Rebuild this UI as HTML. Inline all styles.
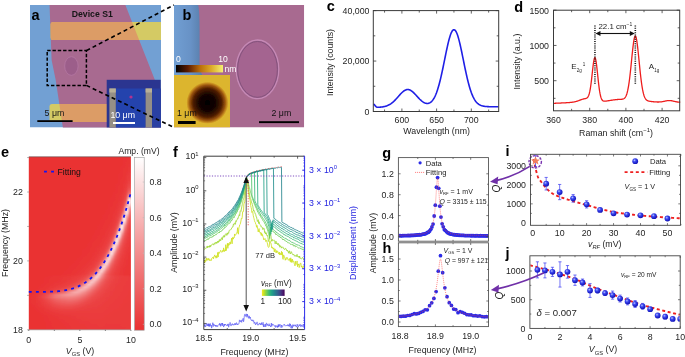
<!DOCTYPE html>
<html><head><meta charset="utf-8"><style>
html,body{margin:0;padding:0;background:#fff;width:685px;height:357px;overflow:hidden}
svg{display:block;will-change:transform}
text{font-family:"Liberation Sans", sans-serif}
</style></head><body>
<svg width="685" height="357" viewBox="0 0 685 357">
<defs><clipPath id="aclip"><rect x="30" y="5" width="131" height="122.5"/></clipPath><clipPath id="bclip"><rect x="174" y="5" width="130.2" height="122.5"/></clipPath><filter id="soft" x="-20%" y="-20%" width="140%" height="140%"><feGaussianBlur stdDeviation="0.5"/></filter><filter id="soft2" x="-20%" y="-20%" width="140%" height="140%"><feGaussianBlur stdDeviation="1.2"/></filter><radialGradient id="afm" cx="0.5" cy="0.5" r="0.5"><stop offset="0" stop-color="#000000"/><stop offset="0.4" stop-color="#140400"/><stop offset="0.68" stop-color="#4e1c00"/><stop offset="0.84" stop-color="#98520c"/><stop offset="0.94" stop-color="#c88e20"/><stop offset="1" stop-color="#dcb430"/></radialGradient><linearGradient id="afmcb" x1="0" y1="0" x2="1" y2="0"><stop offset="0" stop-color="#000000"/><stop offset="0.25" stop-color="#5a1a00"/><stop offset="0.5" stop-color="#b86a08"/><stop offset="0.75" stop-color="#dcaa28"/><stop offset="1" stop-color="#f4f070"/></linearGradient></defs>
<g clip-path="url(#aclip)">
<rect x="30" y="5" width="131" height="122.5" fill="#72a0d3" stroke="none" stroke-width="1"/>
<path d="M49.5 4 L125 4 L175 131 L63 131 L62.8 127 L55.7 80 L51.6 60 Z" fill="#a86a90"/>
<defs><clipPath id="flakeclip"><path d="M49.5 4 L125 4 L175 131 L63 131 L62.8 127 L55.7 80 L51.6 60 Z"/></clipPath></defs>
<rect x="50.6" y="22" width="115" height="18" rx="2.5" fill="#d4ca64"/>
<g clip-path="url(#flakeclip)"><rect x="50.6" y="22" width="115" height="18" rx="2.5" fill="#dc9c66"/></g>
<rect x="49.5" y="104" width="115" height="18" rx="2.5" fill="#d4ca64"/>
<g clip-path="url(#flakeclip)"><rect x="49.5" y="104" width="115" height="18" rx="2.5" fill="#dc9c66"/></g>
<ellipse cx="71.4" cy="66" rx="6.7" ry="9.3" fill="#9c5e8a" stroke="#b87aa6" stroke-width="0.7"/>
<rect x="106.7" y="79.8" width="54" height="48" fill="#2b3590" stroke="none" stroke-width="1"/>
<rect x="116" y="88.5" width="29.4" height="40" fill="#2443ad" stroke="none" stroke-width="1"/>
<rect x="152" y="88.5" width="9" height="40" fill="#2a40a2" stroke="none" stroke-width="1"/>
<rect x="109.4" y="88.5" width="6.4" height="40" fill="#958f86"/><rect x="145.6" y="88.5" width="6.4" height="40" fill="#958f86"/>
<rect x="109.4" y="88.5" width="6.4" height="4" fill="#b8b098"/><rect x="145.6" y="88.5" width="6.4" height="4" fill="#b8b098"/>
<circle cx="131" cy="97" r="1.6" fill="#b03090" filter="url(#soft)"/>
</g>
<rect x="47.2" y="50.6" width="39.2" height="34.8" fill="none" stroke="#000" stroke-width="1.5" stroke-dasharray="3.4 1.9"/>
<line x1="86.4" y1="50.6" x2="174" y2="5" stroke="#000" stroke-width="1.6" stroke-dasharray="4 3"/>
<line x1="86.4" y1="85.4" x2="174" y2="127.5" stroke="#000" stroke-width="1.6" stroke-dasharray="4 3"/>
<text x="92.3" y="16.6" font-size="8.7" text-anchor="middle" font-weight="bold" fill="#161616">Device S1</text>
<text x="44.6" y="116.2" font-size="8.8" text-anchor="start" fill="#161616">5 μm</text>
<rect x="37.3" y="120.2" width="35.3" height="1.8" fill="#000" stroke="none" stroke-width="1"/>
<text x="110.4" y="117.6" font-size="8.8" text-anchor="start" fill="#ffffff">10 μm</text>
<rect x="113" y="122" width="22" height="2" fill="#fff" stroke="none" stroke-width="1"/>
<text x="31.5" y="19.5" font-size="14.5" text-anchor="start" font-weight="bold" fill="#000">a</text>
<g clip-path="url(#bclip)">
<rect x="174" y="5" width="130.2" height="122.5" fill="#a86a90" stroke="none" stroke-width="1"/>
<defs><linearGradient id="bblue" x1="0" y1="0" x2="1" y2="0"><stop offset="0" stop-color="#72a0d4"/><stop offset="0.6" stop-color="#6892c6"/><stop offset="1" stop-color="#587ca8"/></linearGradient></defs>
<path d="M172 4 L198 4 Q199.6 10 199.6 30 L199.6 64 Q200 72 203 76 L172 76 Z" fill="url(#bblue)"/>
<ellipse cx="257.5" cy="69.3" rx="21.3" ry="29.3" fill="#a46490" stroke="#c58ab6" stroke-width="1.3"/>
<ellipse cx="257.5" cy="69.4" rx="19.9" ry="27.9" fill="none" stroke="#80507a" stroke-width="0.9" filter="url(#soft)"/>
<rect x="174" y="75" width="56" height="52.5" fill="#dcb52e" stroke="none" stroke-width="1"/>
<circle cx="207.4" cy="102.8" r="21" fill="url(#afm)" filter="url(#soft)"/>
</g>
<rect x="176" y="65" width="47" height="7.4" fill="url(#afmcb)" stroke="none" stroke-width="1"/>
<text x="176" y="62.2" font-size="8.6" text-anchor="start" fill="#fff">0</text>
<text x="218.3" y="62.2" font-size="8.6" text-anchor="start" fill="#fff">10</text>
<text x="224.4" y="71.8" font-size="8.6" text-anchor="start" fill="#fff">nm</text>
<text x="177" y="116.3" font-size="8.8" text-anchor="start" fill="#111">1 μm</text>
<rect x="178" y="121" width="17.6" height="3" fill="#000" stroke="none" stroke-width="1"/>
<text x="271.5" y="116.3" font-size="8.8" text-anchor="start" fill="#111">2 μm</text>
<rect x="259" y="121.2" width="40" height="1.9" fill="#000" stroke="none" stroke-width="1"/>
<text x="182.4" y="19.9" font-size="14.5" text-anchor="start" font-weight="bold" fill="#000">b</text>
<path d="M373.45 104.21 L373.97 104.38 L374.49 104.86 L375.01 105.5 L375.53 106.14 L376.05 106.65 L376.57 106.99 L377.09 107.19 L377.61 107.27 L378.13 107.29 L378.65 107.28 L379.17 107.26 L379.69 107.22 L380.21 107.17 L380.73 107.12 L381.25 107.07 L381.77 107 L382.29 106.93 L382.81 106.85 L383.34 106.76 L383.86 106.66 L384.38 106.55 L384.9 106.42 L385.42 106.28 L385.94 106.13 L386.46 105.96 L386.98 105.77 L387.5 105.56 L388.02 105.34 L388.54 105.09 L389.06 104.82 L389.58 104.54 L390.1 104.23 L390.62 103.89 L391.14 103.54 L391.66 103.16 L392.18 102.75 L392.7 102.32 L393.22 101.87 L393.75 101.4 L394.27 100.91 L394.79 100.39 L395.31 99.86 L395.83 99.31 L396.35 98.75 L396.87 98.18 L397.39 97.59 L397.91 97 L398.43 96.41 L398.95 95.82 L399.47 95.23 L399.99 94.65 L400.51 94.08 L401.03 93.53 L401.55 92.99 L402.07 92.49 L402.59 92.01 L403.11 91.56 L403.63 91.15 L404.16 90.78 L404.68 90.45 L405.2 90.17 L405.72 89.94 L406.24 89.76 L406.76 89.63 L407.28 89.55 L407.8 89.54 L408.32 89.57 L408.84 89.66 L409.36 89.81 L409.88 90.01 L410.4 90.25 L410.92 90.55 L411.44 90.89 L411.96 91.27 L412.48 91.68 L413 92.14 L413.52 92.62 L414.04 93.13 L414.57 93.65 L415.09 94.2 L415.61 94.76 L416.13 95.33 L416.65 95.9 L417.17 96.48 L417.69 97.05 L418.21 97.61 L418.73 98.16 L419.25 98.7 L419.77 99.23 L420.29 99.73 L420.81 100.21 L421.33 100.67 L421.85 101.09 L422.37 101.49 L422.89 101.86 L423.41 102.2 L423.93 102.49 L424.45 102.76 L424.98 102.98 L425.5 103.16 L426.02 103.3 L426.54 103.39 L427.06 103.44 L427.58 103.44 L428.1 103.38 L428.62 103.28 L429.14 103.11 L429.66 102.89 L430.18 102.6 L430.7 102.25 L431.22 101.82 L431.74 101.32 L432.26 100.75 L432.78 100.1 L433.3 99.36 L433.82 98.53 L434.34 97.61 L434.86 96.59 L435.39 95.48 L435.91 94.26 L436.43 92.94 L436.95 91.51 L437.47 89.98 L437.99 88.34 L438.51 86.6 L439.03 84.75 L439.55 82.79 L440.07 80.74 L440.59 78.6 L441.11 76.36 L441.63 74.05 L442.15 71.67 L442.67 69.22 L443.19 66.72 L443.71 64.18 L444.23 61.62 L444.75 59.05 L445.27 56.48 L445.8 53.93 L446.32 51.42 L446.84 48.97 L447.36 46.58 L447.88 44.3 L448.4 42.11 L448.92 40.06 L449.44 38.15 L449.96 36.4 L450.48 34.83 L451 33.44 L451.52 32.26 L452.04 31.3 L452.56 30.55 L453.08 30.04 L453.6 29.76 L454.12 29.72 L454.64 29.91 L455.16 30.35 L455.68 31.01 L456.21 31.9 L456.73 33.01 L457.25 34.32 L457.77 35.83 L458.29 37.52 L458.81 39.37 L459.33 41.38 L459.85 43.51 L460.37 45.77 L460.89 48.12 L461.41 50.54 L461.93 53.03 L462.45 55.57 L462.97 58.13 L463.49 60.7 L464.01 63.27 L464.53 65.82 L465.05 68.33 L465.57 70.79 L466.09 73.2 L466.62 75.54 L467.14 77.81 L467.66 79.99 L468.18 82.08 L468.7 84.07 L469.22 85.97 L469.74 87.76 L470.26 89.45 L470.78 91.04 L471.3 92.52 L471.82 93.9 L472.34 95.18 L472.86 96.37 L473.38 97.46 L473.9 98.46 L474.42 99.37 L474.94 100.2 L475.46 100.96 L475.98 101.64 L476.5 102.26 L477.03 102.81 L477.55 103.31 L478.07 103.75 L478.59 104.14 L479.11 104.49 L479.63 104.8 L480.15 105.07 L480.67 105.3 L481.19 105.51 L481.71 105.69 L482.23 105.85 L482.75 105.99 L483.27 106.1 L483.79 106.21 L484.31 106.29 L484.83 106.37 L485.35 106.43 L485.87 106.49 L486.39 106.53 L486.91 106.57 L487.44 106.61 L487.96 106.63 L488.48 106.66 L489 106.68 L489.52 106.7 L490.04 106.71 L490.56 106.72 L491.08 106.73 L491.6 106.74 L492.12 106.75 L492.64 106.75 L493.16 106.76 L493.68 106.76 L494.2 106.77 L494.72 106.77 L495.24 106.77 L495.76 106.77 L496.28 106.77 L496.8 106.78 L497.32 106.78 L497.85 106.78 L498.37 106.78" stroke="#1f1fe6" stroke-width="1.6" fill="none" stroke-linejoin="round"/>
<rect x="373.3" y="10.6" width="125.4" height="100.9" fill="none" stroke="#3a3a3a" stroke-width="1"/>
<line x1="384.55" y1="10.6" x2="384.55" y2="12.6" stroke="#3a3a3a" stroke-width="0.8"/>
<line x1="384.55" y1="111.5" x2="384.55" y2="109.5" stroke="#3a3a3a" stroke-width="0.8"/>
<line x1="401.9" y1="10.6" x2="401.9" y2="13.6" stroke="#3a3a3a" stroke-width="0.8"/>
<line x1="401.9" y1="111.5" x2="401.9" y2="108.5" stroke="#3a3a3a" stroke-width="0.8"/>
<line x1="419.25" y1="10.6" x2="419.25" y2="12.6" stroke="#3a3a3a" stroke-width="0.8"/>
<line x1="419.25" y1="111.5" x2="419.25" y2="109.5" stroke="#3a3a3a" stroke-width="0.8"/>
<line x1="436.6" y1="10.6" x2="436.6" y2="13.6" stroke="#3a3a3a" stroke-width="0.8"/>
<line x1="436.6" y1="111.5" x2="436.6" y2="108.5" stroke="#3a3a3a" stroke-width="0.8"/>
<line x1="453.95" y1="10.6" x2="453.95" y2="12.6" stroke="#3a3a3a" stroke-width="0.8"/>
<line x1="453.95" y1="111.5" x2="453.95" y2="109.5" stroke="#3a3a3a" stroke-width="0.8"/>
<line x1="471.3" y1="10.6" x2="471.3" y2="13.6" stroke="#3a3a3a" stroke-width="0.8"/>
<line x1="471.3" y1="111.5" x2="471.3" y2="108.5" stroke="#3a3a3a" stroke-width="0.8"/>
<line x1="488.65" y1="10.6" x2="488.65" y2="12.6" stroke="#3a3a3a" stroke-width="0.8"/>
<line x1="488.65" y1="111.5" x2="488.65" y2="109.5" stroke="#3a3a3a" stroke-width="0.8"/>
<line x1="373.3" y1="111.5" x2="376.3" y2="111.5" stroke="#3a3a3a" stroke-width="0.8"/>
<line x1="498.7" y1="111.5" x2="495.7" y2="111.5" stroke="#3a3a3a" stroke-width="0.8"/>
<line x1="373.3" y1="86.28" x2="375.3" y2="86.28" stroke="#3a3a3a" stroke-width="0.8"/>
<line x1="498.7" y1="86.28" x2="496.7" y2="86.28" stroke="#3a3a3a" stroke-width="0.8"/>
<line x1="373.3" y1="61.06" x2="376.3" y2="61.06" stroke="#3a3a3a" stroke-width="0.8"/>
<line x1="498.7" y1="61.06" x2="495.7" y2="61.06" stroke="#3a3a3a" stroke-width="0.8"/>
<line x1="373.3" y1="35.84" x2="375.3" y2="35.84" stroke="#3a3a3a" stroke-width="0.8"/>
<line x1="498.7" y1="35.84" x2="496.7" y2="35.84" stroke="#3a3a3a" stroke-width="0.8"/>
<line x1="373.3" y1="10.62" x2="376.3" y2="10.62" stroke="#3a3a3a" stroke-width="0.8"/>
<line x1="498.7" y1="10.62" x2="495.7" y2="10.62" stroke="#3a3a3a" stroke-width="0.8"/>
<text x="369.5" y="114.6" font-size="8.8" text-anchor="end" fill="#242424">0</text>
<text x="369.5" y="64.16" font-size="8.8" text-anchor="end" fill="#242424">20,000</text>
<text x="369.5" y="13.72" font-size="8.8" text-anchor="end" fill="#242424">40,000</text>
<text x="401.9" y="122.6" font-size="8.8" text-anchor="middle" fill="#242424">600</text>
<text x="436.6" y="122.6" font-size="8.8" text-anchor="middle" fill="#242424">650</text>
<text x="471.3" y="122.6" font-size="8.8" text-anchor="middle" fill="#242424">700</text>
<text x="436.6" y="134" font-size="8.8" text-anchor="middle" fill="#242424">Wavelength (nm)</text>
<text x="333" y="62.5" font-size="8.8" text-anchor="middle" fill="#242424" transform="rotate(-90 333 62.5)">Intensity (counts)</text>
<text x="326.8" y="11" font-size="14.5" text-anchor="start" font-weight="bold" fill="#000">c</text>
<path d="M553.5 103.35 L553.95 103.33 L554.4 103.31 L554.86 103.29 L555.31 103.27 L555.76 103.25 L556.22 103.22 L556.67 103.2 L557.12 103.18 L557.57 103.16 L558.02 103.14 L558.48 103.12 L558.93 103.09 L559.38 103.07 L559.84 103.05 L560.29 103.03 L560.74 103.01 L561.19 102.98 L561.64 102.96 L562.1 102.94 L562.55 102.92 L563 102.89 L563.46 102.87 L563.91 102.85 L564.36 102.83 L564.81 102.8 L565.26 102.78 L565.72 102.76 L566.17 102.73 L566.62 102.71 L567.08 102.68 L567.53 102.65 L567.98 102.62 L568.43 102.6 L568.88 102.56 L569.34 102.53 L569.79 102.49 L570.24 102.46 L570.7 102.41 L571.15 102.37 L571.6 102.32 L572.05 102.26 L572.5 102.2 L572.96 102.13 L573.41 102.05 L573.86 101.97 L574.32 101.87 L574.77 101.77 L575.22 101.66 L575.67 101.56 L576.12 101.45 L576.58 101.32 L577.03 101.19 L577.48 101.05 L577.93 100.9 L578.39 100.74 L578.84 100.58 L579.29 100.41 L579.75 100.23 L580.2 100.06 L580.65 99.89 L581.1 99.72 L581.55 99.56 L582.01 99.4 L582.46 99.25 L582.91 99.12 L583.37 99 L583.82 98.89 L584.27 98.79 L584.72 98.7 L585.17 98.61 L585.63 98.51 L586.08 98.38 L586.53 98.2 L586.99 97.95 L587.44 97.57 L587.89 97.02 L588.34 96.25 L588.79 95.17 L589.25 93.74 L589.7 91.89 L590.15 89.56 L590.61 86.76 L591.06 83.49 L591.51 79.82 L591.96 75.86 L592.41 71.77 L592.87 67.78 L593.32 64.12 L593.77 61.05 L594.23 58.83 L594.68 57.66 L595.13 57.67 L595.58 58.87 L596.03 61.16 L596.49 64.33 L596.94 68.14 L597.39 72.33 L597.85 76.64 L598.3 80.85 L598.75 84.79 L599.2 88.33 L599.65 91.4 L600.11 93.96 L600.56 96.02 L601.01 97.63 L601.47 98.84 L601.92 99.72 L602.37 100.34 L602.82 100.74 L603.27 100.99 L603.73 101.14 L604.18 101.2 L604.63 101.21 L605.09 101.19 L605.54 101.15 L605.99 101.09 L606.44 101.03 L606.89 100.96 L607.35 100.89 L607.8 100.82 L608.25 100.74 L608.71 100.67 L609.16 100.6 L609.61 100.52 L610.06 100.45 L610.51 100.38 L610.97 100.31 L611.42 100.24 L611.87 100.17 L612.33 100.1 L612.78 100.03 L613.23 99.97 L613.68 99.9 L614.13 99.84 L614.59 99.78 L615.04 99.73 L615.49 99.68 L615.95 99.63 L616.4 99.59 L616.85 99.55 L617.3 99.52 L617.75 99.49 L618.21 99.47 L618.66 99.44 L619.11 99.42 L619.57 99.41 L620.02 99.39 L620.47 99.37 L620.92 99.35 L621.38 99.32 L621.83 99.27 L622.28 99.21 L622.73 99.11 L623.18 98.98 L623.64 98.79 L624.09 98.52 L624.54 98.16 L625 97.68 L625.45 97.06 L625.9 96.24 L626.35 95.22 L626.81 93.93 L627.26 92.36 L627.71 90.46 L628.16 88.22 L628.62 85.6 L629.07 82.6 L629.52 79.23 L629.97 75.5 L630.42 71.47 L630.88 67.2 L631.33 62.76 L631.78 58.27 L632.24 53.84 L632.69 49.61 L633.14 45.71 L633.59 42.3 L634.04 39.51 L634.5 37.48 L634.95 36.3 L635.4 36.04 L635.86 36.71 L636.31 38.27 L636.76 40.65 L637.21 43.74 L637.66 47.4 L638.12 51.49 L638.57 55.86 L639.02 60.38 L639.48 64.91 L639.93 69.34 L640.38 73.58 L640.83 77.55 L641.28 81.19 L641.74 84.48 L642.19 87.39 L642.64 89.93 L643.1 92.11 L643.55 93.94 L644 95.47 L644.45 96.72 L644.9 97.74 L645.36 98.55 L645.81 99.2 L646.26 99.71 L646.72 100.1 L647.17 100.41 L647.62 100.66 L648.07 100.85 L648.52 101 L648.98 101.12 L649.43 101.23 L649.88 101.31 L650.34 101.39 L650.79 101.45 L651.24 101.51 L651.69 101.57 L652.14 101.62 L652.6 101.67 L653.05 101.71 L653.5 101.75 L653.96 101.79 L654.41 101.83 L654.86 101.86 L655.31 101.89 L655.76 101.92 L656.22 101.94 L656.67 101.96 L657.12 101.98 L657.58 101.99 L658.03 101.99 L658.48 101.99 L658.93 101.98 L659.38 101.97 L659.84 101.95 L660.29 101.92 L660.74 101.88 L661.2 101.84 L661.65 101.78 L662.1 101.72 L662.55 101.65 L663 101.57 L663.46 101.48 L663.91 101.39 L664.36 101.29 L664.82 101.19 L665.27 101.09 L665.72 100.99 L666.17 100.89 L666.62 100.81 L667.08 100.73 L667.53 100.66 L667.98 100.61 L668.43 100.57 L668.89 100.54 L669.34 100.54 L669.79 100.55 L670.25 100.58 L670.7 100.62 L671.15 100.69 L671.6 100.76 L672.06 100.85 L672.51 100.94 L672.96 101.04 L673.41 101.15 L673.87 101.26 L674.32 101.37 L674.77 101.47 L675.22 101.57 L675.67 101.67 L676.13 101.76 L676.58 101.85 L677.03 101.92 L677.49 101.99 L677.94 102.05 L678.39 102.1 L678.84 102.15 L679.29 102.19 L679.75 102.22 L680.2 102.25" stroke="#ee1c1c" stroke-width="1.3" fill="none" stroke-linejoin="round"/>
<rect x="553.5" y="10.2" width="126.2" height="100.6" fill="none" stroke="#3a3a3a" stroke-width="1"/>
<line x1="571.6" y1="10.2" x2="571.6" y2="12.2" stroke="#3a3a3a" stroke-width="0.8"/>
<line x1="571.6" y1="110.8" x2="571.6" y2="108.8" stroke="#3a3a3a" stroke-width="0.8"/>
<line x1="589.7" y1="10.2" x2="589.7" y2="13.2" stroke="#3a3a3a" stroke-width="0.8"/>
<line x1="589.7" y1="110.8" x2="589.7" y2="107.8" stroke="#3a3a3a" stroke-width="0.8"/>
<line x1="607.8" y1="10.2" x2="607.8" y2="12.2" stroke="#3a3a3a" stroke-width="0.8"/>
<line x1="607.8" y1="110.8" x2="607.8" y2="108.8" stroke="#3a3a3a" stroke-width="0.8"/>
<line x1="625.9" y1="10.2" x2="625.9" y2="13.2" stroke="#3a3a3a" stroke-width="0.8"/>
<line x1="625.9" y1="110.8" x2="625.9" y2="107.8" stroke="#3a3a3a" stroke-width="0.8"/>
<line x1="644" y1="10.2" x2="644" y2="12.2" stroke="#3a3a3a" stroke-width="0.8"/>
<line x1="644" y1="110.8" x2="644" y2="108.8" stroke="#3a3a3a" stroke-width="0.8"/>
<line x1="662.1" y1="10.2" x2="662.1" y2="13.2" stroke="#3a3a3a" stroke-width="0.8"/>
<line x1="662.1" y1="110.8" x2="662.1" y2="107.8" stroke="#3a3a3a" stroke-width="0.8"/>
<line x1="553.5" y1="98.32" x2="555.5" y2="98.32" stroke="#3a3a3a" stroke-width="0.8"/>
<line x1="679.7" y1="98.32" x2="677.7" y2="98.32" stroke="#3a3a3a" stroke-width="0.8"/>
<line x1="553.5" y1="80.7" x2="556.5" y2="80.7" stroke="#3a3a3a" stroke-width="0.8"/>
<line x1="679.7" y1="80.7" x2="676.7" y2="80.7" stroke="#3a3a3a" stroke-width="0.8"/>
<line x1="553.5" y1="63.07" x2="555.5" y2="63.07" stroke="#3a3a3a" stroke-width="0.8"/>
<line x1="679.7" y1="63.07" x2="677.7" y2="63.07" stroke="#3a3a3a" stroke-width="0.8"/>
<line x1="553.5" y1="45.45" x2="556.5" y2="45.45" stroke="#3a3a3a" stroke-width="0.8"/>
<line x1="679.7" y1="45.45" x2="676.7" y2="45.45" stroke="#3a3a3a" stroke-width="0.8"/>
<line x1="553.5" y1="27.82" x2="555.5" y2="27.82" stroke="#3a3a3a" stroke-width="0.8"/>
<line x1="679.7" y1="27.82" x2="677.7" y2="27.82" stroke="#3a3a3a" stroke-width="0.8"/>
<line x1="553.5" y1="10.2" x2="556.5" y2="10.2" stroke="#3a3a3a" stroke-width="0.8"/>
<line x1="679.7" y1="10.2" x2="676.7" y2="10.2" stroke="#3a3a3a" stroke-width="0.8"/>
<text x="549" y="84.4" font-size="8.8" text-anchor="end" fill="#242424">500</text>
<text x="549" y="49.15" font-size="8.8" text-anchor="end" fill="#242424">1000</text>
<text x="549" y="13.9" font-size="8.8" text-anchor="end" fill="#242424">1500</text>
<text x="553.5" y="122.6" font-size="8.8" text-anchor="middle" fill="#242424">360</text>
<text x="589.7" y="122.6" font-size="8.8" text-anchor="middle" fill="#242424">380</text>
<text x="625.9" y="122.6" font-size="8.8" text-anchor="middle" fill="#242424">400</text>
<text x="662.1" y="122.6" font-size="8.8" text-anchor="middle" fill="#242424">420</text>
<text x="616" y="135.5" font-size="8.8" text-anchor="middle" fill="#242424">Raman shift (cm<tspan font-size="6" dy="-3.5">−1</tspan><tspan dy="3.5">)</tspan></text>
<text x="520.2" y="61.5" font-size="8.8" text-anchor="middle" fill="#242424" transform="rotate(-90 520.2 61.5)">Intensity (a.u.)</text>
<text x="514.3" y="11.6" font-size="14.5" text-anchor="start" font-weight="bold" fill="#000">d</text>
<line x1="594.95" y1="25.6" x2="594.95" y2="84.8" stroke="#111" stroke-width="1.6" stroke-dasharray="1 1.2"/>
<line x1="635.31" y1="25.6" x2="635.31" y2="84.8" stroke="#111" stroke-width="1.6" stroke-dasharray="1 1.2"/>
<line x1="599.45" y1="33.5" x2="630.81" y2="33.5" stroke="#111" stroke-width="1.1"/>
<path d="M595.45 33.5 L600.45 31 L600.45 36 Z M634.81 33.5 L629.81 31 L629.81 36 Z" fill="#111"/>
<text x="615.3" y="28.6" font-size="7.9" text-anchor="middle" fill="#242424">22.1 cm<tspan font-size="5" dy="-3">−1</tspan></text>
<text x="571.3" y="69" font-size="8.0" text-anchor="start" fill="#242424">E<tspan font-size="4.5" dy="2.5">2g</tspan><tspan font-size="4.5" dy="-5.5" dx="1.2">1</tspan></text>
<text x="648.8" y="69" font-size="8.0" text-anchor="start" fill="#242424">A<tspan font-size="4.5" dy="2.5">1g</tspan></text>
<defs>
<linearGradient id="eg0" x1="0" y1="0" x2="0" y2="1"><stop offset="0.000" stop-color="#ea3132"/><stop offset="0.014" stop-color="#ea3132"/><stop offset="0.029" stop-color="#ea3132"/><stop offset="0.043" stop-color="#ea3132"/><stop offset="0.057" stop-color="#ea3132"/><stop offset="0.071" stop-color="#ea3132"/><stop offset="0.086" stop-color="#ea3132"/><stop offset="0.100" stop-color="#ea3132"/><stop offset="0.114" stop-color="#ea3132"/><stop offset="0.129" stop-color="#ea3132"/><stop offset="0.143" stop-color="#ea3132"/><stop offset="0.157" stop-color="#ea3132"/><stop offset="0.171" stop-color="#ea3132"/><stop offset="0.186" stop-color="#ea3132"/><stop offset="0.200" stop-color="#ea3132"/><stop offset="0.214" stop-color="#ea3132"/><stop offset="0.229" stop-color="#ea3132"/><stop offset="0.243" stop-color="#ea3132"/><stop offset="0.257" stop-color="#ea3132"/><stop offset="0.271" stop-color="#ea3132"/><stop offset="0.286" stop-color="#ea3132"/><stop offset="0.300" stop-color="#ea3132"/><stop offset="0.314" stop-color="#ea3132"/><stop offset="0.329" stop-color="#ea3132"/><stop offset="0.343" stop-color="#ea3132"/><stop offset="0.357" stop-color="#ea3132"/><stop offset="0.371" stop-color="#ea3132"/><stop offset="0.386" stop-color="#ea3132"/><stop offset="0.400" stop-color="#ea3132"/><stop offset="0.414" stop-color="#ea3132"/><stop offset="0.429" stop-color="#ea3132"/><stop offset="0.443" stop-color="#ea3132"/><stop offset="0.457" stop-color="#ea3132"/><stop offset="0.471" stop-color="#ea3132"/><stop offset="0.486" stop-color="#ea3132"/><stop offset="0.500" stop-color="#ea3132"/><stop offset="0.514" stop-color="#ea3132"/><stop offset="0.529" stop-color="#ea3132"/><stop offset="0.543" stop-color="#ea3132"/><stop offset="0.557" stop-color="#ea3132"/><stop offset="0.571" stop-color="#ea3132"/><stop offset="0.586" stop-color="#ea3132"/><stop offset="0.600" stop-color="#ea3132"/><stop offset="0.614" stop-color="#ea3132"/><stop offset="0.629" stop-color="#ea3132"/><stop offset="0.643" stop-color="#ea3132"/><stop offset="0.657" stop-color="#ea3132"/><stop offset="0.671" stop-color="#ea3132"/><stop offset="0.686" stop-color="#ea3132"/><stop offset="0.700" stop-color="#ea3132"/><stop offset="0.714" stop-color="#ea3132"/><stop offset="0.729" stop-color="#ea3132"/><stop offset="0.743" stop-color="#ea3132"/><stop offset="0.757" stop-color="#ea3132"/><stop offset="0.771" stop-color="#ea3132"/><stop offset="0.786" stop-color="#ea3233"/><stop offset="0.800" stop-color="#ea3233"/><stop offset="0.814" stop-color="#ea3334"/><stop offset="0.829" stop-color="#ea3334"/><stop offset="0.843" stop-color="#ea3233"/><stop offset="0.857" stop-color="#ea3233"/><stop offset="0.871" stop-color="#ea3132"/><stop offset="0.886" stop-color="#ea3132"/><stop offset="0.900" stop-color="#ea3132"/><stop offset="0.914" stop-color="#ea3132"/><stop offset="0.929" stop-color="#ea3132"/><stop offset="0.943" stop-color="#ea3132"/><stop offset="0.957" stop-color="#ea3132"/><stop offset="0.971" stop-color="#ea3132"/><stop offset="0.986" stop-color="#ea3132"/><stop offset="1.000" stop-color="#ea3132"/></linearGradient>
<linearGradient id="eg1" x1="0" y1="0" x2="0" y2="1"><stop offset="0.000" stop-color="#ea3132"/><stop offset="0.014" stop-color="#ea3132"/><stop offset="0.029" stop-color="#ea3132"/><stop offset="0.043" stop-color="#ea3132"/><stop offset="0.057" stop-color="#ea3132"/><stop offset="0.071" stop-color="#ea3132"/><stop offset="0.086" stop-color="#ea3132"/><stop offset="0.100" stop-color="#ea3132"/><stop offset="0.114" stop-color="#ea3132"/><stop offset="0.129" stop-color="#ea3132"/><stop offset="0.143" stop-color="#ea3132"/><stop offset="0.157" stop-color="#ea3132"/><stop offset="0.171" stop-color="#ea3132"/><stop offset="0.186" stop-color="#ea3132"/><stop offset="0.200" stop-color="#ea3132"/><stop offset="0.214" stop-color="#ea3132"/><stop offset="0.229" stop-color="#ea3132"/><stop offset="0.243" stop-color="#ea3132"/><stop offset="0.257" stop-color="#ea3132"/><stop offset="0.271" stop-color="#ea3132"/><stop offset="0.286" stop-color="#ea3132"/><stop offset="0.300" stop-color="#ea3132"/><stop offset="0.314" stop-color="#ea3132"/><stop offset="0.329" stop-color="#ea3132"/><stop offset="0.343" stop-color="#ea3132"/><stop offset="0.357" stop-color="#ea3132"/><stop offset="0.371" stop-color="#ea3132"/><stop offset="0.386" stop-color="#ea3132"/><stop offset="0.400" stop-color="#ea3132"/><stop offset="0.414" stop-color="#ea3132"/><stop offset="0.429" stop-color="#ea3132"/><stop offset="0.443" stop-color="#ea3132"/><stop offset="0.457" stop-color="#ea3132"/><stop offset="0.471" stop-color="#ea3132"/><stop offset="0.486" stop-color="#ea3132"/><stop offset="0.500" stop-color="#ea3132"/><stop offset="0.514" stop-color="#ea3132"/><stop offset="0.529" stop-color="#ea3132"/><stop offset="0.543" stop-color="#ea3132"/><stop offset="0.557" stop-color="#ea3132"/><stop offset="0.571" stop-color="#ea3132"/><stop offset="0.586" stop-color="#ea3132"/><stop offset="0.600" stop-color="#ea3132"/><stop offset="0.614" stop-color="#ea3132"/><stop offset="0.629" stop-color="#ea3132"/><stop offset="0.643" stop-color="#ea3132"/><stop offset="0.657" stop-color="#ea3132"/><stop offset="0.671" stop-color="#ea3132"/><stop offset="0.686" stop-color="#ea3132"/><stop offset="0.700" stop-color="#ea3132"/><stop offset="0.714" stop-color="#ea3132"/><stop offset="0.729" stop-color="#ea3132"/><stop offset="0.743" stop-color="#ea3132"/><stop offset="0.757" stop-color="#ea3132"/><stop offset="0.771" stop-color="#ea3233"/><stop offset="0.786" stop-color="#ea3334"/><stop offset="0.800" stop-color="#ea3435"/><stop offset="0.814" stop-color="#ea3435"/><stop offset="0.829" stop-color="#ea3435"/><stop offset="0.843" stop-color="#ea3334"/><stop offset="0.857" stop-color="#ea3233"/><stop offset="0.871" stop-color="#ea3233"/><stop offset="0.886" stop-color="#ea3132"/><stop offset="0.900" stop-color="#ea3132"/><stop offset="0.914" stop-color="#ea3132"/><stop offset="0.929" stop-color="#ea3132"/><stop offset="0.943" stop-color="#ea3132"/><stop offset="0.957" stop-color="#ea3132"/><stop offset="0.971" stop-color="#ea3132"/><stop offset="0.986" stop-color="#ea3132"/><stop offset="1.000" stop-color="#ea3132"/></linearGradient>
<linearGradient id="eg2" x1="0" y1="0" x2="0" y2="1"><stop offset="0.000" stop-color="#ea3132"/><stop offset="0.014" stop-color="#ea3132"/><stop offset="0.029" stop-color="#ea3132"/><stop offset="0.043" stop-color="#ea3132"/><stop offset="0.057" stop-color="#ea3132"/><stop offset="0.071" stop-color="#ea3132"/><stop offset="0.086" stop-color="#ea3132"/><stop offset="0.100" stop-color="#ea3132"/><stop offset="0.114" stop-color="#ea3132"/><stop offset="0.129" stop-color="#ea3132"/><stop offset="0.143" stop-color="#ea3132"/><stop offset="0.157" stop-color="#ea3132"/><stop offset="0.171" stop-color="#ea3132"/><stop offset="0.186" stop-color="#ea3132"/><stop offset="0.200" stop-color="#ea3132"/><stop offset="0.214" stop-color="#ea3132"/><stop offset="0.229" stop-color="#ea3132"/><stop offset="0.243" stop-color="#ea3132"/><stop offset="0.257" stop-color="#ea3132"/><stop offset="0.271" stop-color="#ea3132"/><stop offset="0.286" stop-color="#ea3132"/><stop offset="0.300" stop-color="#ea3132"/><stop offset="0.314" stop-color="#ea3132"/><stop offset="0.329" stop-color="#ea3132"/><stop offset="0.343" stop-color="#ea3132"/><stop offset="0.357" stop-color="#ea3132"/><stop offset="0.371" stop-color="#ea3132"/><stop offset="0.386" stop-color="#ea3132"/><stop offset="0.400" stop-color="#ea3132"/><stop offset="0.414" stop-color="#ea3132"/><stop offset="0.429" stop-color="#ea3132"/><stop offset="0.443" stop-color="#ea3132"/><stop offset="0.457" stop-color="#ea3132"/><stop offset="0.471" stop-color="#ea3132"/><stop offset="0.486" stop-color="#ea3132"/><stop offset="0.500" stop-color="#ea3132"/><stop offset="0.514" stop-color="#ea3132"/><stop offset="0.529" stop-color="#ea3132"/><stop offset="0.543" stop-color="#ea3132"/><stop offset="0.557" stop-color="#ea3132"/><stop offset="0.571" stop-color="#ea3132"/><stop offset="0.586" stop-color="#ea3132"/><stop offset="0.600" stop-color="#ea3132"/><stop offset="0.614" stop-color="#ea3132"/><stop offset="0.629" stop-color="#ea3132"/><stop offset="0.643" stop-color="#ea3132"/><stop offset="0.657" stop-color="#ea3132"/><stop offset="0.671" stop-color="#ea3132"/><stop offset="0.686" stop-color="#ea3132"/><stop offset="0.700" stop-color="#ea3132"/><stop offset="0.714" stop-color="#ea3132"/><stop offset="0.729" stop-color="#ea3132"/><stop offset="0.743" stop-color="#ea3132"/><stop offset="0.757" stop-color="#ea3233"/><stop offset="0.771" stop-color="#ea3334"/><stop offset="0.786" stop-color="#ea3536"/><stop offset="0.800" stop-color="#ea3637"/><stop offset="0.814" stop-color="#ea3636"/><stop offset="0.829" stop-color="#ea3536"/><stop offset="0.843" stop-color="#ea3435"/><stop offset="0.857" stop-color="#ea3334"/><stop offset="0.871" stop-color="#ea3233"/><stop offset="0.886" stop-color="#ea3233"/><stop offset="0.900" stop-color="#ea3132"/><stop offset="0.914" stop-color="#ea3132"/><stop offset="0.929" stop-color="#ea3132"/><stop offset="0.943" stop-color="#ea3132"/><stop offset="0.957" stop-color="#ea3132"/><stop offset="0.971" stop-color="#ea3132"/><stop offset="0.986" stop-color="#ea3132"/><stop offset="1.000" stop-color="#ea3132"/></linearGradient>
<linearGradient id="eg3" x1="0" y1="0" x2="0" y2="1"><stop offset="0.000" stop-color="#ea3132"/><stop offset="0.014" stop-color="#ea3132"/><stop offset="0.029" stop-color="#ea3132"/><stop offset="0.043" stop-color="#ea3132"/><stop offset="0.057" stop-color="#ea3132"/><stop offset="0.071" stop-color="#ea3132"/><stop offset="0.086" stop-color="#ea3132"/><stop offset="0.100" stop-color="#ea3132"/><stop offset="0.114" stop-color="#ea3132"/><stop offset="0.129" stop-color="#ea3132"/><stop offset="0.143" stop-color="#ea3132"/><stop offset="0.157" stop-color="#ea3132"/><stop offset="0.171" stop-color="#ea3132"/><stop offset="0.186" stop-color="#ea3132"/><stop offset="0.200" stop-color="#ea3132"/><stop offset="0.214" stop-color="#ea3132"/><stop offset="0.229" stop-color="#ea3132"/><stop offset="0.243" stop-color="#ea3132"/><stop offset="0.257" stop-color="#ea3132"/><stop offset="0.271" stop-color="#ea3132"/><stop offset="0.286" stop-color="#ea3132"/><stop offset="0.300" stop-color="#ea3132"/><stop offset="0.314" stop-color="#ea3132"/><stop offset="0.329" stop-color="#ea3132"/><stop offset="0.343" stop-color="#ea3132"/><stop offset="0.357" stop-color="#ea3132"/><stop offset="0.371" stop-color="#ea3132"/><stop offset="0.386" stop-color="#ea3132"/><stop offset="0.400" stop-color="#ea3132"/><stop offset="0.414" stop-color="#ea3132"/><stop offset="0.429" stop-color="#ea3132"/><stop offset="0.443" stop-color="#ea3132"/><stop offset="0.457" stop-color="#ea3132"/><stop offset="0.471" stop-color="#ea3132"/><stop offset="0.486" stop-color="#ea3132"/><stop offset="0.500" stop-color="#ea3132"/><stop offset="0.514" stop-color="#ea3132"/><stop offset="0.529" stop-color="#ea3132"/><stop offset="0.543" stop-color="#ea3132"/><stop offset="0.557" stop-color="#ea3132"/><stop offset="0.571" stop-color="#ea3132"/><stop offset="0.586" stop-color="#ea3132"/><stop offset="0.600" stop-color="#ea3132"/><stop offset="0.614" stop-color="#ea3132"/><stop offset="0.629" stop-color="#ea3132"/><stop offset="0.643" stop-color="#ea3132"/><stop offset="0.657" stop-color="#ea3132"/><stop offset="0.671" stop-color="#ea3132"/><stop offset="0.686" stop-color="#ea3132"/><stop offset="0.700" stop-color="#ea3132"/><stop offset="0.714" stop-color="#ea3132"/><stop offset="0.729" stop-color="#ea3233"/><stop offset="0.743" stop-color="#ea3233"/><stop offset="0.757" stop-color="#ea3334"/><stop offset="0.771" stop-color="#ea3435"/><stop offset="0.786" stop-color="#ea3839"/><stop offset="0.800" stop-color="#ea3a3b"/><stop offset="0.814" stop-color="#ea3839"/><stop offset="0.829" stop-color="#ea3738"/><stop offset="0.843" stop-color="#ea3637"/><stop offset="0.857" stop-color="#ea3435"/><stop offset="0.871" stop-color="#ea3334"/><stop offset="0.886" stop-color="#ea3233"/><stop offset="0.900" stop-color="#ea3233"/><stop offset="0.914" stop-color="#ea3233"/><stop offset="0.929" stop-color="#ea3132"/><stop offset="0.943" stop-color="#ea3132"/><stop offset="0.957" stop-color="#ea3132"/><stop offset="0.971" stop-color="#ea3132"/><stop offset="0.986" stop-color="#ea3132"/><stop offset="1.000" stop-color="#ea3132"/></linearGradient>
<linearGradient id="eg4" x1="0" y1="0" x2="0" y2="1"><stop offset="0.000" stop-color="#ea3132"/><stop offset="0.014" stop-color="#ea3132"/><stop offset="0.029" stop-color="#ea3132"/><stop offset="0.043" stop-color="#ea3132"/><stop offset="0.057" stop-color="#ea3132"/><stop offset="0.071" stop-color="#ea3132"/><stop offset="0.086" stop-color="#ea3132"/><stop offset="0.100" stop-color="#ea3132"/><stop offset="0.114" stop-color="#ea3132"/><stop offset="0.129" stop-color="#ea3132"/><stop offset="0.143" stop-color="#ea3132"/><stop offset="0.157" stop-color="#ea3132"/><stop offset="0.171" stop-color="#ea3132"/><stop offset="0.186" stop-color="#ea3132"/><stop offset="0.200" stop-color="#ea3132"/><stop offset="0.214" stop-color="#ea3132"/><stop offset="0.229" stop-color="#ea3132"/><stop offset="0.243" stop-color="#ea3132"/><stop offset="0.257" stop-color="#ea3132"/><stop offset="0.271" stop-color="#ea3132"/><stop offset="0.286" stop-color="#ea3132"/><stop offset="0.300" stop-color="#ea3132"/><stop offset="0.314" stop-color="#ea3132"/><stop offset="0.329" stop-color="#ea3132"/><stop offset="0.343" stop-color="#ea3132"/><stop offset="0.357" stop-color="#ea3132"/><stop offset="0.371" stop-color="#ea3132"/><stop offset="0.386" stop-color="#ea3132"/><stop offset="0.400" stop-color="#ea3132"/><stop offset="0.414" stop-color="#ea3132"/><stop offset="0.429" stop-color="#ea3132"/><stop offset="0.443" stop-color="#ea3132"/><stop offset="0.457" stop-color="#ea3132"/><stop offset="0.471" stop-color="#ea3132"/><stop offset="0.486" stop-color="#ea3132"/><stop offset="0.500" stop-color="#ea3132"/><stop offset="0.514" stop-color="#ea3132"/><stop offset="0.529" stop-color="#ea3132"/><stop offset="0.543" stop-color="#ea3132"/><stop offset="0.557" stop-color="#ea3132"/><stop offset="0.571" stop-color="#ea3132"/><stop offset="0.586" stop-color="#ea3132"/><stop offset="0.600" stop-color="#ea3132"/><stop offset="0.614" stop-color="#ea3132"/><stop offset="0.629" stop-color="#ea3132"/><stop offset="0.643" stop-color="#ea3132"/><stop offset="0.657" stop-color="#ea3132"/><stop offset="0.671" stop-color="#ea3132"/><stop offset="0.686" stop-color="#ea3233"/><stop offset="0.700" stop-color="#ea3233"/><stop offset="0.714" stop-color="#ea3233"/><stop offset="0.729" stop-color="#ea3233"/><stop offset="0.743" stop-color="#ea3334"/><stop offset="0.757" stop-color="#ea3435"/><stop offset="0.771" stop-color="#ea3637"/><stop offset="0.786" stop-color="#eb3c3d"/><stop offset="0.800" stop-color="#eb3f40"/><stop offset="0.814" stop-color="#eb3b3c"/><stop offset="0.829" stop-color="#ea393a"/><stop offset="0.843" stop-color="#ea3839"/><stop offset="0.857" stop-color="#ea3637"/><stop offset="0.871" stop-color="#ea3435"/><stop offset="0.886" stop-color="#ea3334"/><stop offset="0.900" stop-color="#ea3233"/><stop offset="0.914" stop-color="#ea3233"/><stop offset="0.929" stop-color="#ea3233"/><stop offset="0.943" stop-color="#ea3233"/><stop offset="0.957" stop-color="#ea3233"/><stop offset="0.971" stop-color="#ea3233"/><stop offset="0.986" stop-color="#ea3233"/><stop offset="1.000" stop-color="#ea3233"/></linearGradient>
<linearGradient id="eg5" x1="0" y1="0" x2="0" y2="1"><stop offset="0.000" stop-color="#ea3132"/><stop offset="0.014" stop-color="#ea3132"/><stop offset="0.029" stop-color="#ea3132"/><stop offset="0.043" stop-color="#ea3132"/><stop offset="0.057" stop-color="#ea3132"/><stop offset="0.071" stop-color="#ea3132"/><stop offset="0.086" stop-color="#ea3132"/><stop offset="0.100" stop-color="#ea3132"/><stop offset="0.114" stop-color="#ea3132"/><stop offset="0.129" stop-color="#ea3132"/><stop offset="0.143" stop-color="#ea3132"/><stop offset="0.157" stop-color="#ea3132"/><stop offset="0.171" stop-color="#ea3132"/><stop offset="0.186" stop-color="#ea3132"/><stop offset="0.200" stop-color="#ea3132"/><stop offset="0.214" stop-color="#ea3132"/><stop offset="0.229" stop-color="#ea3132"/><stop offset="0.243" stop-color="#ea3132"/><stop offset="0.257" stop-color="#ea3132"/><stop offset="0.271" stop-color="#ea3132"/><stop offset="0.286" stop-color="#ea3132"/><stop offset="0.300" stop-color="#ea3132"/><stop offset="0.314" stop-color="#ea3132"/><stop offset="0.329" stop-color="#ea3132"/><stop offset="0.343" stop-color="#ea3132"/><stop offset="0.357" stop-color="#ea3132"/><stop offset="0.371" stop-color="#ea3132"/><stop offset="0.386" stop-color="#ea3132"/><stop offset="0.400" stop-color="#ea3132"/><stop offset="0.414" stop-color="#ea3132"/><stop offset="0.429" stop-color="#ea3132"/><stop offset="0.443" stop-color="#ea3132"/><stop offset="0.457" stop-color="#ea3132"/><stop offset="0.471" stop-color="#ea3132"/><stop offset="0.486" stop-color="#ea3132"/><stop offset="0.500" stop-color="#ea3132"/><stop offset="0.514" stop-color="#ea3132"/><stop offset="0.529" stop-color="#ea3132"/><stop offset="0.543" stop-color="#ea3132"/><stop offset="0.557" stop-color="#ea3132"/><stop offset="0.571" stop-color="#ea3132"/><stop offset="0.586" stop-color="#ea3132"/><stop offset="0.600" stop-color="#ea3132"/><stop offset="0.614" stop-color="#ea3132"/><stop offset="0.629" stop-color="#ea3132"/><stop offset="0.643" stop-color="#ea3132"/><stop offset="0.657" stop-color="#ea3132"/><stop offset="0.671" stop-color="#ea3132"/><stop offset="0.686" stop-color="#ea3233"/><stop offset="0.700" stop-color="#ea3233"/><stop offset="0.714" stop-color="#ea3233"/><stop offset="0.729" stop-color="#ea3334"/><stop offset="0.743" stop-color="#ea3334"/><stop offset="0.757" stop-color="#ea3536"/><stop offset="0.771" stop-color="#ea3839"/><stop offset="0.786" stop-color="#eb4243"/><stop offset="0.800" stop-color="#ec4546"/><stop offset="0.814" stop-color="#eb3f40"/><stop offset="0.829" stop-color="#eb3c3d"/><stop offset="0.843" stop-color="#ea3a3b"/><stop offset="0.857" stop-color="#ea3738"/><stop offset="0.871" stop-color="#ea3536"/><stop offset="0.886" stop-color="#ea3435"/><stop offset="0.900" stop-color="#ea3334"/><stop offset="0.914" stop-color="#ea3233"/><stop offset="0.929" stop-color="#ea3233"/><stop offset="0.943" stop-color="#ea3233"/><stop offset="0.957" stop-color="#ea3233"/><stop offset="0.971" stop-color="#ea3233"/><stop offset="0.986" stop-color="#ea3233"/><stop offset="1.000" stop-color="#ea3233"/></linearGradient>
<linearGradient id="eg6" x1="0" y1="0" x2="0" y2="1"><stop offset="0.000" stop-color="#ea3132"/><stop offset="0.014" stop-color="#ea3132"/><stop offset="0.029" stop-color="#ea3132"/><stop offset="0.043" stop-color="#ea3132"/><stop offset="0.057" stop-color="#ea3132"/><stop offset="0.071" stop-color="#ea3132"/><stop offset="0.086" stop-color="#ea3132"/><stop offset="0.100" stop-color="#ea3132"/><stop offset="0.114" stop-color="#ea3132"/><stop offset="0.129" stop-color="#ea3132"/><stop offset="0.143" stop-color="#ea3132"/><stop offset="0.157" stop-color="#ea3132"/><stop offset="0.171" stop-color="#ea3132"/><stop offset="0.186" stop-color="#ea3132"/><stop offset="0.200" stop-color="#ea3132"/><stop offset="0.214" stop-color="#ea3132"/><stop offset="0.229" stop-color="#ea3132"/><stop offset="0.243" stop-color="#ea3132"/><stop offset="0.257" stop-color="#ea3132"/><stop offset="0.271" stop-color="#ea3132"/><stop offset="0.286" stop-color="#ea3132"/><stop offset="0.300" stop-color="#ea3132"/><stop offset="0.314" stop-color="#ea3132"/><stop offset="0.329" stop-color="#ea3132"/><stop offset="0.343" stop-color="#ea3132"/><stop offset="0.357" stop-color="#ea3132"/><stop offset="0.371" stop-color="#ea3132"/><stop offset="0.386" stop-color="#ea3132"/><stop offset="0.400" stop-color="#ea3132"/><stop offset="0.414" stop-color="#ea3132"/><stop offset="0.429" stop-color="#ea3132"/><stop offset="0.443" stop-color="#ea3132"/><stop offset="0.457" stop-color="#ea3132"/><stop offset="0.471" stop-color="#ea3132"/><stop offset="0.486" stop-color="#ea3132"/><stop offset="0.500" stop-color="#ea3132"/><stop offset="0.514" stop-color="#ea3132"/><stop offset="0.529" stop-color="#ea3132"/><stop offset="0.543" stop-color="#ea3132"/><stop offset="0.557" stop-color="#ea3132"/><stop offset="0.571" stop-color="#ea3132"/><stop offset="0.586" stop-color="#ea3132"/><stop offset="0.600" stop-color="#ea3132"/><stop offset="0.614" stop-color="#ea3132"/><stop offset="0.629" stop-color="#ea3132"/><stop offset="0.643" stop-color="#ea3132"/><stop offset="0.657" stop-color="#ea3132"/><stop offset="0.671" stop-color="#ea3132"/><stop offset="0.686" stop-color="#ea3233"/><stop offset="0.700" stop-color="#ea3334"/><stop offset="0.714" stop-color="#ea3334"/><stop offset="0.729" stop-color="#ea3334"/><stop offset="0.743" stop-color="#ea3435"/><stop offset="0.757" stop-color="#ea3637"/><stop offset="0.771" stop-color="#eb3b3c"/><stop offset="0.786" stop-color="#ec494a"/><stop offset="0.800" stop-color="#ec4c4d"/><stop offset="0.814" stop-color="#ec4445"/><stop offset="0.829" stop-color="#eb4041"/><stop offset="0.843" stop-color="#eb3d3e"/><stop offset="0.857" stop-color="#ea393a"/><stop offset="0.871" stop-color="#ea3738"/><stop offset="0.886" stop-color="#ea3536"/><stop offset="0.900" stop-color="#ea3334"/><stop offset="0.914" stop-color="#ea3334"/><stop offset="0.929" stop-color="#ea3334"/><stop offset="0.943" stop-color="#ea3233"/><stop offset="0.957" stop-color="#ea3233"/><stop offset="0.971" stop-color="#ea3233"/><stop offset="0.986" stop-color="#ea3233"/><stop offset="1.000" stop-color="#ea3233"/></linearGradient>
<linearGradient id="eg7" x1="0" y1="0" x2="0" y2="1"><stop offset="0.000" stop-color="#ea3132"/><stop offset="0.014" stop-color="#ea3132"/><stop offset="0.029" stop-color="#ea3132"/><stop offset="0.043" stop-color="#ea3132"/><stop offset="0.057" stop-color="#ea3132"/><stop offset="0.071" stop-color="#ea3132"/><stop offset="0.086" stop-color="#ea3132"/><stop offset="0.100" stop-color="#ea3132"/><stop offset="0.114" stop-color="#ea3132"/><stop offset="0.129" stop-color="#ea3132"/><stop offset="0.143" stop-color="#ea3132"/><stop offset="0.157" stop-color="#ea3132"/><stop offset="0.171" stop-color="#ea3132"/><stop offset="0.186" stop-color="#ea3132"/><stop offset="0.200" stop-color="#ea3132"/><stop offset="0.214" stop-color="#ea3132"/><stop offset="0.229" stop-color="#ea3132"/><stop offset="0.243" stop-color="#ea3132"/><stop offset="0.257" stop-color="#ea3132"/><stop offset="0.271" stop-color="#ea3132"/><stop offset="0.286" stop-color="#ea3132"/><stop offset="0.300" stop-color="#ea3132"/><stop offset="0.314" stop-color="#ea3132"/><stop offset="0.329" stop-color="#ea3132"/><stop offset="0.343" stop-color="#ea3132"/><stop offset="0.357" stop-color="#ea3132"/><stop offset="0.371" stop-color="#ea3132"/><stop offset="0.386" stop-color="#ea3132"/><stop offset="0.400" stop-color="#ea3132"/><stop offset="0.414" stop-color="#ea3132"/><stop offset="0.429" stop-color="#ea3132"/><stop offset="0.443" stop-color="#ea3132"/><stop offset="0.457" stop-color="#ea3132"/><stop offset="0.471" stop-color="#ea3132"/><stop offset="0.486" stop-color="#ea3132"/><stop offset="0.500" stop-color="#ea3132"/><stop offset="0.514" stop-color="#ea3132"/><stop offset="0.529" stop-color="#ea3132"/><stop offset="0.543" stop-color="#ea3132"/><stop offset="0.557" stop-color="#ea3132"/><stop offset="0.571" stop-color="#ea3132"/><stop offset="0.586" stop-color="#ea3132"/><stop offset="0.600" stop-color="#ea3132"/><stop offset="0.614" stop-color="#ea3132"/><stop offset="0.629" stop-color="#ea3132"/><stop offset="0.643" stop-color="#ea3132"/><stop offset="0.657" stop-color="#ea3132"/><stop offset="0.671" stop-color="#ea3132"/><stop offset="0.686" stop-color="#ea3334"/><stop offset="0.700" stop-color="#ea3334"/><stop offset="0.714" stop-color="#ea3334"/><stop offset="0.729" stop-color="#ea3435"/><stop offset="0.743" stop-color="#ea3536"/><stop offset="0.757" stop-color="#ea3839"/><stop offset="0.771" stop-color="#eb3f40"/><stop offset="0.786" stop-color="#ed5253"/><stop offset="0.800" stop-color="#ed5556"/><stop offset="0.814" stop-color="#ec4a4b"/><stop offset="0.829" stop-color="#ec4445"/><stop offset="0.843" stop-color="#eb4041"/><stop offset="0.857" stop-color="#eb3c3d"/><stop offset="0.871" stop-color="#ea3839"/><stop offset="0.886" stop-color="#ea3637"/><stop offset="0.900" stop-color="#ea3435"/><stop offset="0.914" stop-color="#ea3334"/><stop offset="0.929" stop-color="#ea3334"/><stop offset="0.943" stop-color="#ea3334"/><stop offset="0.957" stop-color="#ea3334"/><stop offset="0.971" stop-color="#ea3334"/><stop offset="0.986" stop-color="#ea3334"/><stop offset="1.000" stop-color="#ea3233"/></linearGradient>
<linearGradient id="eg8" x1="0" y1="0" x2="0" y2="1"><stop offset="0.000" stop-color="#ea3132"/><stop offset="0.014" stop-color="#ea3132"/><stop offset="0.029" stop-color="#ea3132"/><stop offset="0.043" stop-color="#ea3132"/><stop offset="0.057" stop-color="#ea3132"/><stop offset="0.071" stop-color="#ea3132"/><stop offset="0.086" stop-color="#ea3132"/><stop offset="0.100" stop-color="#ea3132"/><stop offset="0.114" stop-color="#ea3132"/><stop offset="0.129" stop-color="#ea3132"/><stop offset="0.143" stop-color="#ea3132"/><stop offset="0.157" stop-color="#ea3132"/><stop offset="0.171" stop-color="#ea3132"/><stop offset="0.186" stop-color="#ea3132"/><stop offset="0.200" stop-color="#ea3132"/><stop offset="0.214" stop-color="#ea3132"/><stop offset="0.229" stop-color="#ea3132"/><stop offset="0.243" stop-color="#ea3132"/><stop offset="0.257" stop-color="#ea3132"/><stop offset="0.271" stop-color="#ea3132"/><stop offset="0.286" stop-color="#ea3132"/><stop offset="0.300" stop-color="#ea3132"/><stop offset="0.314" stop-color="#ea3132"/><stop offset="0.329" stop-color="#ea3132"/><stop offset="0.343" stop-color="#ea3132"/><stop offset="0.357" stop-color="#ea3132"/><stop offset="0.371" stop-color="#ea3132"/><stop offset="0.386" stop-color="#ea3132"/><stop offset="0.400" stop-color="#ea3132"/><stop offset="0.414" stop-color="#ea3132"/><stop offset="0.429" stop-color="#ea3132"/><stop offset="0.443" stop-color="#ea3132"/><stop offset="0.457" stop-color="#ea3132"/><stop offset="0.471" stop-color="#ea3132"/><stop offset="0.486" stop-color="#ea3132"/><stop offset="0.500" stop-color="#ea3132"/><stop offset="0.514" stop-color="#ea3132"/><stop offset="0.529" stop-color="#ea3132"/><stop offset="0.543" stop-color="#ea3132"/><stop offset="0.557" stop-color="#ea3132"/><stop offset="0.571" stop-color="#ea3132"/><stop offset="0.586" stop-color="#ea3132"/><stop offset="0.600" stop-color="#ea3132"/><stop offset="0.614" stop-color="#ea3132"/><stop offset="0.629" stop-color="#ea3132"/><stop offset="0.643" stop-color="#ea3132"/><stop offset="0.657" stop-color="#ea3132"/><stop offset="0.671" stop-color="#ea3132"/><stop offset="0.686" stop-color="#ea3334"/><stop offset="0.700" stop-color="#ea3435"/><stop offset="0.714" stop-color="#ea3435"/><stop offset="0.729" stop-color="#ea3536"/><stop offset="0.743" stop-color="#ea3738"/><stop offset="0.757" stop-color="#eb3a3b"/><stop offset="0.771" stop-color="#eb4445"/><stop offset="0.786" stop-color="#ee5d5e"/><stop offset="0.800" stop-color="#ee6061"/><stop offset="0.814" stop-color="#ed5152"/><stop offset="0.829" stop-color="#ec494a"/><stop offset="0.843" stop-color="#eb4344"/><stop offset="0.857" stop-color="#eb3e3f"/><stop offset="0.871" stop-color="#ea3a3b"/><stop offset="0.886" stop-color="#ea3738"/><stop offset="0.900" stop-color="#ea3536"/><stop offset="0.914" stop-color="#ea3435"/><stop offset="0.929" stop-color="#ea3435"/><stop offset="0.943" stop-color="#ea3334"/><stop offset="0.957" stop-color="#ea3334"/><stop offset="0.971" stop-color="#ea3334"/><stop offset="0.986" stop-color="#ea3334"/><stop offset="1.000" stop-color="#ea3334"/></linearGradient>
<linearGradient id="eg9" x1="0" y1="0" x2="0" y2="1"><stop offset="0.000" stop-color="#ea3132"/><stop offset="0.014" stop-color="#ea3132"/><stop offset="0.029" stop-color="#ea3132"/><stop offset="0.043" stop-color="#ea3132"/><stop offset="0.057" stop-color="#ea3132"/><stop offset="0.071" stop-color="#ea3132"/><stop offset="0.086" stop-color="#ea3132"/><stop offset="0.100" stop-color="#ea3132"/><stop offset="0.114" stop-color="#ea3132"/><stop offset="0.129" stop-color="#ea3132"/><stop offset="0.143" stop-color="#ea3132"/><stop offset="0.157" stop-color="#ea3132"/><stop offset="0.171" stop-color="#ea3132"/><stop offset="0.186" stop-color="#ea3132"/><stop offset="0.200" stop-color="#ea3132"/><stop offset="0.214" stop-color="#ea3132"/><stop offset="0.229" stop-color="#ea3132"/><stop offset="0.243" stop-color="#ea3132"/><stop offset="0.257" stop-color="#ea3132"/><stop offset="0.271" stop-color="#ea3132"/><stop offset="0.286" stop-color="#ea3132"/><stop offset="0.300" stop-color="#ea3132"/><stop offset="0.314" stop-color="#ea3132"/><stop offset="0.329" stop-color="#ea3132"/><stop offset="0.343" stop-color="#ea3132"/><stop offset="0.357" stop-color="#ea3132"/><stop offset="0.371" stop-color="#ea3132"/><stop offset="0.386" stop-color="#ea3132"/><stop offset="0.400" stop-color="#ea3132"/><stop offset="0.414" stop-color="#ea3132"/><stop offset="0.429" stop-color="#ea3132"/><stop offset="0.443" stop-color="#ea3132"/><stop offset="0.457" stop-color="#ea3132"/><stop offset="0.471" stop-color="#ea3132"/><stop offset="0.486" stop-color="#ea3132"/><stop offset="0.500" stop-color="#ea3132"/><stop offset="0.514" stop-color="#ea3132"/><stop offset="0.529" stop-color="#ea3132"/><stop offset="0.543" stop-color="#ea3132"/><stop offset="0.557" stop-color="#ea3132"/><stop offset="0.571" stop-color="#ea3132"/><stop offset="0.586" stop-color="#ea3132"/><stop offset="0.600" stop-color="#ea3132"/><stop offset="0.614" stop-color="#ea3132"/><stop offset="0.629" stop-color="#ea3132"/><stop offset="0.643" stop-color="#ea3132"/><stop offset="0.657" stop-color="#ea3132"/><stop offset="0.671" stop-color="#ea3233"/><stop offset="0.686" stop-color="#ea3435"/><stop offset="0.700" stop-color="#ea3435"/><stop offset="0.714" stop-color="#ea3536"/><stop offset="0.729" stop-color="#ea3637"/><stop offset="0.743" stop-color="#ea3839"/><stop offset="0.757" stop-color="#eb3e3e"/><stop offset="0.771" stop-color="#ec4a4b"/><stop offset="0.786" stop-color="#ef6b6c"/><stop offset="0.800" stop-color="#f06c6d"/><stop offset="0.814" stop-color="#ee595a"/><stop offset="0.829" stop-color="#ed4f50"/><stop offset="0.843" stop-color="#ec4748"/><stop offset="0.857" stop-color="#eb4142"/><stop offset="0.871" stop-color="#eb3c3d"/><stop offset="0.886" stop-color="#ea3839"/><stop offset="0.900" stop-color="#ea3637"/><stop offset="0.914" stop-color="#ea3536"/><stop offset="0.929" stop-color="#ea3435"/><stop offset="0.943" stop-color="#ea3435"/><stop offset="0.957" stop-color="#ea3435"/><stop offset="0.971" stop-color="#ea3334"/><stop offset="0.986" stop-color="#ea3334"/><stop offset="1.000" stop-color="#ea3334"/></linearGradient>
<linearGradient id="eg10" x1="0" y1="0" x2="0" y2="1"><stop offset="0.000" stop-color="#ea3132"/><stop offset="0.014" stop-color="#ea3132"/><stop offset="0.029" stop-color="#ea3132"/><stop offset="0.043" stop-color="#ea3132"/><stop offset="0.057" stop-color="#ea3132"/><stop offset="0.071" stop-color="#ea3132"/><stop offset="0.086" stop-color="#ea3132"/><stop offset="0.100" stop-color="#ea3132"/><stop offset="0.114" stop-color="#ea3132"/><stop offset="0.129" stop-color="#ea3132"/><stop offset="0.143" stop-color="#ea3132"/><stop offset="0.157" stop-color="#ea3132"/><stop offset="0.171" stop-color="#ea3132"/><stop offset="0.186" stop-color="#ea3132"/><stop offset="0.200" stop-color="#ea3132"/><stop offset="0.214" stop-color="#ea3132"/><stop offset="0.229" stop-color="#ea3132"/><stop offset="0.243" stop-color="#ea3132"/><stop offset="0.257" stop-color="#ea3132"/><stop offset="0.271" stop-color="#ea3132"/><stop offset="0.286" stop-color="#ea3132"/><stop offset="0.300" stop-color="#ea3132"/><stop offset="0.314" stop-color="#ea3132"/><stop offset="0.329" stop-color="#ea3132"/><stop offset="0.343" stop-color="#ea3132"/><stop offset="0.357" stop-color="#ea3132"/><stop offset="0.371" stop-color="#ea3132"/><stop offset="0.386" stop-color="#ea3132"/><stop offset="0.400" stop-color="#ea3132"/><stop offset="0.414" stop-color="#ea3132"/><stop offset="0.429" stop-color="#ea3132"/><stop offset="0.443" stop-color="#ea3132"/><stop offset="0.457" stop-color="#ea3132"/><stop offset="0.471" stop-color="#ea3132"/><stop offset="0.486" stop-color="#ea3132"/><stop offset="0.500" stop-color="#ea3132"/><stop offset="0.514" stop-color="#ea3132"/><stop offset="0.529" stop-color="#ea3132"/><stop offset="0.543" stop-color="#ea3132"/><stop offset="0.557" stop-color="#ea3132"/><stop offset="0.571" stop-color="#ea3132"/><stop offset="0.586" stop-color="#ea3132"/><stop offset="0.600" stop-color="#ea3132"/><stop offset="0.614" stop-color="#ea3132"/><stop offset="0.629" stop-color="#ea3132"/><stop offset="0.643" stop-color="#ea3132"/><stop offset="0.657" stop-color="#ea3233"/><stop offset="0.671" stop-color="#ea3233"/><stop offset="0.686" stop-color="#ea3435"/><stop offset="0.700" stop-color="#ea3536"/><stop offset="0.714" stop-color="#ea3637"/><stop offset="0.729" stop-color="#ea3738"/><stop offset="0.743" stop-color="#ea3a3b"/><stop offset="0.757" stop-color="#eb4142"/><stop offset="0.771" stop-color="#ed5152"/><stop offset="0.786" stop-color="#f17777"/><stop offset="0.800" stop-color="#f07475"/><stop offset="0.814" stop-color="#ee6061"/><stop offset="0.829" stop-color="#ed5455"/><stop offset="0.843" stop-color="#ec4b4c"/><stop offset="0.857" stop-color="#eb4344"/><stop offset="0.871" stop-color="#eb3d3e"/><stop offset="0.886" stop-color="#ea393a"/><stop offset="0.900" stop-color="#ea3738"/><stop offset="0.914" stop-color="#ea3536"/><stop offset="0.929" stop-color="#ea3536"/><stop offset="0.943" stop-color="#ea3435"/><stop offset="0.957" stop-color="#ea3435"/><stop offset="0.971" stop-color="#ea3435"/><stop offset="0.986" stop-color="#ea3435"/><stop offset="1.000" stop-color="#ea3435"/></linearGradient>
<linearGradient id="eg11" x1="0" y1="0" x2="0" y2="1"><stop offset="0.000" stop-color="#ea3132"/><stop offset="0.014" stop-color="#ea3132"/><stop offset="0.029" stop-color="#ea3132"/><stop offset="0.043" stop-color="#ea3132"/><stop offset="0.057" stop-color="#ea3132"/><stop offset="0.071" stop-color="#ea3132"/><stop offset="0.086" stop-color="#ea3132"/><stop offset="0.100" stop-color="#ea3132"/><stop offset="0.114" stop-color="#ea3132"/><stop offset="0.129" stop-color="#ea3132"/><stop offset="0.143" stop-color="#ea3132"/><stop offset="0.157" stop-color="#ea3132"/><stop offset="0.171" stop-color="#ea3132"/><stop offset="0.186" stop-color="#ea3132"/><stop offset="0.200" stop-color="#ea3132"/><stop offset="0.214" stop-color="#ea3132"/><stop offset="0.229" stop-color="#ea3132"/><stop offset="0.243" stop-color="#ea3132"/><stop offset="0.257" stop-color="#ea3132"/><stop offset="0.271" stop-color="#ea3132"/><stop offset="0.286" stop-color="#ea3132"/><stop offset="0.300" stop-color="#ea3132"/><stop offset="0.314" stop-color="#ea3132"/><stop offset="0.329" stop-color="#ea3132"/><stop offset="0.343" stop-color="#ea3132"/><stop offset="0.357" stop-color="#ea3132"/><stop offset="0.371" stop-color="#ea3132"/><stop offset="0.386" stop-color="#ea3132"/><stop offset="0.400" stop-color="#ea3132"/><stop offset="0.414" stop-color="#ea3132"/><stop offset="0.429" stop-color="#ea3132"/><stop offset="0.443" stop-color="#ea3132"/><stop offset="0.457" stop-color="#ea3132"/><stop offset="0.471" stop-color="#ea3132"/><stop offset="0.486" stop-color="#ea3132"/><stop offset="0.500" stop-color="#ea3132"/><stop offset="0.514" stop-color="#ea3132"/><stop offset="0.529" stop-color="#ea3132"/><stop offset="0.543" stop-color="#ea3132"/><stop offset="0.557" stop-color="#ea3132"/><stop offset="0.571" stop-color="#ea3132"/><stop offset="0.586" stop-color="#ea3132"/><stop offset="0.600" stop-color="#ea3132"/><stop offset="0.614" stop-color="#ea3132"/><stop offset="0.629" stop-color="#ea3132"/><stop offset="0.643" stop-color="#ea3233"/><stop offset="0.657" stop-color="#ea3233"/><stop offset="0.671" stop-color="#ea3233"/><stop offset="0.686" stop-color="#ea3536"/><stop offset="0.700" stop-color="#ea3536"/><stop offset="0.714" stop-color="#ea3637"/><stop offset="0.729" stop-color="#ea3839"/><stop offset="0.743" stop-color="#eb3c3d"/><stop offset="0.757" stop-color="#eb4344"/><stop offset="0.771" stop-color="#ed5657"/><stop offset="0.786" stop-color="#f17e7f"/><stop offset="0.800" stop-color="#f17879"/><stop offset="0.814" stop-color="#ef6465"/><stop offset="0.829" stop-color="#ed5858"/><stop offset="0.843" stop-color="#ec4e4f"/><stop offset="0.857" stop-color="#ec4546"/><stop offset="0.871" stop-color="#eb3f3f"/><stop offset="0.886" stop-color="#ea3a3b"/><stop offset="0.900" stop-color="#ea3738"/><stop offset="0.914" stop-color="#ea3637"/><stop offset="0.929" stop-color="#ea3536"/><stop offset="0.943" stop-color="#ea3536"/><stop offset="0.957" stop-color="#ea3536"/><stop offset="0.971" stop-color="#ea3435"/><stop offset="0.986" stop-color="#ea3435"/><stop offset="1.000" stop-color="#ea3435"/></linearGradient>
<linearGradient id="eg12" x1="0" y1="0" x2="0" y2="1"><stop offset="0.000" stop-color="#ea3132"/><stop offset="0.014" stop-color="#ea3132"/><stop offset="0.029" stop-color="#ea3132"/><stop offset="0.043" stop-color="#ea3132"/><stop offset="0.057" stop-color="#ea3132"/><stop offset="0.071" stop-color="#ea3132"/><stop offset="0.086" stop-color="#ea3132"/><stop offset="0.100" stop-color="#ea3132"/><stop offset="0.114" stop-color="#ea3132"/><stop offset="0.129" stop-color="#ea3132"/><stop offset="0.143" stop-color="#ea3132"/><stop offset="0.157" stop-color="#ea3132"/><stop offset="0.171" stop-color="#ea3132"/><stop offset="0.186" stop-color="#ea3132"/><stop offset="0.200" stop-color="#ea3132"/><stop offset="0.214" stop-color="#ea3132"/><stop offset="0.229" stop-color="#ea3132"/><stop offset="0.243" stop-color="#ea3132"/><stop offset="0.257" stop-color="#ea3132"/><stop offset="0.271" stop-color="#ea3132"/><stop offset="0.286" stop-color="#ea3132"/><stop offset="0.300" stop-color="#ea3132"/><stop offset="0.314" stop-color="#ea3132"/><stop offset="0.329" stop-color="#ea3132"/><stop offset="0.343" stop-color="#ea3132"/><stop offset="0.357" stop-color="#ea3132"/><stop offset="0.371" stop-color="#ea3132"/><stop offset="0.386" stop-color="#ea3132"/><stop offset="0.400" stop-color="#ea3132"/><stop offset="0.414" stop-color="#ea3132"/><stop offset="0.429" stop-color="#ea3132"/><stop offset="0.443" stop-color="#ea3132"/><stop offset="0.457" stop-color="#ea3132"/><stop offset="0.471" stop-color="#ea3132"/><stop offset="0.486" stop-color="#ea3132"/><stop offset="0.500" stop-color="#ea3132"/><stop offset="0.514" stop-color="#ea3132"/><stop offset="0.529" stop-color="#ea3132"/><stop offset="0.543" stop-color="#ea3132"/><stop offset="0.557" stop-color="#ea3132"/><stop offset="0.571" stop-color="#ea3132"/><stop offset="0.586" stop-color="#ea3132"/><stop offset="0.600" stop-color="#ea3132"/><stop offset="0.614" stop-color="#ea3132"/><stop offset="0.629" stop-color="#ea3233"/><stop offset="0.643" stop-color="#ea3233"/><stop offset="0.657" stop-color="#ea3233"/><stop offset="0.671" stop-color="#ea3233"/><stop offset="0.686" stop-color="#ea3536"/><stop offset="0.700" stop-color="#ea3637"/><stop offset="0.714" stop-color="#ea3738"/><stop offset="0.729" stop-color="#ea393a"/><stop offset="0.743" stop-color="#eb3e3f"/><stop offset="0.757" stop-color="#ec4748"/><stop offset="0.771" stop-color="#ee5e5f"/><stop offset="0.786" stop-color="#f28687"/><stop offset="0.800" stop-color="#f17c7d"/><stop offset="0.814" stop-color="#ef6868"/><stop offset="0.829" stop-color="#ee5b5c"/><stop offset="0.843" stop-color="#ed5051"/><stop offset="0.857" stop-color="#ec4748"/><stop offset="0.871" stop-color="#eb4040"/><stop offset="0.886" stop-color="#eb3b3c"/><stop offset="0.900" stop-color="#ea3839"/><stop offset="0.914" stop-color="#ea3738"/><stop offset="0.929" stop-color="#ea3637"/><stop offset="0.943" stop-color="#ea3536"/><stop offset="0.957" stop-color="#ea3536"/><stop offset="0.971" stop-color="#ea3536"/><stop offset="0.986" stop-color="#ea3535"/><stop offset="1.000" stop-color="#ea3435"/></linearGradient>
<linearGradient id="eg13" x1="0" y1="0" x2="0" y2="1"><stop offset="0.000" stop-color="#ea3132"/><stop offset="0.014" stop-color="#ea3132"/><stop offset="0.029" stop-color="#ea3132"/><stop offset="0.043" stop-color="#ea3132"/><stop offset="0.057" stop-color="#ea3132"/><stop offset="0.071" stop-color="#ea3132"/><stop offset="0.086" stop-color="#ea3132"/><stop offset="0.100" stop-color="#ea3132"/><stop offset="0.114" stop-color="#ea3132"/><stop offset="0.129" stop-color="#ea3132"/><stop offset="0.143" stop-color="#ea3132"/><stop offset="0.157" stop-color="#ea3132"/><stop offset="0.171" stop-color="#ea3132"/><stop offset="0.186" stop-color="#ea3132"/><stop offset="0.200" stop-color="#ea3132"/><stop offset="0.214" stop-color="#ea3132"/><stop offset="0.229" stop-color="#ea3132"/><stop offset="0.243" stop-color="#ea3132"/><stop offset="0.257" stop-color="#ea3132"/><stop offset="0.271" stop-color="#ea3132"/><stop offset="0.286" stop-color="#ea3132"/><stop offset="0.300" stop-color="#ea3132"/><stop offset="0.314" stop-color="#ea3132"/><stop offset="0.329" stop-color="#ea3132"/><stop offset="0.343" stop-color="#ea3132"/><stop offset="0.357" stop-color="#ea3132"/><stop offset="0.371" stop-color="#ea3132"/><stop offset="0.386" stop-color="#ea3132"/><stop offset="0.400" stop-color="#ea3132"/><stop offset="0.414" stop-color="#ea3132"/><stop offset="0.429" stop-color="#ea3132"/><stop offset="0.443" stop-color="#ea3132"/><stop offset="0.457" stop-color="#ea3132"/><stop offset="0.471" stop-color="#ea3132"/><stop offset="0.486" stop-color="#ea3132"/><stop offset="0.500" stop-color="#ea3132"/><stop offset="0.514" stop-color="#ea3132"/><stop offset="0.529" stop-color="#ea3132"/><stop offset="0.543" stop-color="#ea3132"/><stop offset="0.557" stop-color="#ea3132"/><stop offset="0.571" stop-color="#ea3132"/><stop offset="0.586" stop-color="#ea3132"/><stop offset="0.600" stop-color="#ea3132"/><stop offset="0.614" stop-color="#ea3233"/><stop offset="0.629" stop-color="#ea3233"/><stop offset="0.643" stop-color="#ea3233"/><stop offset="0.657" stop-color="#ea3233"/><stop offset="0.671" stop-color="#ea3334"/><stop offset="0.686" stop-color="#ea3637"/><stop offset="0.700" stop-color="#ea3738"/><stop offset="0.714" stop-color="#ea3839"/><stop offset="0.729" stop-color="#eb3b3c"/><stop offset="0.743" stop-color="#eb4041"/><stop offset="0.757" stop-color="#ec4c4c"/><stop offset="0.771" stop-color="#ef6768"/><stop offset="0.786" stop-color="#f38f8f"/><stop offset="0.800" stop-color="#f17f80"/><stop offset="0.814" stop-color="#ef6b6c"/><stop offset="0.829" stop-color="#ee5e5e"/><stop offset="0.843" stop-color="#ed5253"/><stop offset="0.857" stop-color="#ec4849"/><stop offset="0.871" stop-color="#eb4041"/><stop offset="0.886" stop-color="#eb3b3c"/><stop offset="0.900" stop-color="#ea393a"/><stop offset="0.914" stop-color="#ea3738"/><stop offset="0.929" stop-color="#ea3637"/><stop offset="0.943" stop-color="#ea3637"/><stop offset="0.957" stop-color="#ea3536"/><stop offset="0.971" stop-color="#ea3536"/><stop offset="0.986" stop-color="#ea3536"/><stop offset="1.000" stop-color="#ea3536"/></linearGradient>
<linearGradient id="eg14" x1="0" y1="0" x2="0" y2="1"><stop offset="0.000" stop-color="#ea3132"/><stop offset="0.014" stop-color="#ea3132"/><stop offset="0.029" stop-color="#ea3132"/><stop offset="0.043" stop-color="#ea3132"/><stop offset="0.057" stop-color="#ea3132"/><stop offset="0.071" stop-color="#ea3132"/><stop offset="0.086" stop-color="#ea3132"/><stop offset="0.100" stop-color="#ea3132"/><stop offset="0.114" stop-color="#ea3132"/><stop offset="0.129" stop-color="#ea3132"/><stop offset="0.143" stop-color="#ea3132"/><stop offset="0.157" stop-color="#ea3132"/><stop offset="0.171" stop-color="#ea3132"/><stop offset="0.186" stop-color="#ea3132"/><stop offset="0.200" stop-color="#ea3132"/><stop offset="0.214" stop-color="#ea3132"/><stop offset="0.229" stop-color="#ea3132"/><stop offset="0.243" stop-color="#ea3132"/><stop offset="0.257" stop-color="#ea3132"/><stop offset="0.271" stop-color="#ea3132"/><stop offset="0.286" stop-color="#ea3132"/><stop offset="0.300" stop-color="#ea3132"/><stop offset="0.314" stop-color="#ea3132"/><stop offset="0.329" stop-color="#ea3132"/><stop offset="0.343" stop-color="#ea3132"/><stop offset="0.357" stop-color="#ea3132"/><stop offset="0.371" stop-color="#ea3132"/><stop offset="0.386" stop-color="#ea3132"/><stop offset="0.400" stop-color="#ea3132"/><stop offset="0.414" stop-color="#ea3132"/><stop offset="0.429" stop-color="#ea3132"/><stop offset="0.443" stop-color="#ea3132"/><stop offset="0.457" stop-color="#ea3132"/><stop offset="0.471" stop-color="#ea3132"/><stop offset="0.486" stop-color="#ea3132"/><stop offset="0.500" stop-color="#ea3132"/><stop offset="0.514" stop-color="#ea3132"/><stop offset="0.529" stop-color="#ea3132"/><stop offset="0.543" stop-color="#ea3132"/><stop offset="0.557" stop-color="#ea3132"/><stop offset="0.571" stop-color="#ea3132"/><stop offset="0.586" stop-color="#ea3233"/><stop offset="0.600" stop-color="#ea3233"/><stop offset="0.614" stop-color="#ea3233"/><stop offset="0.629" stop-color="#ea3233"/><stop offset="0.643" stop-color="#ea3233"/><stop offset="0.657" stop-color="#ea3334"/><stop offset="0.671" stop-color="#ea3334"/><stop offset="0.686" stop-color="#ea3738"/><stop offset="0.700" stop-color="#ea3839"/><stop offset="0.714" stop-color="#ea393a"/><stop offset="0.729" stop-color="#eb3d3e"/><stop offset="0.743" stop-color="#eb4344"/><stop offset="0.757" stop-color="#ed5152"/><stop offset="0.771" stop-color="#f07474"/><stop offset="0.786" stop-color="#f49495"/><stop offset="0.800" stop-color="#f28182"/><stop offset="0.814" stop-color="#f06d6e"/><stop offset="0.829" stop-color="#ee5f60"/><stop offset="0.843" stop-color="#ed5354"/><stop offset="0.857" stop-color="#ec4949"/><stop offset="0.871" stop-color="#eb4142"/><stop offset="0.886" stop-color="#eb3c3d"/><stop offset="0.900" stop-color="#ea393a"/><stop offset="0.914" stop-color="#ea3839"/><stop offset="0.929" stop-color="#ea3738"/><stop offset="0.943" stop-color="#ea3637"/><stop offset="0.957" stop-color="#ea3637"/><stop offset="0.971" stop-color="#ea3636"/><stop offset="0.986" stop-color="#ea3536"/><stop offset="1.000" stop-color="#ea3536"/></linearGradient>
<linearGradient id="eg15" x1="0" y1="0" x2="0" y2="1"><stop offset="0.000" stop-color="#ea3132"/><stop offset="0.014" stop-color="#ea3132"/><stop offset="0.029" stop-color="#ea3132"/><stop offset="0.043" stop-color="#ea3132"/><stop offset="0.057" stop-color="#ea3132"/><stop offset="0.071" stop-color="#ea3132"/><stop offset="0.086" stop-color="#ea3132"/><stop offset="0.100" stop-color="#ea3132"/><stop offset="0.114" stop-color="#ea3132"/><stop offset="0.129" stop-color="#ea3132"/><stop offset="0.143" stop-color="#ea3132"/><stop offset="0.157" stop-color="#ea3132"/><stop offset="0.171" stop-color="#ea3132"/><stop offset="0.186" stop-color="#ea3132"/><stop offset="0.200" stop-color="#ea3132"/><stop offset="0.214" stop-color="#ea3132"/><stop offset="0.229" stop-color="#ea3132"/><stop offset="0.243" stop-color="#ea3132"/><stop offset="0.257" stop-color="#ea3132"/><stop offset="0.271" stop-color="#ea3132"/><stop offset="0.286" stop-color="#ea3132"/><stop offset="0.300" stop-color="#ea3132"/><stop offset="0.314" stop-color="#ea3132"/><stop offset="0.329" stop-color="#ea3132"/><stop offset="0.343" stop-color="#ea3132"/><stop offset="0.357" stop-color="#ea3132"/><stop offset="0.371" stop-color="#ea3132"/><stop offset="0.386" stop-color="#ea3132"/><stop offset="0.400" stop-color="#ea3132"/><stop offset="0.414" stop-color="#ea3132"/><stop offset="0.429" stop-color="#ea3132"/><stop offset="0.443" stop-color="#ea3132"/><stop offset="0.457" stop-color="#ea3132"/><stop offset="0.471" stop-color="#ea3132"/><stop offset="0.486" stop-color="#ea3132"/><stop offset="0.500" stop-color="#ea3132"/><stop offset="0.514" stop-color="#ea3132"/><stop offset="0.529" stop-color="#ea3132"/><stop offset="0.543" stop-color="#ea3132"/><stop offset="0.557" stop-color="#ea3132"/><stop offset="0.571" stop-color="#ea3233"/><stop offset="0.586" stop-color="#ea3233"/><stop offset="0.600" stop-color="#ea3233"/><stop offset="0.614" stop-color="#ea3233"/><stop offset="0.629" stop-color="#ea3233"/><stop offset="0.643" stop-color="#ea3334"/><stop offset="0.657" stop-color="#ea3334"/><stop offset="0.671" stop-color="#ea3435"/><stop offset="0.686" stop-color="#ea3839"/><stop offset="0.700" stop-color="#ea393a"/><stop offset="0.714" stop-color="#eb3b3c"/><stop offset="0.729" stop-color="#eb3f40"/><stop offset="0.743" stop-color="#ec4748"/><stop offset="0.757" stop-color="#ee5a5a"/><stop offset="0.771" stop-color="#f28384"/><stop offset="0.786" stop-color="#f49899"/><stop offset="0.800" stop-color="#f28282"/><stop offset="0.814" stop-color="#f06f70"/><stop offset="0.829" stop-color="#ee6061"/><stop offset="0.843" stop-color="#ed5354"/><stop offset="0.857" stop-color="#ec4949"/><stop offset="0.871" stop-color="#eb4142"/><stop offset="0.886" stop-color="#eb3c3d"/><stop offset="0.900" stop-color="#ea393a"/><stop offset="0.914" stop-color="#ea3839"/><stop offset="0.929" stop-color="#ea3738"/><stop offset="0.943" stop-color="#ea3738"/><stop offset="0.957" stop-color="#ea3637"/><stop offset="0.971" stop-color="#ea3637"/><stop offset="0.986" stop-color="#ea3637"/><stop offset="1.000" stop-color="#ea3536"/></linearGradient>
<linearGradient id="eg16" x1="0" y1="0" x2="0" y2="1"><stop offset="0.000" stop-color="#ea3132"/><stop offset="0.014" stop-color="#ea3132"/><stop offset="0.029" stop-color="#ea3132"/><stop offset="0.043" stop-color="#ea3132"/><stop offset="0.057" stop-color="#ea3132"/><stop offset="0.071" stop-color="#ea3132"/><stop offset="0.086" stop-color="#ea3132"/><stop offset="0.100" stop-color="#ea3132"/><stop offset="0.114" stop-color="#ea3132"/><stop offset="0.129" stop-color="#ea3132"/><stop offset="0.143" stop-color="#ea3132"/><stop offset="0.157" stop-color="#ea3132"/><stop offset="0.171" stop-color="#ea3132"/><stop offset="0.186" stop-color="#ea3132"/><stop offset="0.200" stop-color="#ea3132"/><stop offset="0.214" stop-color="#ea3132"/><stop offset="0.229" stop-color="#ea3132"/><stop offset="0.243" stop-color="#ea3132"/><stop offset="0.257" stop-color="#ea3132"/><stop offset="0.271" stop-color="#ea3132"/><stop offset="0.286" stop-color="#ea3132"/><stop offset="0.300" stop-color="#ea3132"/><stop offset="0.314" stop-color="#ea3132"/><stop offset="0.329" stop-color="#ea3132"/><stop offset="0.343" stop-color="#ea3132"/><stop offset="0.357" stop-color="#ea3132"/><stop offset="0.371" stop-color="#ea3132"/><stop offset="0.386" stop-color="#ea3132"/><stop offset="0.400" stop-color="#ea3132"/><stop offset="0.414" stop-color="#ea3132"/><stop offset="0.429" stop-color="#ea3132"/><stop offset="0.443" stop-color="#ea3132"/><stop offset="0.457" stop-color="#ea3132"/><stop offset="0.471" stop-color="#ea3132"/><stop offset="0.486" stop-color="#ea3132"/><stop offset="0.500" stop-color="#ea3132"/><stop offset="0.514" stop-color="#ea3132"/><stop offset="0.529" stop-color="#ea3132"/><stop offset="0.543" stop-color="#ea3132"/><stop offset="0.557" stop-color="#ea3233"/><stop offset="0.571" stop-color="#ea3233"/><stop offset="0.586" stop-color="#ea3233"/><stop offset="0.600" stop-color="#ea3233"/><stop offset="0.614" stop-color="#ea3233"/><stop offset="0.629" stop-color="#ea3334"/><stop offset="0.643" stop-color="#ea3334"/><stop offset="0.657" stop-color="#ea3334"/><stop offset="0.671" stop-color="#ea3435"/><stop offset="0.686" stop-color="#ea3939"/><stop offset="0.700" stop-color="#ea3a3b"/><stop offset="0.714" stop-color="#eb3d3e"/><stop offset="0.729" stop-color="#eb4243"/><stop offset="0.743" stop-color="#ec4d4e"/><stop offset="0.757" stop-color="#ef6566"/><stop offset="0.771" stop-color="#f49495"/><stop offset="0.786" stop-color="#f49a9a"/><stop offset="0.800" stop-color="#f28282"/><stop offset="0.814" stop-color="#f06f70"/><stop offset="0.829" stop-color="#ee6061"/><stop offset="0.843" stop-color="#ed5353"/><stop offset="0.857" stop-color="#ec4849"/><stop offset="0.871" stop-color="#eb4142"/><stop offset="0.886" stop-color="#eb3c3d"/><stop offset="0.900" stop-color="#ea3a3b"/><stop offset="0.914" stop-color="#ea3839"/><stop offset="0.929" stop-color="#ea3839"/><stop offset="0.943" stop-color="#ea3738"/><stop offset="0.957" stop-color="#ea3738"/><stop offset="0.971" stop-color="#ea3637"/><stop offset="0.986" stop-color="#ea3637"/><stop offset="1.000" stop-color="#ea3637"/></linearGradient>
<linearGradient id="eg17" x1="0" y1="0" x2="0" y2="1"><stop offset="0.000" stop-color="#ea3132"/><stop offset="0.014" stop-color="#ea3132"/><stop offset="0.029" stop-color="#ea3132"/><stop offset="0.043" stop-color="#ea3132"/><stop offset="0.057" stop-color="#ea3132"/><stop offset="0.071" stop-color="#ea3132"/><stop offset="0.086" stop-color="#ea3132"/><stop offset="0.100" stop-color="#ea3132"/><stop offset="0.114" stop-color="#ea3132"/><stop offset="0.129" stop-color="#ea3132"/><stop offset="0.143" stop-color="#ea3132"/><stop offset="0.157" stop-color="#ea3132"/><stop offset="0.171" stop-color="#ea3132"/><stop offset="0.186" stop-color="#ea3132"/><stop offset="0.200" stop-color="#ea3132"/><stop offset="0.214" stop-color="#ea3132"/><stop offset="0.229" stop-color="#ea3132"/><stop offset="0.243" stop-color="#ea3132"/><stop offset="0.257" stop-color="#ea3132"/><stop offset="0.271" stop-color="#ea3132"/><stop offset="0.286" stop-color="#ea3132"/><stop offset="0.300" stop-color="#ea3132"/><stop offset="0.314" stop-color="#ea3132"/><stop offset="0.329" stop-color="#ea3132"/><stop offset="0.343" stop-color="#ea3132"/><stop offset="0.357" stop-color="#ea3132"/><stop offset="0.371" stop-color="#ea3132"/><stop offset="0.386" stop-color="#ea3132"/><stop offset="0.400" stop-color="#ea3132"/><stop offset="0.414" stop-color="#ea3132"/><stop offset="0.429" stop-color="#ea3132"/><stop offset="0.443" stop-color="#ea3132"/><stop offset="0.457" stop-color="#ea3132"/><stop offset="0.471" stop-color="#ea3132"/><stop offset="0.486" stop-color="#ea3132"/><stop offset="0.500" stop-color="#ea3132"/><stop offset="0.514" stop-color="#ea3132"/><stop offset="0.529" stop-color="#ea3132"/><stop offset="0.543" stop-color="#ea3233"/><stop offset="0.557" stop-color="#ea3233"/><stop offset="0.571" stop-color="#ea3233"/><stop offset="0.586" stop-color="#ea3233"/><stop offset="0.600" stop-color="#ea3233"/><stop offset="0.614" stop-color="#ea3334"/><stop offset="0.629" stop-color="#ea3334"/><stop offset="0.643" stop-color="#ea3334"/><stop offset="0.657" stop-color="#ea3435"/><stop offset="0.671" stop-color="#ea3536"/><stop offset="0.686" stop-color="#ea3a3b"/><stop offset="0.700" stop-color="#eb3c3d"/><stop offset="0.714" stop-color="#eb3f40"/><stop offset="0.729" stop-color="#ec4647"/><stop offset="0.743" stop-color="#ed5556"/><stop offset="0.757" stop-color="#f17676"/><stop offset="0.771" stop-color="#f5a2a2"/><stop offset="0.786" stop-color="#f49899"/><stop offset="0.800" stop-color="#f28080"/><stop offset="0.814" stop-color="#f06e6e"/><stop offset="0.829" stop-color="#ee5e5f"/><stop offset="0.843" stop-color="#ed5152"/><stop offset="0.857" stop-color="#ec4748"/><stop offset="0.871" stop-color="#eb4041"/><stop offset="0.886" stop-color="#eb3c3d"/><stop offset="0.900" stop-color="#ea3a3b"/><stop offset="0.914" stop-color="#ea393a"/><stop offset="0.929" stop-color="#ea3839"/><stop offset="0.943" stop-color="#ea3839"/><stop offset="0.957" stop-color="#ea3738"/><stop offset="0.971" stop-color="#ea3738"/><stop offset="0.986" stop-color="#ea3637"/><stop offset="1.000" stop-color="#ea3637"/></linearGradient>
<linearGradient id="eg18" x1="0" y1="0" x2="0" y2="1"><stop offset="0.000" stop-color="#ea3132"/><stop offset="0.014" stop-color="#ea3132"/><stop offset="0.029" stop-color="#ea3132"/><stop offset="0.043" stop-color="#ea3132"/><stop offset="0.057" stop-color="#ea3132"/><stop offset="0.071" stop-color="#ea3132"/><stop offset="0.086" stop-color="#ea3132"/><stop offset="0.100" stop-color="#ea3132"/><stop offset="0.114" stop-color="#ea3132"/><stop offset="0.129" stop-color="#ea3132"/><stop offset="0.143" stop-color="#ea3132"/><stop offset="0.157" stop-color="#ea3132"/><stop offset="0.171" stop-color="#ea3132"/><stop offset="0.186" stop-color="#ea3132"/><stop offset="0.200" stop-color="#ea3132"/><stop offset="0.214" stop-color="#ea3132"/><stop offset="0.229" stop-color="#ea3132"/><stop offset="0.243" stop-color="#ea3132"/><stop offset="0.257" stop-color="#ea3132"/><stop offset="0.271" stop-color="#ea3132"/><stop offset="0.286" stop-color="#ea3132"/><stop offset="0.300" stop-color="#ea3132"/><stop offset="0.314" stop-color="#ea3132"/><stop offset="0.329" stop-color="#ea3132"/><stop offset="0.343" stop-color="#ea3132"/><stop offset="0.357" stop-color="#ea3132"/><stop offset="0.371" stop-color="#ea3132"/><stop offset="0.386" stop-color="#ea3132"/><stop offset="0.400" stop-color="#ea3132"/><stop offset="0.414" stop-color="#ea3132"/><stop offset="0.429" stop-color="#ea3132"/><stop offset="0.443" stop-color="#ea3132"/><stop offset="0.457" stop-color="#ea3132"/><stop offset="0.471" stop-color="#ea3132"/><stop offset="0.486" stop-color="#ea3132"/><stop offset="0.500" stop-color="#ea3132"/><stop offset="0.514" stop-color="#ea3233"/><stop offset="0.529" stop-color="#ea3233"/><stop offset="0.543" stop-color="#ea3233"/><stop offset="0.557" stop-color="#ea3233"/><stop offset="0.571" stop-color="#ea3233"/><stop offset="0.586" stop-color="#ea3233"/><stop offset="0.600" stop-color="#ea3334"/><stop offset="0.614" stop-color="#ea3334"/><stop offset="0.629" stop-color="#ea3334"/><stop offset="0.643" stop-color="#ea3435"/><stop offset="0.657" stop-color="#ea3536"/><stop offset="0.671" stop-color="#ea3637"/><stop offset="0.686" stop-color="#eb3b3c"/><stop offset="0.700" stop-color="#eb3e3f"/><stop offset="0.714" stop-color="#eb4243"/><stop offset="0.729" stop-color="#ec4c4d"/><stop offset="0.743" stop-color="#ee6161"/><stop offset="0.757" stop-color="#f38d8e"/><stop offset="0.771" stop-color="#f6aaab"/><stop offset="0.786" stop-color="#f49494"/><stop offset="0.800" stop-color="#f17c7d"/><stop offset="0.814" stop-color="#ef6b6b"/><stop offset="0.829" stop-color="#ee5b5c"/><stop offset="0.843" stop-color="#ed4f4f"/><stop offset="0.857" stop-color="#ec4546"/><stop offset="0.871" stop-color="#eb4041"/><stop offset="0.886" stop-color="#eb3c3d"/><stop offset="0.900" stop-color="#eb3a3b"/><stop offset="0.914" stop-color="#ea393a"/><stop offset="0.929" stop-color="#ea3939"/><stop offset="0.943" stop-color="#ea3839"/><stop offset="0.957" stop-color="#ea3738"/><stop offset="0.971" stop-color="#ea3738"/><stop offset="0.986" stop-color="#ea3738"/><stop offset="1.000" stop-color="#ea3737"/></linearGradient>
<linearGradient id="eg19" x1="0" y1="0" x2="0" y2="1"><stop offset="0.000" stop-color="#ea3132"/><stop offset="0.014" stop-color="#ea3132"/><stop offset="0.029" stop-color="#ea3132"/><stop offset="0.043" stop-color="#ea3132"/><stop offset="0.057" stop-color="#ea3132"/><stop offset="0.071" stop-color="#ea3132"/><stop offset="0.086" stop-color="#ea3132"/><stop offset="0.100" stop-color="#ea3132"/><stop offset="0.114" stop-color="#ea3132"/><stop offset="0.129" stop-color="#ea3132"/><stop offset="0.143" stop-color="#ea3132"/><stop offset="0.157" stop-color="#ea3132"/><stop offset="0.171" stop-color="#ea3132"/><stop offset="0.186" stop-color="#ea3132"/><stop offset="0.200" stop-color="#ea3132"/><stop offset="0.214" stop-color="#ea3132"/><stop offset="0.229" stop-color="#ea3132"/><stop offset="0.243" stop-color="#ea3132"/><stop offset="0.257" stop-color="#ea3132"/><stop offset="0.271" stop-color="#ea3132"/><stop offset="0.286" stop-color="#ea3132"/><stop offset="0.300" stop-color="#ea3132"/><stop offset="0.314" stop-color="#ea3132"/><stop offset="0.329" stop-color="#ea3132"/><stop offset="0.343" stop-color="#ea3132"/><stop offset="0.357" stop-color="#ea3132"/><stop offset="0.371" stop-color="#ea3132"/><stop offset="0.386" stop-color="#ea3132"/><stop offset="0.400" stop-color="#ea3132"/><stop offset="0.414" stop-color="#ea3132"/><stop offset="0.429" stop-color="#ea3132"/><stop offset="0.443" stop-color="#ea3132"/><stop offset="0.457" stop-color="#ea3132"/><stop offset="0.471" stop-color="#ea3132"/><stop offset="0.486" stop-color="#ea3132"/><stop offset="0.500" stop-color="#ea3233"/><stop offset="0.514" stop-color="#ea3233"/><stop offset="0.529" stop-color="#ea3233"/><stop offset="0.543" stop-color="#ea3233"/><stop offset="0.557" stop-color="#ea3233"/><stop offset="0.571" stop-color="#ea3233"/><stop offset="0.586" stop-color="#ea3334"/><stop offset="0.600" stop-color="#ea3334"/><stop offset="0.614" stop-color="#ea3334"/><stop offset="0.629" stop-color="#ea3435"/><stop offset="0.643" stop-color="#ea3536"/><stop offset="0.657" stop-color="#ea3637"/><stop offset="0.671" stop-color="#ea3738"/><stop offset="0.686" stop-color="#eb3d3e"/><stop offset="0.700" stop-color="#eb4142"/><stop offset="0.714" stop-color="#ec4748"/><stop offset="0.729" stop-color="#ed5556"/><stop offset="0.743" stop-color="#f07474"/><stop offset="0.757" stop-color="#f6a6a7"/><stop offset="0.771" stop-color="#f6a8a9"/><stop offset="0.786" stop-color="#f38d8e"/><stop offset="0.800" stop-color="#f17778"/><stop offset="0.814" stop-color="#ef6667"/><stop offset="0.829" stop-color="#ed5758"/><stop offset="0.843" stop-color="#ec4c4d"/><stop offset="0.857" stop-color="#eb4445"/><stop offset="0.871" stop-color="#eb3f40"/><stop offset="0.886" stop-color="#eb3c3d"/><stop offset="0.900" stop-color="#eb3b3c"/><stop offset="0.914" stop-color="#ea3a3b"/><stop offset="0.929" stop-color="#ea393a"/><stop offset="0.943" stop-color="#ea3839"/><stop offset="0.957" stop-color="#ea3839"/><stop offset="0.971" stop-color="#ea3738"/><stop offset="0.986" stop-color="#ea3738"/><stop offset="1.000" stop-color="#ea3738"/></linearGradient>
<linearGradient id="eg20" x1="0" y1="0" x2="0" y2="1"><stop offset="0.000" stop-color="#ea3132"/><stop offset="0.014" stop-color="#ea3132"/><stop offset="0.029" stop-color="#ea3132"/><stop offset="0.043" stop-color="#ea3132"/><stop offset="0.057" stop-color="#ea3132"/><stop offset="0.071" stop-color="#ea3132"/><stop offset="0.086" stop-color="#ea3132"/><stop offset="0.100" stop-color="#ea3132"/><stop offset="0.114" stop-color="#ea3132"/><stop offset="0.129" stop-color="#ea3132"/><stop offset="0.143" stop-color="#ea3132"/><stop offset="0.157" stop-color="#ea3132"/><stop offset="0.171" stop-color="#ea3132"/><stop offset="0.186" stop-color="#ea3132"/><stop offset="0.200" stop-color="#ea3132"/><stop offset="0.214" stop-color="#ea3132"/><stop offset="0.229" stop-color="#ea3132"/><stop offset="0.243" stop-color="#ea3132"/><stop offset="0.257" stop-color="#ea3132"/><stop offset="0.271" stop-color="#ea3132"/><stop offset="0.286" stop-color="#ea3132"/><stop offset="0.300" stop-color="#ea3132"/><stop offset="0.314" stop-color="#ea3132"/><stop offset="0.329" stop-color="#ea3132"/><stop offset="0.343" stop-color="#ea3132"/><stop offset="0.357" stop-color="#ea3132"/><stop offset="0.371" stop-color="#ea3132"/><stop offset="0.386" stop-color="#ea3132"/><stop offset="0.400" stop-color="#ea3132"/><stop offset="0.414" stop-color="#ea3132"/><stop offset="0.429" stop-color="#ea3132"/><stop offset="0.443" stop-color="#ea3132"/><stop offset="0.457" stop-color="#ea3132"/><stop offset="0.471" stop-color="#ea3233"/><stop offset="0.486" stop-color="#ea3233"/><stop offset="0.500" stop-color="#ea3233"/><stop offset="0.514" stop-color="#ea3233"/><stop offset="0.529" stop-color="#ea3233"/><stop offset="0.543" stop-color="#ea3233"/><stop offset="0.557" stop-color="#ea3233"/><stop offset="0.571" stop-color="#ea3334"/><stop offset="0.586" stop-color="#ea3334"/><stop offset="0.600" stop-color="#ea3435"/><stop offset="0.614" stop-color="#ea3435"/><stop offset="0.629" stop-color="#ea3536"/><stop offset="0.643" stop-color="#ea3637"/><stop offset="0.657" stop-color="#ea3738"/><stop offset="0.671" stop-color="#ea393a"/><stop offset="0.686" stop-color="#eb4041"/><stop offset="0.700" stop-color="#ec4546"/><stop offset="0.714" stop-color="#ed4f50"/><stop offset="0.729" stop-color="#ef6465"/><stop offset="0.743" stop-color="#f39192"/><stop offset="0.757" stop-color="#f7b5b6"/><stop offset="0.771" stop-color="#f59fa0"/><stop offset="0.786" stop-color="#f28585"/><stop offset="0.800" stop-color="#f07071"/><stop offset="0.814" stop-color="#ee6061"/><stop offset="0.829" stop-color="#ed5253"/><stop offset="0.843" stop-color="#ec4949"/><stop offset="0.857" stop-color="#eb4243"/><stop offset="0.871" stop-color="#eb3f3f"/><stop offset="0.886" stop-color="#eb3c3d"/><stop offset="0.900" stop-color="#eb3b3c"/><stop offset="0.914" stop-color="#ea3a3b"/><stop offset="0.929" stop-color="#ea393a"/><stop offset="0.943" stop-color="#ea393a"/><stop offset="0.957" stop-color="#ea3839"/><stop offset="0.971" stop-color="#ea3839"/><stop offset="0.986" stop-color="#ea3738"/><stop offset="1.000" stop-color="#ea3738"/></linearGradient>
<linearGradient id="eg21" x1="0" y1="0" x2="0" y2="1"><stop offset="0.000" stop-color="#ea3132"/><stop offset="0.014" stop-color="#ea3132"/><stop offset="0.029" stop-color="#ea3132"/><stop offset="0.043" stop-color="#ea3132"/><stop offset="0.057" stop-color="#ea3132"/><stop offset="0.071" stop-color="#ea3132"/><stop offset="0.086" stop-color="#ea3132"/><stop offset="0.100" stop-color="#ea3132"/><stop offset="0.114" stop-color="#ea3132"/><stop offset="0.129" stop-color="#ea3132"/><stop offset="0.143" stop-color="#ea3132"/><stop offset="0.157" stop-color="#ea3132"/><stop offset="0.171" stop-color="#ea3132"/><stop offset="0.186" stop-color="#ea3132"/><stop offset="0.200" stop-color="#ea3132"/><stop offset="0.214" stop-color="#ea3132"/><stop offset="0.229" stop-color="#ea3132"/><stop offset="0.243" stop-color="#ea3132"/><stop offset="0.257" stop-color="#ea3132"/><stop offset="0.271" stop-color="#ea3132"/><stop offset="0.286" stop-color="#ea3132"/><stop offset="0.300" stop-color="#ea3132"/><stop offset="0.314" stop-color="#ea3132"/><stop offset="0.329" stop-color="#ea3132"/><stop offset="0.343" stop-color="#ea3132"/><stop offset="0.357" stop-color="#ea3132"/><stop offset="0.371" stop-color="#ea3132"/><stop offset="0.386" stop-color="#ea3132"/><stop offset="0.400" stop-color="#ea3132"/><stop offset="0.414" stop-color="#ea3132"/><stop offset="0.429" stop-color="#ea3132"/><stop offset="0.443" stop-color="#ea3132"/><stop offset="0.457" stop-color="#ea3233"/><stop offset="0.471" stop-color="#ea3233"/><stop offset="0.486" stop-color="#ea3233"/><stop offset="0.500" stop-color="#ea3233"/><stop offset="0.514" stop-color="#ea3233"/><stop offset="0.529" stop-color="#ea3233"/><stop offset="0.543" stop-color="#ea3334"/><stop offset="0.557" stop-color="#ea3334"/><stop offset="0.571" stop-color="#ea3334"/><stop offset="0.586" stop-color="#ea3435"/><stop offset="0.600" stop-color="#ea3435"/><stop offset="0.614" stop-color="#ea3536"/><stop offset="0.629" stop-color="#ea3637"/><stop offset="0.643" stop-color="#ea3738"/><stop offset="0.657" stop-color="#ea3839"/><stop offset="0.671" stop-color="#eb3b3c"/><stop offset="0.686" stop-color="#eb4445"/><stop offset="0.700" stop-color="#ec4c4c"/><stop offset="0.714" stop-color="#ee5c5c"/><stop offset="0.729" stop-color="#f17e7f"/><stop offset="0.743" stop-color="#f7b2b2"/><stop offset="0.757" stop-color="#f7b0b1"/><stop offset="0.771" stop-color="#f49393"/><stop offset="0.786" stop-color="#f17b7b"/><stop offset="0.800" stop-color="#ef6869"/><stop offset="0.814" stop-color="#ee595a"/><stop offset="0.829" stop-color="#ec4e4f"/><stop offset="0.843" stop-color="#ec4647"/><stop offset="0.857" stop-color="#eb4142"/><stop offset="0.871" stop-color="#eb3e3f"/><stop offset="0.886" stop-color="#eb3c3d"/><stop offset="0.900" stop-color="#eb3b3c"/><stop offset="0.914" stop-color="#ea3a3b"/><stop offset="0.929" stop-color="#ea3a3b"/><stop offset="0.943" stop-color="#ea393a"/><stop offset="0.957" stop-color="#ea3839"/><stop offset="0.971" stop-color="#ea3839"/><stop offset="0.986" stop-color="#ea3839"/><stop offset="1.000" stop-color="#ea3738"/></linearGradient>
<linearGradient id="eg22" x1="0" y1="0" x2="0" y2="1"><stop offset="0.000" stop-color="#ea3132"/><stop offset="0.014" stop-color="#ea3132"/><stop offset="0.029" stop-color="#ea3132"/><stop offset="0.043" stop-color="#ea3132"/><stop offset="0.057" stop-color="#ea3132"/><stop offset="0.071" stop-color="#ea3132"/><stop offset="0.086" stop-color="#ea3132"/><stop offset="0.100" stop-color="#ea3132"/><stop offset="0.114" stop-color="#ea3132"/><stop offset="0.129" stop-color="#ea3132"/><stop offset="0.143" stop-color="#ea3132"/><stop offset="0.157" stop-color="#ea3132"/><stop offset="0.171" stop-color="#ea3132"/><stop offset="0.186" stop-color="#ea3132"/><stop offset="0.200" stop-color="#ea3132"/><stop offset="0.214" stop-color="#ea3132"/><stop offset="0.229" stop-color="#ea3132"/><stop offset="0.243" stop-color="#ea3132"/><stop offset="0.257" stop-color="#ea3132"/><stop offset="0.271" stop-color="#ea3132"/><stop offset="0.286" stop-color="#ea3132"/><stop offset="0.300" stop-color="#ea3132"/><stop offset="0.314" stop-color="#ea3132"/><stop offset="0.329" stop-color="#ea3132"/><stop offset="0.343" stop-color="#ea3132"/><stop offset="0.357" stop-color="#ea3132"/><stop offset="0.371" stop-color="#ea3132"/><stop offset="0.386" stop-color="#ea3132"/><stop offset="0.400" stop-color="#ea3132"/><stop offset="0.414" stop-color="#ea3132"/><stop offset="0.429" stop-color="#ea3233"/><stop offset="0.443" stop-color="#ea3233"/><stop offset="0.457" stop-color="#ea3233"/><stop offset="0.471" stop-color="#ea3233"/><stop offset="0.486" stop-color="#ea3233"/><stop offset="0.500" stop-color="#ea3233"/><stop offset="0.514" stop-color="#ea3233"/><stop offset="0.529" stop-color="#ea3334"/><stop offset="0.543" stop-color="#ea3334"/><stop offset="0.557" stop-color="#ea3334"/><stop offset="0.571" stop-color="#ea3435"/><stop offset="0.586" stop-color="#ea3435"/><stop offset="0.600" stop-color="#ea3536"/><stop offset="0.614" stop-color="#ea3637"/><stop offset="0.629" stop-color="#ea3738"/><stop offset="0.643" stop-color="#ea393a"/><stop offset="0.657" stop-color="#eb3b3c"/><stop offset="0.671" stop-color="#eb3f40"/><stop offset="0.686" stop-color="#ec4a4b"/><stop offset="0.700" stop-color="#ed5758"/><stop offset="0.714" stop-color="#f07373"/><stop offset="0.729" stop-color="#f6a7a8"/><stop offset="0.743" stop-color="#f8bdbd"/><stop offset="0.757" stop-color="#f5a1a1"/><stop offset="0.771" stop-color="#f28585"/><stop offset="0.786" stop-color="#f07071"/><stop offset="0.800" stop-color="#ee5f60"/><stop offset="0.814" stop-color="#ed5253"/><stop offset="0.829" stop-color="#ec494a"/><stop offset="0.843" stop-color="#eb4444"/><stop offset="0.857" stop-color="#eb4041"/><stop offset="0.871" stop-color="#eb3e3f"/><stop offset="0.886" stop-color="#eb3c3d"/><stop offset="0.900" stop-color="#eb3b3c"/><stop offset="0.914" stop-color="#eb3a3b"/><stop offset="0.929" stop-color="#ea3a3b"/><stop offset="0.943" stop-color="#ea393a"/><stop offset="0.957" stop-color="#ea393a"/><stop offset="0.971" stop-color="#ea3839"/><stop offset="0.986" stop-color="#ea3839"/><stop offset="1.000" stop-color="#ea3839"/></linearGradient>
<linearGradient id="eg23" x1="0" y1="0" x2="0" y2="1"><stop offset="0.000" stop-color="#ea3132"/><stop offset="0.014" stop-color="#ea3132"/><stop offset="0.029" stop-color="#ea3132"/><stop offset="0.043" stop-color="#ea3132"/><stop offset="0.057" stop-color="#ea3132"/><stop offset="0.071" stop-color="#ea3132"/><stop offset="0.086" stop-color="#ea3132"/><stop offset="0.100" stop-color="#ea3132"/><stop offset="0.114" stop-color="#ea3132"/><stop offset="0.129" stop-color="#ea3132"/><stop offset="0.143" stop-color="#ea3132"/><stop offset="0.157" stop-color="#ea3132"/><stop offset="0.171" stop-color="#ea3132"/><stop offset="0.186" stop-color="#ea3132"/><stop offset="0.200" stop-color="#ea3132"/><stop offset="0.214" stop-color="#ea3132"/><stop offset="0.229" stop-color="#ea3132"/><stop offset="0.243" stop-color="#ea3132"/><stop offset="0.257" stop-color="#ea3132"/><stop offset="0.271" stop-color="#ea3132"/><stop offset="0.286" stop-color="#ea3132"/><stop offset="0.300" stop-color="#ea3132"/><stop offset="0.314" stop-color="#ea3132"/><stop offset="0.329" stop-color="#ea3132"/><stop offset="0.343" stop-color="#ea3132"/><stop offset="0.357" stop-color="#ea3132"/><stop offset="0.371" stop-color="#ea3132"/><stop offset="0.386" stop-color="#ea3132"/><stop offset="0.400" stop-color="#ea3233"/><stop offset="0.414" stop-color="#ea3233"/><stop offset="0.429" stop-color="#ea3233"/><stop offset="0.443" stop-color="#ea3233"/><stop offset="0.457" stop-color="#ea3233"/><stop offset="0.471" stop-color="#ea3233"/><stop offset="0.486" stop-color="#ea3233"/><stop offset="0.500" stop-color="#ea3334"/><stop offset="0.514" stop-color="#ea3334"/><stop offset="0.529" stop-color="#ea3334"/><stop offset="0.543" stop-color="#ea3334"/><stop offset="0.557" stop-color="#ea3435"/><stop offset="0.571" stop-color="#ea3435"/><stop offset="0.586" stop-color="#ea3536"/><stop offset="0.600" stop-color="#ea3637"/><stop offset="0.614" stop-color="#ea3738"/><stop offset="0.629" stop-color="#ea393a"/><stop offset="0.643" stop-color="#eb3b3c"/><stop offset="0.657" stop-color="#eb3f40"/><stop offset="0.671" stop-color="#ec4546"/><stop offset="0.686" stop-color="#ed5556"/><stop offset="0.700" stop-color="#f06d6e"/><stop offset="0.714" stop-color="#f59d9e"/><stop offset="0.729" stop-color="#f9c5c5"/><stop offset="0.743" stop-color="#f6adae"/><stop offset="0.757" stop-color="#f38e8e"/><stop offset="0.771" stop-color="#f17677"/><stop offset="0.786" stop-color="#ef6465"/><stop offset="0.800" stop-color="#ed5757"/><stop offset="0.814" stop-color="#ec4d4e"/><stop offset="0.829" stop-color="#ec4647"/><stop offset="0.843" stop-color="#eb4243"/><stop offset="0.857" stop-color="#eb3f40"/><stop offset="0.871" stop-color="#eb3e3f"/><stop offset="0.886" stop-color="#eb3c3d"/><stop offset="0.900" stop-color="#eb3b3c"/><stop offset="0.914" stop-color="#eb3b3c"/><stop offset="0.929" stop-color="#ea3a3b"/><stop offset="0.943" stop-color="#ea393a"/><stop offset="0.957" stop-color="#ea393a"/><stop offset="0.971" stop-color="#ea393a"/><stop offset="0.986" stop-color="#ea3839"/><stop offset="1.000" stop-color="#ea3839"/></linearGradient>
<linearGradient id="eg24" x1="0" y1="0" x2="0" y2="1"><stop offset="0.000" stop-color="#ea3132"/><stop offset="0.014" stop-color="#ea3132"/><stop offset="0.029" stop-color="#ea3132"/><stop offset="0.043" stop-color="#ea3132"/><stop offset="0.057" stop-color="#ea3132"/><stop offset="0.071" stop-color="#ea3132"/><stop offset="0.086" stop-color="#ea3132"/><stop offset="0.100" stop-color="#ea3132"/><stop offset="0.114" stop-color="#ea3132"/><stop offset="0.129" stop-color="#ea3132"/><stop offset="0.143" stop-color="#ea3132"/><stop offset="0.157" stop-color="#ea3132"/><stop offset="0.171" stop-color="#ea3132"/><stop offset="0.186" stop-color="#ea3132"/><stop offset="0.200" stop-color="#ea3132"/><stop offset="0.214" stop-color="#ea3132"/><stop offset="0.229" stop-color="#ea3132"/><stop offset="0.243" stop-color="#ea3132"/><stop offset="0.257" stop-color="#ea3132"/><stop offset="0.271" stop-color="#ea3132"/><stop offset="0.286" stop-color="#ea3132"/><stop offset="0.300" stop-color="#ea3132"/><stop offset="0.314" stop-color="#ea3132"/><stop offset="0.329" stop-color="#ea3132"/><stop offset="0.343" stop-color="#ea3132"/><stop offset="0.357" stop-color="#ea3132"/><stop offset="0.371" stop-color="#ea3233"/><stop offset="0.386" stop-color="#ea3233"/><stop offset="0.400" stop-color="#ea3233"/><stop offset="0.414" stop-color="#ea3233"/><stop offset="0.429" stop-color="#ea3233"/><stop offset="0.443" stop-color="#ea3233"/><stop offset="0.457" stop-color="#ea3233"/><stop offset="0.471" stop-color="#ea3233"/><stop offset="0.486" stop-color="#ea3334"/><stop offset="0.500" stop-color="#ea3334"/><stop offset="0.514" stop-color="#ea3334"/><stop offset="0.529" stop-color="#ea3435"/><stop offset="0.543" stop-color="#ea3435"/><stop offset="0.557" stop-color="#ea3536"/><stop offset="0.571" stop-color="#ea3536"/><stop offset="0.586" stop-color="#ea3637"/><stop offset="0.600" stop-color="#ea3839"/><stop offset="0.614" stop-color="#ea393a"/><stop offset="0.629" stop-color="#eb3c3d"/><stop offset="0.643" stop-color="#eb3f40"/><stop offset="0.657" stop-color="#ec4546"/><stop offset="0.671" stop-color="#ed5051"/><stop offset="0.686" stop-color="#ef6b6c"/><stop offset="0.700" stop-color="#f49999"/><stop offset="0.714" stop-color="#f9caca"/><stop offset="0.729" stop-color="#f7b7b7"/><stop offset="0.743" stop-color="#f49596"/><stop offset="0.757" stop-color="#f17b7c"/><stop offset="0.771" stop-color="#ef6869"/><stop offset="0.786" stop-color="#ee5a5b"/><stop offset="0.800" stop-color="#ed4f50"/><stop offset="0.814" stop-color="#ec4849"/><stop offset="0.829" stop-color="#eb4445"/><stop offset="0.843" stop-color="#eb4142"/><stop offset="0.857" stop-color="#eb3f40"/><stop offset="0.871" stop-color="#eb3d3e"/><stop offset="0.886" stop-color="#eb3c3d"/><stop offset="0.900" stop-color="#eb3b3c"/><stop offset="0.914" stop-color="#eb3b3c"/><stop offset="0.929" stop-color="#ea3a3b"/><stop offset="0.943" stop-color="#ea3a3b"/><stop offset="0.957" stop-color="#ea393a"/><stop offset="0.971" stop-color="#ea393a"/><stop offset="0.986" stop-color="#ea3939"/><stop offset="1.000" stop-color="#ea3839"/></linearGradient>
<linearGradient id="eg25" x1="0" y1="0" x2="0" y2="1"><stop offset="0.000" stop-color="#ea3132"/><stop offset="0.014" stop-color="#ea3132"/><stop offset="0.029" stop-color="#ea3132"/><stop offset="0.043" stop-color="#ea3132"/><stop offset="0.057" stop-color="#ea3132"/><stop offset="0.071" stop-color="#ea3132"/><stop offset="0.086" stop-color="#ea3132"/><stop offset="0.100" stop-color="#ea3132"/><stop offset="0.114" stop-color="#ea3132"/><stop offset="0.129" stop-color="#ea3132"/><stop offset="0.143" stop-color="#ea3132"/><stop offset="0.157" stop-color="#ea3132"/><stop offset="0.171" stop-color="#ea3132"/><stop offset="0.186" stop-color="#ea3132"/><stop offset="0.200" stop-color="#ea3132"/><stop offset="0.214" stop-color="#ea3132"/><stop offset="0.229" stop-color="#ea3132"/><stop offset="0.243" stop-color="#ea3132"/><stop offset="0.257" stop-color="#ea3132"/><stop offset="0.271" stop-color="#ea3132"/><stop offset="0.286" stop-color="#ea3132"/><stop offset="0.300" stop-color="#ea3132"/><stop offset="0.314" stop-color="#ea3132"/><stop offset="0.329" stop-color="#ea3132"/><stop offset="0.343" stop-color="#ea3233"/><stop offset="0.357" stop-color="#ea3233"/><stop offset="0.371" stop-color="#ea3233"/><stop offset="0.386" stop-color="#ea3233"/><stop offset="0.400" stop-color="#ea3233"/><stop offset="0.414" stop-color="#ea3233"/><stop offset="0.429" stop-color="#ea3233"/><stop offset="0.443" stop-color="#ea3233"/><stop offset="0.457" stop-color="#ea3334"/><stop offset="0.471" stop-color="#ea3334"/><stop offset="0.486" stop-color="#ea3334"/><stop offset="0.500" stop-color="#ea3435"/><stop offset="0.514" stop-color="#ea3435"/><stop offset="0.529" stop-color="#ea3435"/><stop offset="0.543" stop-color="#ea3536"/><stop offset="0.557" stop-color="#ea3637"/><stop offset="0.571" stop-color="#ea3738"/><stop offset="0.586" stop-color="#ea3839"/><stop offset="0.600" stop-color="#ea3a3b"/><stop offset="0.614" stop-color="#eb3c3d"/><stop offset="0.629" stop-color="#eb4041"/><stop offset="0.643" stop-color="#ec4647"/><stop offset="0.657" stop-color="#ed5252"/><stop offset="0.671" stop-color="#ef6869"/><stop offset="0.686" stop-color="#f49b9c"/><stop offset="0.700" stop-color="#f9c9ca"/><stop offset="0.714" stop-color="#f8bdbe"/><stop offset="0.729" stop-color="#f49a9a"/><stop offset="0.743" stop-color="#f17e7f"/><stop offset="0.757" stop-color="#ef6b6b"/><stop offset="0.771" stop-color="#ee5c5d"/><stop offset="0.786" stop-color="#ed5152"/><stop offset="0.800" stop-color="#ec4a4b"/><stop offset="0.814" stop-color="#ec4546"/><stop offset="0.829" stop-color="#eb4243"/><stop offset="0.843" stop-color="#eb4041"/><stop offset="0.857" stop-color="#eb3e3f"/><stop offset="0.871" stop-color="#eb3d3e"/><stop offset="0.886" stop-color="#eb3c3d"/><stop offset="0.900" stop-color="#eb3b3c"/><stop offset="0.914" stop-color="#eb3b3c"/><stop offset="0.929" stop-color="#ea3a3b"/><stop offset="0.943" stop-color="#ea3a3b"/><stop offset="0.957" stop-color="#ea393a"/><stop offset="0.971" stop-color="#ea393a"/><stop offset="0.986" stop-color="#ea393a"/><stop offset="1.000" stop-color="#ea3839"/></linearGradient>
<linearGradient id="eg26" x1="0" y1="0" x2="0" y2="1"><stop offset="0.000" stop-color="#ea3132"/><stop offset="0.014" stop-color="#ea3132"/><stop offset="0.029" stop-color="#ea3132"/><stop offset="0.043" stop-color="#ea3132"/><stop offset="0.057" stop-color="#ea3132"/><stop offset="0.071" stop-color="#ea3132"/><stop offset="0.086" stop-color="#ea3132"/><stop offset="0.100" stop-color="#ea3132"/><stop offset="0.114" stop-color="#ea3132"/><stop offset="0.129" stop-color="#ea3132"/><stop offset="0.143" stop-color="#ea3132"/><stop offset="0.157" stop-color="#ea3132"/><stop offset="0.171" stop-color="#ea3132"/><stop offset="0.186" stop-color="#ea3132"/><stop offset="0.200" stop-color="#ea3132"/><stop offset="0.214" stop-color="#ea3132"/><stop offset="0.229" stop-color="#ea3132"/><stop offset="0.243" stop-color="#ea3132"/><stop offset="0.257" stop-color="#ea3132"/><stop offset="0.271" stop-color="#ea3132"/><stop offset="0.286" stop-color="#ea3132"/><stop offset="0.300" stop-color="#ea3132"/><stop offset="0.314" stop-color="#ea3233"/><stop offset="0.329" stop-color="#ea3233"/><stop offset="0.343" stop-color="#ea3233"/><stop offset="0.357" stop-color="#ea3233"/><stop offset="0.371" stop-color="#ea3233"/><stop offset="0.386" stop-color="#ea3233"/><stop offset="0.400" stop-color="#ea3233"/><stop offset="0.414" stop-color="#ea3233"/><stop offset="0.429" stop-color="#ea3334"/><stop offset="0.443" stop-color="#ea3334"/><stop offset="0.457" stop-color="#ea3334"/><stop offset="0.471" stop-color="#ea3334"/><stop offset="0.486" stop-color="#ea3435"/><stop offset="0.500" stop-color="#ea3435"/><stop offset="0.514" stop-color="#ea3536"/><stop offset="0.529" stop-color="#ea3637"/><stop offset="0.543" stop-color="#ea3637"/><stop offset="0.557" stop-color="#ea3839"/><stop offset="0.571" stop-color="#ea393a"/><stop offset="0.586" stop-color="#eb3b3c"/><stop offset="0.600" stop-color="#eb3e3f"/><stop offset="0.614" stop-color="#eb4243"/><stop offset="0.629" stop-color="#ec494a"/><stop offset="0.643" stop-color="#ed5556"/><stop offset="0.657" stop-color="#f06e6f"/><stop offset="0.671" stop-color="#f59fa0"/><stop offset="0.686" stop-color="#fad6d6"/><stop offset="0.700" stop-color="#f8c0c0"/><stop offset="0.714" stop-color="#f49b9b"/><stop offset="0.729" stop-color="#f17f7f"/><stop offset="0.743" stop-color="#ef6b6c"/><stop offset="0.757" stop-color="#ee5c5d"/><stop offset="0.771" stop-color="#ed5253"/><stop offset="0.786" stop-color="#ec4b4c"/><stop offset="0.800" stop-color="#ec4647"/><stop offset="0.814" stop-color="#eb4344"/><stop offset="0.829" stop-color="#eb4142"/><stop offset="0.843" stop-color="#eb3f40"/><stop offset="0.857" stop-color="#eb3e3f"/><stop offset="0.871" stop-color="#eb3d3e"/><stop offset="0.886" stop-color="#eb3c3d"/><stop offset="0.900" stop-color="#eb3b3c"/><stop offset="0.914" stop-color="#eb3b3c"/><stop offset="0.929" stop-color="#ea3a3b"/><stop offset="0.943" stop-color="#ea3a3b"/><stop offset="0.957" stop-color="#ea393a"/><stop offset="0.971" stop-color="#ea393a"/><stop offset="0.986" stop-color="#ea393a"/><stop offset="1.000" stop-color="#ea393a"/></linearGradient>
<linearGradient id="eg27" x1="0" y1="0" x2="0" y2="1"><stop offset="0.000" stop-color="#ea3132"/><stop offset="0.014" stop-color="#ea3132"/><stop offset="0.029" stop-color="#ea3132"/><stop offset="0.043" stop-color="#ea3132"/><stop offset="0.057" stop-color="#ea3132"/><stop offset="0.071" stop-color="#ea3132"/><stop offset="0.086" stop-color="#ea3132"/><stop offset="0.100" stop-color="#ea3132"/><stop offset="0.114" stop-color="#ea3132"/><stop offset="0.129" stop-color="#ea3132"/><stop offset="0.143" stop-color="#ea3132"/><stop offset="0.157" stop-color="#ea3132"/><stop offset="0.171" stop-color="#ea3132"/><stop offset="0.186" stop-color="#ea3132"/><stop offset="0.200" stop-color="#ea3132"/><stop offset="0.214" stop-color="#ea3132"/><stop offset="0.229" stop-color="#ea3132"/><stop offset="0.243" stop-color="#ea3132"/><stop offset="0.257" stop-color="#ea3132"/><stop offset="0.271" stop-color="#ea3232"/><stop offset="0.286" stop-color="#ea3233"/><stop offset="0.300" stop-color="#ea3233"/><stop offset="0.314" stop-color="#ea3233"/><stop offset="0.329" stop-color="#ea3233"/><stop offset="0.343" stop-color="#ea3233"/><stop offset="0.357" stop-color="#ea3233"/><stop offset="0.371" stop-color="#ea3233"/><stop offset="0.386" stop-color="#ea3233"/><stop offset="0.400" stop-color="#ea3334"/><stop offset="0.414" stop-color="#ea3334"/><stop offset="0.429" stop-color="#ea3334"/><stop offset="0.443" stop-color="#ea3334"/><stop offset="0.457" stop-color="#ea3435"/><stop offset="0.471" stop-color="#ea3435"/><stop offset="0.486" stop-color="#ea3536"/><stop offset="0.500" stop-color="#ea3536"/><stop offset="0.514" stop-color="#ea3637"/><stop offset="0.529" stop-color="#ea3738"/><stop offset="0.543" stop-color="#ea3839"/><stop offset="0.557" stop-color="#ea3a3b"/><stop offset="0.571" stop-color="#eb3c3d"/><stop offset="0.586" stop-color="#eb4041"/><stop offset="0.600" stop-color="#ec4545"/><stop offset="0.614" stop-color="#ec4d4e"/><stop offset="0.629" stop-color="#ee5c5c"/><stop offset="0.643" stop-color="#f17a7a"/><stop offset="0.657" stop-color="#f7b1b2"/><stop offset="0.671" stop-color="#fad5d5"/><stop offset="0.686" stop-color="#f8bdbd"/><stop offset="0.700" stop-color="#f49898"/><stop offset="0.714" stop-color="#f17d7d"/><stop offset="0.729" stop-color="#ef696a"/><stop offset="0.743" stop-color="#ee5c5c"/><stop offset="0.757" stop-color="#ed5253"/><stop offset="0.771" stop-color="#ec4b4c"/><stop offset="0.786" stop-color="#ec4748"/><stop offset="0.800" stop-color="#eb4445"/><stop offset="0.814" stop-color="#eb4243"/><stop offset="0.829" stop-color="#eb4041"/><stop offset="0.843" stop-color="#eb3f40"/><stop offset="0.857" stop-color="#eb3e3e"/><stop offset="0.871" stop-color="#eb3d3e"/><stop offset="0.886" stop-color="#eb3c3d"/><stop offset="0.900" stop-color="#eb3b3c"/><stop offset="0.914" stop-color="#eb3b3c"/><stop offset="0.929" stop-color="#ea3a3b"/><stop offset="0.943" stop-color="#ea3a3b"/><stop offset="0.957" stop-color="#ea3a3b"/><stop offset="0.971" stop-color="#ea393a"/><stop offset="0.986" stop-color="#ea393a"/><stop offset="1.000" stop-color="#ea393a"/></linearGradient>
<linearGradient id="eg28" x1="0" y1="0" x2="0" y2="1"><stop offset="0.000" stop-color="#ea3132"/><stop offset="0.014" stop-color="#ea3132"/><stop offset="0.029" stop-color="#ea3132"/><stop offset="0.043" stop-color="#ea3132"/><stop offset="0.057" stop-color="#ea3132"/><stop offset="0.071" stop-color="#ea3132"/><stop offset="0.086" stop-color="#ea3132"/><stop offset="0.100" stop-color="#ea3132"/><stop offset="0.114" stop-color="#ea3132"/><stop offset="0.129" stop-color="#ea3132"/><stop offset="0.143" stop-color="#ea3132"/><stop offset="0.157" stop-color="#ea3132"/><stop offset="0.171" stop-color="#ea3132"/><stop offset="0.186" stop-color="#ea3132"/><stop offset="0.200" stop-color="#ea3132"/><stop offset="0.214" stop-color="#ea3132"/><stop offset="0.229" stop-color="#ea3132"/><stop offset="0.243" stop-color="#ea3233"/><stop offset="0.257" stop-color="#ea3233"/><stop offset="0.271" stop-color="#ea3233"/><stop offset="0.286" stop-color="#ea3233"/><stop offset="0.300" stop-color="#ea3233"/><stop offset="0.314" stop-color="#ea3233"/><stop offset="0.329" stop-color="#ea3233"/><stop offset="0.343" stop-color="#ea3233"/><stop offset="0.357" stop-color="#ea3233"/><stop offset="0.371" stop-color="#ea3334"/><stop offset="0.386" stop-color="#ea3334"/><stop offset="0.400" stop-color="#ea3334"/><stop offset="0.414" stop-color="#ea3334"/><stop offset="0.429" stop-color="#ea3435"/><stop offset="0.443" stop-color="#ea3435"/><stop offset="0.457" stop-color="#ea3536"/><stop offset="0.471" stop-color="#ea3536"/><stop offset="0.486" stop-color="#ea3637"/><stop offset="0.500" stop-color="#ea3738"/><stop offset="0.514" stop-color="#ea3839"/><stop offset="0.529" stop-color="#ea3a3b"/><stop offset="0.543" stop-color="#eb3c3c"/><stop offset="0.557" stop-color="#eb3e3f"/><stop offset="0.571" stop-color="#eb4243"/><stop offset="0.586" stop-color="#ec4849"/><stop offset="0.600" stop-color="#ed5354"/><stop offset="0.614" stop-color="#ef6767"/><stop offset="0.629" stop-color="#f38f8f"/><stop offset="0.643" stop-color="#f9caca"/><stop offset="0.657" stop-color="#fad4d4"/><stop offset="0.671" stop-color="#f6aeaf"/><stop offset="0.686" stop-color="#f39091"/><stop offset="0.700" stop-color="#f17778"/><stop offset="0.714" stop-color="#ef6666"/><stop offset="0.729" stop-color="#ee595a"/><stop offset="0.743" stop-color="#ed5152"/><stop offset="0.757" stop-color="#ec4b4c"/><stop offset="0.771" stop-color="#ec4748"/><stop offset="0.786" stop-color="#ec4445"/><stop offset="0.800" stop-color="#eb4243"/><stop offset="0.814" stop-color="#eb4041"/><stop offset="0.829" stop-color="#eb3f40"/><stop offset="0.843" stop-color="#eb3e3f"/><stop offset="0.857" stop-color="#eb3d3e"/><stop offset="0.871" stop-color="#eb3c3d"/><stop offset="0.886" stop-color="#eb3c3d"/><stop offset="0.900" stop-color="#eb3b3c"/><stop offset="0.914" stop-color="#eb3b3c"/><stop offset="0.929" stop-color="#ea3a3b"/><stop offset="0.943" stop-color="#ea3a3b"/><stop offset="0.957" stop-color="#ea3a3b"/><stop offset="0.971" stop-color="#ea393a"/><stop offset="0.986" stop-color="#ea393a"/><stop offset="1.000" stop-color="#ea393a"/></linearGradient>
<linearGradient id="eg29" x1="0" y1="0" x2="0" y2="1"><stop offset="0.000" stop-color="#ea3132"/><stop offset="0.014" stop-color="#ea3132"/><stop offset="0.029" stop-color="#ea3132"/><stop offset="0.043" stop-color="#ea3132"/><stop offset="0.057" stop-color="#ea3132"/><stop offset="0.071" stop-color="#ea3132"/><stop offset="0.086" stop-color="#ea3132"/><stop offset="0.100" stop-color="#ea3132"/><stop offset="0.114" stop-color="#ea3132"/><stop offset="0.129" stop-color="#ea3132"/><stop offset="0.143" stop-color="#ea3132"/><stop offset="0.157" stop-color="#ea3132"/><stop offset="0.171" stop-color="#ea3132"/><stop offset="0.186" stop-color="#ea3132"/><stop offset="0.200" stop-color="#ea3132"/><stop offset="0.214" stop-color="#ea3233"/><stop offset="0.229" stop-color="#ea3233"/><stop offset="0.243" stop-color="#ea3233"/><stop offset="0.257" stop-color="#ea3233"/><stop offset="0.271" stop-color="#ea3233"/><stop offset="0.286" stop-color="#ea3233"/><stop offset="0.300" stop-color="#ea3233"/><stop offset="0.314" stop-color="#ea3233"/><stop offset="0.329" stop-color="#ea3233"/><stop offset="0.343" stop-color="#ea3334"/><stop offset="0.357" stop-color="#ea3334"/><stop offset="0.371" stop-color="#ea3334"/><stop offset="0.386" stop-color="#ea3334"/><stop offset="0.400" stop-color="#ea3435"/><stop offset="0.414" stop-color="#ea3435"/><stop offset="0.429" stop-color="#ea3536"/><stop offset="0.443" stop-color="#ea3536"/><stop offset="0.457" stop-color="#ea3637"/><stop offset="0.471" stop-color="#ea3738"/><stop offset="0.486" stop-color="#ea3839"/><stop offset="0.500" stop-color="#ea393a"/><stop offset="0.514" stop-color="#eb3b3c"/><stop offset="0.529" stop-color="#eb3d3e"/><stop offset="0.543" stop-color="#eb4142"/><stop offset="0.557" stop-color="#ec4647"/><stop offset="0.571" stop-color="#ed4e4f"/><stop offset="0.586" stop-color="#ee5d5e"/><stop offset="0.600" stop-color="#f17b7b"/><stop offset="0.614" stop-color="#f7b2b2"/><stop offset="0.629" stop-color="#fce2e2"/><stop offset="0.643" stop-color="#f9c8c8"/><stop offset="0.657" stop-color="#f59f9f"/><stop offset="0.671" stop-color="#f27f80"/><stop offset="0.686" stop-color="#f06f70"/><stop offset="0.700" stop-color="#ee6161"/><stop offset="0.714" stop-color="#ed5657"/><stop offset="0.729" stop-color="#ed4f50"/><stop offset="0.743" stop-color="#ec4a4b"/><stop offset="0.757" stop-color="#ec4647"/><stop offset="0.771" stop-color="#eb4445"/><stop offset="0.786" stop-color="#eb4243"/><stop offset="0.800" stop-color="#eb4041"/><stop offset="0.814" stop-color="#eb3f40"/><stop offset="0.829" stop-color="#eb3e3f"/><stop offset="0.843" stop-color="#eb3d3e"/><stop offset="0.857" stop-color="#eb3c3d"/><stop offset="0.871" stop-color="#eb3c3d"/><stop offset="0.886" stop-color="#eb3b3c"/><stop offset="0.900" stop-color="#eb3b3c"/><stop offset="0.914" stop-color="#eb3a3b"/><stop offset="0.929" stop-color="#ea3a3b"/><stop offset="0.943" stop-color="#ea3a3b"/><stop offset="0.957" stop-color="#ea3a3a"/><stop offset="0.971" stop-color="#ea393a"/><stop offset="0.986" stop-color="#ea393a"/><stop offset="1.000" stop-color="#ea393a"/></linearGradient>
<linearGradient id="eg30" x1="0" y1="0" x2="0" y2="1"><stop offset="0.000" stop-color="#ea3132"/><stop offset="0.014" stop-color="#ea3132"/><stop offset="0.029" stop-color="#ea3132"/><stop offset="0.043" stop-color="#ea3132"/><stop offset="0.057" stop-color="#ea3132"/><stop offset="0.071" stop-color="#ea3132"/><stop offset="0.086" stop-color="#ea3132"/><stop offset="0.100" stop-color="#ea3132"/><stop offset="0.114" stop-color="#ea3132"/><stop offset="0.129" stop-color="#ea3132"/><stop offset="0.143" stop-color="#ea3132"/><stop offset="0.157" stop-color="#ea3132"/><stop offset="0.171" stop-color="#ea3132"/><stop offset="0.186" stop-color="#ea3233"/><stop offset="0.200" stop-color="#ea3233"/><stop offset="0.214" stop-color="#ea3233"/><stop offset="0.229" stop-color="#ea3233"/><stop offset="0.243" stop-color="#ea3233"/><stop offset="0.257" stop-color="#ea3233"/><stop offset="0.271" stop-color="#ea3233"/><stop offset="0.286" stop-color="#ea3233"/><stop offset="0.300" stop-color="#ea3233"/><stop offset="0.314" stop-color="#ea3334"/><stop offset="0.329" stop-color="#ea3334"/><stop offset="0.343" stop-color="#ea3334"/><stop offset="0.357" stop-color="#ea3334"/><stop offset="0.371" stop-color="#ea3435"/><stop offset="0.386" stop-color="#ea3435"/><stop offset="0.400" stop-color="#ea3535"/><stop offset="0.414" stop-color="#ea3536"/><stop offset="0.429" stop-color="#ea3637"/><stop offset="0.443" stop-color="#ea3738"/><stop offset="0.457" stop-color="#ea3839"/><stop offset="0.471" stop-color="#ea393a"/><stop offset="0.486" stop-color="#eb3b3c"/><stop offset="0.500" stop-color="#eb3d3e"/><stop offset="0.514" stop-color="#eb4041"/><stop offset="0.529" stop-color="#ec4546"/><stop offset="0.543" stop-color="#ec4c4d"/><stop offset="0.557" stop-color="#ee595a"/><stop offset="0.571" stop-color="#f07172"/><stop offset="0.586" stop-color="#f5a0a1"/><stop offset="0.600" stop-color="#fbdbdc"/><stop offset="0.614" stop-color="#fbdbdb"/><stop offset="0.629" stop-color="#f7b1b1"/><stop offset="0.643" stop-color="#f38c8c"/><stop offset="0.657" stop-color="#f07273"/><stop offset="0.671" stop-color="#ee6161"/><stop offset="0.686" stop-color="#ee5b5c"/><stop offset="0.700" stop-color="#ed5253"/><stop offset="0.714" stop-color="#ec4d4e"/><stop offset="0.729" stop-color="#ec494a"/><stop offset="0.743" stop-color="#ec4647"/><stop offset="0.757" stop-color="#eb4344"/><stop offset="0.771" stop-color="#eb4242"/><stop offset="0.786" stop-color="#eb4041"/><stop offset="0.800" stop-color="#eb3f40"/><stop offset="0.814" stop-color="#eb3e3f"/><stop offset="0.829" stop-color="#eb3d3e"/><stop offset="0.843" stop-color="#eb3c3d"/><stop offset="0.857" stop-color="#eb3c3d"/><stop offset="0.871" stop-color="#eb3b3c"/><stop offset="0.886" stop-color="#eb3b3c"/><stop offset="0.900" stop-color="#eb3b3c"/><stop offset="0.914" stop-color="#ea3a3b"/><stop offset="0.929" stop-color="#ea3a3b"/><stop offset="0.943" stop-color="#ea3a3b"/><stop offset="0.957" stop-color="#ea393a"/><stop offset="0.971" stop-color="#ea393a"/><stop offset="0.986" stop-color="#ea393a"/><stop offset="1.000" stop-color="#ea393a"/></linearGradient>
<linearGradient id="eg31" x1="0" y1="0" x2="0" y2="1"><stop offset="0.000" stop-color="#ea3132"/><stop offset="0.014" stop-color="#ea3132"/><stop offset="0.029" stop-color="#ea3132"/><stop offset="0.043" stop-color="#ea3132"/><stop offset="0.057" stop-color="#ea3132"/><stop offset="0.071" stop-color="#ea3132"/><stop offset="0.086" stop-color="#ea3132"/><stop offset="0.100" stop-color="#ea3132"/><stop offset="0.114" stop-color="#ea3132"/><stop offset="0.129" stop-color="#ea3132"/><stop offset="0.143" stop-color="#ea3232"/><stop offset="0.157" stop-color="#ea3233"/><stop offset="0.171" stop-color="#ea3233"/><stop offset="0.186" stop-color="#ea3233"/><stop offset="0.200" stop-color="#ea3233"/><stop offset="0.214" stop-color="#ea3233"/><stop offset="0.229" stop-color="#ea3233"/><stop offset="0.243" stop-color="#ea3233"/><stop offset="0.257" stop-color="#ea3233"/><stop offset="0.271" stop-color="#ea3233"/><stop offset="0.286" stop-color="#ea3334"/><stop offset="0.300" stop-color="#ea3334"/><stop offset="0.314" stop-color="#ea3334"/><stop offset="0.329" stop-color="#ea3334"/><stop offset="0.343" stop-color="#ea3435"/><stop offset="0.357" stop-color="#ea3435"/><stop offset="0.371" stop-color="#ea3536"/><stop offset="0.386" stop-color="#ea3536"/><stop offset="0.400" stop-color="#ea3637"/><stop offset="0.414" stop-color="#ea3738"/><stop offset="0.429" stop-color="#ea3839"/><stop offset="0.443" stop-color="#ea393a"/><stop offset="0.457" stop-color="#eb3b3c"/><stop offset="0.471" stop-color="#eb3d3e"/><stop offset="0.486" stop-color="#eb4041"/><stop offset="0.500" stop-color="#ec4546"/><stop offset="0.514" stop-color="#ec4c4d"/><stop offset="0.529" stop-color="#ee5859"/><stop offset="0.543" stop-color="#f06f70"/><stop offset="0.557" stop-color="#f49b9b"/><stop offset="0.571" stop-color="#fbdada"/><stop offset="0.586" stop-color="#fce6e6"/><stop offset="0.600" stop-color="#f8bebe"/><stop offset="0.614" stop-color="#f49596"/><stop offset="0.629" stop-color="#f17879"/><stop offset="0.643" stop-color="#ef6566"/><stop offset="0.657" stop-color="#ee5859"/><stop offset="0.671" stop-color="#ed4f50"/><stop offset="0.686" stop-color="#ed4f50"/><stop offset="0.700" stop-color="#ec4a4b"/><stop offset="0.714" stop-color="#ec4748"/><stop offset="0.729" stop-color="#ec4545"/><stop offset="0.743" stop-color="#eb4344"/><stop offset="0.757" stop-color="#eb4142"/><stop offset="0.771" stop-color="#eb4041"/><stop offset="0.786" stop-color="#eb3f40"/><stop offset="0.800" stop-color="#eb3e3f"/><stop offset="0.814" stop-color="#eb3d3e"/><stop offset="0.829" stop-color="#eb3c3d"/><stop offset="0.843" stop-color="#eb3c3d"/><stop offset="0.857" stop-color="#eb3b3c"/><stop offset="0.871" stop-color="#eb3b3c"/><stop offset="0.886" stop-color="#eb3b3c"/><stop offset="0.900" stop-color="#eb3a3b"/><stop offset="0.914" stop-color="#ea3a3b"/><stop offset="0.929" stop-color="#ea3a3b"/><stop offset="0.943" stop-color="#ea3a3b"/><stop offset="0.957" stop-color="#ea393a"/><stop offset="0.971" stop-color="#ea393a"/><stop offset="0.986" stop-color="#ea393a"/><stop offset="1.000" stop-color="#ea393a"/></linearGradient>
<linearGradient id="eg32" x1="0" y1="0" x2="0" y2="1"><stop offset="0.000" stop-color="#ea3132"/><stop offset="0.014" stop-color="#ea3132"/><stop offset="0.029" stop-color="#ea3132"/><stop offset="0.043" stop-color="#ea3132"/><stop offset="0.057" stop-color="#ea3132"/><stop offset="0.071" stop-color="#ea3132"/><stop offset="0.086" stop-color="#ea3132"/><stop offset="0.100" stop-color="#ea3132"/><stop offset="0.114" stop-color="#ea3233"/><stop offset="0.129" stop-color="#ea3233"/><stop offset="0.143" stop-color="#ea3233"/><stop offset="0.157" stop-color="#ea3233"/><stop offset="0.171" stop-color="#ea3233"/><stop offset="0.186" stop-color="#ea3233"/><stop offset="0.200" stop-color="#ea3233"/><stop offset="0.214" stop-color="#ea3233"/><stop offset="0.229" stop-color="#ea3233"/><stop offset="0.243" stop-color="#ea3334"/><stop offset="0.257" stop-color="#ea3334"/><stop offset="0.271" stop-color="#ea3334"/><stop offset="0.286" stop-color="#ea3334"/><stop offset="0.300" stop-color="#ea3435"/><stop offset="0.314" stop-color="#ea3435"/><stop offset="0.329" stop-color="#ea3435"/><stop offset="0.343" stop-color="#ea3536"/><stop offset="0.357" stop-color="#ea3536"/><stop offset="0.371" stop-color="#ea3637"/><stop offset="0.386" stop-color="#ea3738"/><stop offset="0.400" stop-color="#ea3839"/><stop offset="0.414" stop-color="#ea3a3b"/><stop offset="0.429" stop-color="#eb3b3c"/><stop offset="0.443" stop-color="#eb3e3f"/><stop offset="0.457" stop-color="#eb4142"/><stop offset="0.471" stop-color="#ec4647"/><stop offset="0.486" stop-color="#ed4e4f"/><stop offset="0.500" stop-color="#ee5b5c"/><stop offset="0.514" stop-color="#f07373"/><stop offset="0.529" stop-color="#f5a0a1"/><stop offset="0.543" stop-color="#fce1e1"/><stop offset="0.557" stop-color="#fdeded"/><stop offset="0.571" stop-color="#f8c3c4"/><stop offset="0.586" stop-color="#f4999a"/><stop offset="0.600" stop-color="#f17b7c"/><stop offset="0.614" stop-color="#ef6768"/><stop offset="0.629" stop-color="#ee5a5a"/><stop offset="0.643" stop-color="#ed5051"/><stop offset="0.657" stop-color="#ec4a4b"/><stop offset="0.671" stop-color="#ec4546"/><stop offset="0.686" stop-color="#ec4849"/><stop offset="0.700" stop-color="#ec4646"/><stop offset="0.714" stop-color="#eb4344"/><stop offset="0.729" stop-color="#eb4243"/><stop offset="0.743" stop-color="#eb4041"/><stop offset="0.757" stop-color="#eb3f40"/><stop offset="0.771" stop-color="#eb3e3f"/><stop offset="0.786" stop-color="#eb3e3f"/><stop offset="0.800" stop-color="#eb3d3e"/><stop offset="0.814" stop-color="#eb3c3d"/><stop offset="0.829" stop-color="#eb3c3d"/><stop offset="0.843" stop-color="#eb3b3c"/><stop offset="0.857" stop-color="#eb3b3c"/><stop offset="0.871" stop-color="#eb3b3c"/><stop offset="0.886" stop-color="#eb3a3b"/><stop offset="0.900" stop-color="#ea3a3b"/><stop offset="0.914" stop-color="#ea3a3b"/><stop offset="0.929" stop-color="#ea3a3b"/><stop offset="0.943" stop-color="#ea3a3b"/><stop offset="0.957" stop-color="#ea393a"/><stop offset="0.971" stop-color="#ea393a"/><stop offset="0.986" stop-color="#ea393a"/><stop offset="1.000" stop-color="#ea393a"/></linearGradient>
<linearGradient id="eg33" x1="0" y1="0" x2="0" y2="1"><stop offset="0.000" stop-color="#ea3132"/><stop offset="0.014" stop-color="#ea3132"/><stop offset="0.029" stop-color="#ea3132"/><stop offset="0.043" stop-color="#ea3132"/><stop offset="0.057" stop-color="#ea3132"/><stop offset="0.071" stop-color="#ea3233"/><stop offset="0.086" stop-color="#ea3233"/><stop offset="0.100" stop-color="#ea3233"/><stop offset="0.114" stop-color="#ea3233"/><stop offset="0.129" stop-color="#ea3233"/><stop offset="0.143" stop-color="#ea3233"/><stop offset="0.157" stop-color="#ea3233"/><stop offset="0.171" stop-color="#ea3233"/><stop offset="0.186" stop-color="#ea3233"/><stop offset="0.200" stop-color="#ea3233"/><stop offset="0.214" stop-color="#ea3334"/><stop offset="0.229" stop-color="#ea3334"/><stop offset="0.243" stop-color="#ea3334"/><stop offset="0.257" stop-color="#ea3334"/><stop offset="0.271" stop-color="#ea3435"/><stop offset="0.286" stop-color="#ea3435"/><stop offset="0.300" stop-color="#ea3536"/><stop offset="0.314" stop-color="#ea3536"/><stop offset="0.329" stop-color="#ea3637"/><stop offset="0.343" stop-color="#ea3738"/><stop offset="0.357" stop-color="#ea3838"/><stop offset="0.371" stop-color="#ea393a"/><stop offset="0.386" stop-color="#eb3a3b"/><stop offset="0.400" stop-color="#eb3c3d"/><stop offset="0.414" stop-color="#eb3f40"/><stop offset="0.429" stop-color="#eb4344"/><stop offset="0.443" stop-color="#ec494a"/><stop offset="0.457" stop-color="#ed5253"/><stop offset="0.471" stop-color="#ee6162"/><stop offset="0.486" stop-color="#f17e7e"/><stop offset="0.500" stop-color="#f7b3b3"/><stop offset="0.514" stop-color="#fdf0f1"/><stop offset="0.529" stop-color="#fdeeee"/><stop offset="0.543" stop-color="#f8c0c1"/><stop offset="0.557" stop-color="#f49797"/><stop offset="0.571" stop-color="#f17a7a"/><stop offset="0.586" stop-color="#ef6667"/><stop offset="0.600" stop-color="#ee595a"/><stop offset="0.614" stop-color="#ed5051"/><stop offset="0.629" stop-color="#ec4a4b"/><stop offset="0.643" stop-color="#ec4546"/><stop offset="0.657" stop-color="#eb4243"/><stop offset="0.671" stop-color="#eb3f40"/><stop offset="0.686" stop-color="#eb4445"/><stop offset="0.700" stop-color="#eb4243"/><stop offset="0.714" stop-color="#eb4142"/><stop offset="0.729" stop-color="#eb4041"/><stop offset="0.743" stop-color="#eb3f40"/><stop offset="0.757" stop-color="#eb3e3f"/><stop offset="0.771" stop-color="#eb3d3e"/><stop offset="0.786" stop-color="#eb3d3e"/><stop offset="0.800" stop-color="#eb3c3d"/><stop offset="0.814" stop-color="#eb3c3d"/><stop offset="0.829" stop-color="#eb3b3c"/><stop offset="0.843" stop-color="#eb3b3c"/><stop offset="0.857" stop-color="#eb3b3c"/><stop offset="0.871" stop-color="#eb3b3b"/><stop offset="0.886" stop-color="#ea3a3b"/><stop offset="0.900" stop-color="#ea3a3b"/><stop offset="0.914" stop-color="#ea3a3b"/><stop offset="0.929" stop-color="#ea3a3b"/><stop offset="0.943" stop-color="#ea3a3b"/><stop offset="0.957" stop-color="#ea393a"/><stop offset="0.971" stop-color="#ea393a"/><stop offset="0.986" stop-color="#ea393a"/><stop offset="1.000" stop-color="#ea393a"/></linearGradient>
<linearGradient id="eg34" x1="0" y1="0" x2="0" y2="1"><stop offset="0.000" stop-color="#ea3132"/><stop offset="0.014" stop-color="#ea3132"/><stop offset="0.029" stop-color="#ea3233"/><stop offset="0.043" stop-color="#ea3233"/><stop offset="0.057" stop-color="#ea3233"/><stop offset="0.071" stop-color="#ea3233"/><stop offset="0.086" stop-color="#ea3233"/><stop offset="0.100" stop-color="#ea3233"/><stop offset="0.114" stop-color="#ea3233"/><stop offset="0.129" stop-color="#ea3233"/><stop offset="0.143" stop-color="#ea3233"/><stop offset="0.157" stop-color="#ea3233"/><stop offset="0.171" stop-color="#ea3334"/><stop offset="0.186" stop-color="#ea3334"/><stop offset="0.200" stop-color="#ea3334"/><stop offset="0.214" stop-color="#ea3334"/><stop offset="0.229" stop-color="#ea3435"/><stop offset="0.243" stop-color="#ea3435"/><stop offset="0.257" stop-color="#ea3435"/><stop offset="0.271" stop-color="#ea3536"/><stop offset="0.286" stop-color="#ea3637"/><stop offset="0.300" stop-color="#ea3637"/><stop offset="0.314" stop-color="#ea3738"/><stop offset="0.329" stop-color="#ea3839"/><stop offset="0.343" stop-color="#ea3a3b"/><stop offset="0.357" stop-color="#eb3c3d"/><stop offset="0.371" stop-color="#eb3e3f"/><stop offset="0.386" stop-color="#eb4142"/><stop offset="0.400" stop-color="#ec4647"/><stop offset="0.414" stop-color="#ec4e4e"/><stop offset="0.429" stop-color="#ee595a"/><stop offset="0.443" stop-color="#f06e6e"/><stop offset="0.457" stop-color="#f49595"/><stop offset="0.471" stop-color="#fad6d6"/><stop offset="0.486" stop-color="#ffffff"/><stop offset="0.500" stop-color="#fce4e4"/><stop offset="0.514" stop-color="#f7b4b4"/><stop offset="0.529" stop-color="#f38e8e"/><stop offset="0.543" stop-color="#f07475"/><stop offset="0.557" stop-color="#ef6364"/><stop offset="0.571" stop-color="#ed5758"/><stop offset="0.586" stop-color="#ed4f50"/><stop offset="0.600" stop-color="#ec494a"/><stop offset="0.614" stop-color="#ec4546"/><stop offset="0.629" stop-color="#eb4242"/><stop offset="0.643" stop-color="#eb3f40"/><stop offset="0.657" stop-color="#eb3d3e"/><stop offset="0.671" stop-color="#eb3b3c"/><stop offset="0.686" stop-color="#eb4142"/><stop offset="0.700" stop-color="#eb4041"/><stop offset="0.714" stop-color="#eb3f40"/><stop offset="0.729" stop-color="#eb3e3f"/><stop offset="0.743" stop-color="#eb3e3e"/><stop offset="0.757" stop-color="#eb3d3e"/><stop offset="0.771" stop-color="#eb3c3d"/><stop offset="0.786" stop-color="#eb3c3d"/><stop offset="0.800" stop-color="#eb3c3d"/><stop offset="0.814" stop-color="#eb3b3c"/><stop offset="0.829" stop-color="#eb3b3c"/><stop offset="0.843" stop-color="#eb3b3c"/><stop offset="0.857" stop-color="#eb3b3c"/><stop offset="0.871" stop-color="#eb3a3b"/><stop offset="0.886" stop-color="#ea3a3b"/><stop offset="0.900" stop-color="#ea3a3b"/><stop offset="0.914" stop-color="#ea3a3b"/><stop offset="0.929" stop-color="#ea3a3b"/><stop offset="0.943" stop-color="#ea3a3b"/><stop offset="0.957" stop-color="#ea393a"/><stop offset="0.971" stop-color="#ea393a"/><stop offset="0.986" stop-color="#ea393a"/><stop offset="1.000" stop-color="#ea393a"/></linearGradient>
<linearGradient id="eg35" x1="0" y1="0" x2="0" y2="1"><stop offset="0.000" stop-color="#ea3233"/><stop offset="0.014" stop-color="#ea3233"/><stop offset="0.029" stop-color="#ea3233"/><stop offset="0.043" stop-color="#ea3233"/><stop offset="0.057" stop-color="#ea3233"/><stop offset="0.071" stop-color="#ea3233"/><stop offset="0.086" stop-color="#ea3233"/><stop offset="0.100" stop-color="#ea3233"/><stop offset="0.114" stop-color="#ea3334"/><stop offset="0.129" stop-color="#ea3334"/><stop offset="0.143" stop-color="#ea3334"/><stop offset="0.157" stop-color="#ea3334"/><stop offset="0.171" stop-color="#ea3334"/><stop offset="0.186" stop-color="#ea3435"/><stop offset="0.200" stop-color="#ea3435"/><stop offset="0.214" stop-color="#ea3435"/><stop offset="0.229" stop-color="#ea3536"/><stop offset="0.243" stop-color="#ea3637"/><stop offset="0.257" stop-color="#ea3637"/><stop offset="0.271" stop-color="#ea3738"/><stop offset="0.286" stop-color="#ea3839"/><stop offset="0.300" stop-color="#ea3a3b"/><stop offset="0.314" stop-color="#eb3b3c"/><stop offset="0.329" stop-color="#eb3e3f"/><stop offset="0.343" stop-color="#eb4142"/><stop offset="0.357" stop-color="#ec4546"/><stop offset="0.371" stop-color="#ec4c4d"/><stop offset="0.386" stop-color="#ed5657"/><stop offset="0.400" stop-color="#ef6868"/><stop offset="0.414" stop-color="#f28888"/><stop offset="0.429" stop-color="#f8c2c2"/><stop offset="0.443" stop-color="#ffffff"/><stop offset="0.457" stop-color="#fefcfc"/><stop offset="0.471" stop-color="#f9cdcd"/><stop offset="0.486" stop-color="#f5a0a0"/><stop offset="0.500" stop-color="#f28181"/><stop offset="0.514" stop-color="#f06c6c"/><stop offset="0.529" stop-color="#ee5d5e"/><stop offset="0.543" stop-color="#ed5454"/><stop offset="0.557" stop-color="#ec4d4e"/><stop offset="0.571" stop-color="#ec4848"/><stop offset="0.586" stop-color="#eb4445"/><stop offset="0.600" stop-color="#eb4142"/><stop offset="0.614" stop-color="#eb3e3f"/><stop offset="0.629" stop-color="#eb3c3d"/><stop offset="0.643" stop-color="#eb3b3c"/><stop offset="0.657" stop-color="#ea3a3b"/><stop offset="0.671" stop-color="#ea393a"/><stop offset="0.686" stop-color="#eb3f40"/><stop offset="0.700" stop-color="#eb3e3f"/><stop offset="0.714" stop-color="#eb3e3f"/><stop offset="0.729" stop-color="#eb3d3e"/><stop offset="0.743" stop-color="#eb3d3e"/><stop offset="0.757" stop-color="#eb3c3d"/><stop offset="0.771" stop-color="#eb3c3d"/><stop offset="0.786" stop-color="#eb3c3c"/><stop offset="0.800" stop-color="#eb3b3c"/><stop offset="0.814" stop-color="#eb3b3c"/><stop offset="0.829" stop-color="#eb3b3c"/><stop offset="0.843" stop-color="#eb3b3c"/><stop offset="0.857" stop-color="#eb3a3b"/><stop offset="0.871" stop-color="#ea3a3b"/><stop offset="0.886" stop-color="#ea3a3b"/><stop offset="0.900" stop-color="#ea3a3b"/><stop offset="0.914" stop-color="#ea3a3b"/><stop offset="0.929" stop-color="#ea3a3b"/><stop offset="0.943" stop-color="#ea3a3b"/><stop offset="0.957" stop-color="#ea393a"/><stop offset="0.971" stop-color="#ea393a"/><stop offset="0.986" stop-color="#ea393a"/><stop offset="1.000" stop-color="#ea393a"/></linearGradient>
<linearGradient id="eg36" x1="0" y1="0" x2="0" y2="1"><stop offset="0.000" stop-color="#ea3233"/><stop offset="0.014" stop-color="#ea3233"/><stop offset="0.029" stop-color="#ea3233"/><stop offset="0.043" stop-color="#ea3233"/><stop offset="0.057" stop-color="#ea3233"/><stop offset="0.071" stop-color="#ea3334"/><stop offset="0.086" stop-color="#ea3334"/><stop offset="0.100" stop-color="#ea3334"/><stop offset="0.114" stop-color="#ea3334"/><stop offset="0.129" stop-color="#ea3334"/><stop offset="0.143" stop-color="#ea3435"/><stop offset="0.157" stop-color="#ea3435"/><stop offset="0.171" stop-color="#ea3536"/><stop offset="0.186" stop-color="#ea3536"/><stop offset="0.200" stop-color="#ea3637"/><stop offset="0.214" stop-color="#ea3637"/><stop offset="0.229" stop-color="#ea3738"/><stop offset="0.243" stop-color="#ea3839"/><stop offset="0.257" stop-color="#ea3a3b"/><stop offset="0.271" stop-color="#eb3c3d"/><stop offset="0.286" stop-color="#eb3e3f"/><stop offset="0.300" stop-color="#eb4142"/><stop offset="0.314" stop-color="#ec4646"/><stop offset="0.329" stop-color="#ec4c4d"/><stop offset="0.343" stop-color="#ed5657"/><stop offset="0.357" stop-color="#ef6768"/><stop offset="0.371" stop-color="#f28586"/><stop offset="0.386" stop-color="#f8bdbd"/><stop offset="0.400" stop-color="#ffffff"/><stop offset="0.414" stop-color="#ffffff"/><stop offset="0.429" stop-color="#fbdada"/><stop offset="0.443" stop-color="#f6abab"/><stop offset="0.457" stop-color="#f28889"/><stop offset="0.471" stop-color="#f07172"/><stop offset="0.486" stop-color="#ee6162"/><stop offset="0.500" stop-color="#ed5757"/><stop offset="0.514" stop-color="#ed4f50"/><stop offset="0.529" stop-color="#ec494a"/><stop offset="0.543" stop-color="#ec4546"/><stop offset="0.557" stop-color="#eb4243"/><stop offset="0.571" stop-color="#eb3f40"/><stop offset="0.586" stop-color="#eb3d3e"/><stop offset="0.600" stop-color="#eb3c3d"/><stop offset="0.614" stop-color="#ea3a3b"/><stop offset="0.629" stop-color="#ea393a"/><stop offset="0.643" stop-color="#ea3839"/><stop offset="0.657" stop-color="#ea3738"/><stop offset="0.671" stop-color="#ea3738"/><stop offset="0.686" stop-color="#eb3e3f"/><stop offset="0.700" stop-color="#eb3d3e"/><stop offset="0.714" stop-color="#eb3d3e"/><stop offset="0.729" stop-color="#eb3c3d"/><stop offset="0.743" stop-color="#eb3c3d"/><stop offset="0.757" stop-color="#eb3c3d"/><stop offset="0.771" stop-color="#eb3b3c"/><stop offset="0.786" stop-color="#eb3b3c"/><stop offset="0.800" stop-color="#eb3b3c"/><stop offset="0.814" stop-color="#eb3b3c"/><stop offset="0.829" stop-color="#eb3b3c"/><stop offset="0.843" stop-color="#eb3a3b"/><stop offset="0.857" stop-color="#ea3a3b"/><stop offset="0.871" stop-color="#ea3a3b"/><stop offset="0.886" stop-color="#ea3a3b"/><stop offset="0.900" stop-color="#ea3a3b"/><stop offset="0.914" stop-color="#ea3a3b"/><stop offset="0.929" stop-color="#ea3a3b"/><stop offset="0.943" stop-color="#ea3a3b"/><stop offset="0.957" stop-color="#ea3a3a"/><stop offset="0.971" stop-color="#ea393a"/><stop offset="0.986" stop-color="#ea393a"/><stop offset="1.000" stop-color="#ea393a"/></linearGradient>
<linearGradient id="eg37" x1="0" y1="0" x2="0" y2="1"><stop offset="0.000" stop-color="#ea3233"/><stop offset="0.014" stop-color="#ea3233"/><stop offset="0.029" stop-color="#ea3334"/><stop offset="0.043" stop-color="#ea3334"/><stop offset="0.057" stop-color="#ea3334"/><stop offset="0.071" stop-color="#ea3334"/><stop offset="0.086" stop-color="#ea3435"/><stop offset="0.100" stop-color="#ea3435"/><stop offset="0.114" stop-color="#ea3435"/><stop offset="0.129" stop-color="#ea3536"/><stop offset="0.143" stop-color="#ea3536"/><stop offset="0.157" stop-color="#ea3637"/><stop offset="0.171" stop-color="#ea3738"/><stop offset="0.186" stop-color="#ea3839"/><stop offset="0.200" stop-color="#ea393a"/><stop offset="0.214" stop-color="#ea3a3b"/><stop offset="0.229" stop-color="#eb3c3d"/><stop offset="0.243" stop-color="#eb3f3f"/><stop offset="0.257" stop-color="#eb4243"/><stop offset="0.271" stop-color="#ec4747"/><stop offset="0.286" stop-color="#ec4d4e"/><stop offset="0.300" stop-color="#ee5859"/><stop offset="0.314" stop-color="#ef6a6b"/><stop offset="0.329" stop-color="#f38b8b"/><stop offset="0.343" stop-color="#f9c4c5"/><stop offset="0.357" stop-color="#ffffff"/><stop offset="0.371" stop-color="#ffffff"/><stop offset="0.386" stop-color="#fad6d7"/><stop offset="0.400" stop-color="#f6a8a9"/><stop offset="0.414" stop-color="#f28788"/><stop offset="0.429" stop-color="#f07071"/><stop offset="0.443" stop-color="#ee6162"/><stop offset="0.457" stop-color="#ed5757"/><stop offset="0.471" stop-color="#ed4f50"/><stop offset="0.486" stop-color="#ec4a4a"/><stop offset="0.500" stop-color="#ec4546"/><stop offset="0.514" stop-color="#eb4243"/><stop offset="0.529" stop-color="#eb3f40"/><stop offset="0.543" stop-color="#eb3d3e"/><stop offset="0.557" stop-color="#eb3c3d"/><stop offset="0.571" stop-color="#eb3a3b"/><stop offset="0.586" stop-color="#ea393a"/><stop offset="0.600" stop-color="#ea3839"/><stop offset="0.614" stop-color="#ea3838"/><stop offset="0.629" stop-color="#ea3738"/><stop offset="0.643" stop-color="#ea3637"/><stop offset="0.657" stop-color="#ea3637"/><stop offset="0.671" stop-color="#ea3536"/><stop offset="0.686" stop-color="#eb3d3e"/><stop offset="0.700" stop-color="#eb3c3d"/><stop offset="0.714" stop-color="#eb3c3d"/><stop offset="0.729" stop-color="#eb3c3d"/><stop offset="0.743" stop-color="#eb3b3c"/><stop offset="0.757" stop-color="#eb3b3c"/><stop offset="0.771" stop-color="#eb3b3c"/><stop offset="0.786" stop-color="#eb3b3c"/><stop offset="0.800" stop-color="#eb3b3c"/><stop offset="0.814" stop-color="#eb3b3b"/><stop offset="0.829" stop-color="#eb3a3b"/><stop offset="0.843" stop-color="#ea3a3b"/><stop offset="0.857" stop-color="#ea3a3b"/><stop offset="0.871" stop-color="#ea3a3b"/><stop offset="0.886" stop-color="#ea3a3b"/><stop offset="0.900" stop-color="#ea3a3b"/><stop offset="0.914" stop-color="#ea3a3b"/><stop offset="0.929" stop-color="#ea3a3b"/><stop offset="0.943" stop-color="#ea3a3b"/><stop offset="0.957" stop-color="#ea3a3b"/><stop offset="0.971" stop-color="#ea393a"/><stop offset="0.986" stop-color="#ea393a"/><stop offset="1.000" stop-color="#ea393a"/></linearGradient>
<linearGradient id="eg38" x1="0" y1="0" x2="0" y2="1"><stop offset="0.000" stop-color="#ea3334"/><stop offset="0.014" stop-color="#ea3334"/><stop offset="0.029" stop-color="#ea3334"/><stop offset="0.043" stop-color="#ea3435"/><stop offset="0.057" stop-color="#ea3435"/><stop offset="0.071" stop-color="#ea3435"/><stop offset="0.086" stop-color="#ea3536"/><stop offset="0.100" stop-color="#ea3637"/><stop offset="0.114" stop-color="#ea3637"/><stop offset="0.129" stop-color="#ea3738"/><stop offset="0.143" stop-color="#ea3839"/><stop offset="0.157" stop-color="#ea393a"/><stop offset="0.171" stop-color="#eb3b3c"/><stop offset="0.186" stop-color="#eb3d3e"/><stop offset="0.200" stop-color="#eb4041"/><stop offset="0.214" stop-color="#eb4445"/><stop offset="0.229" stop-color="#ec494a"/><stop offset="0.243" stop-color="#ed5152"/><stop offset="0.257" stop-color="#ee5e5f"/><stop offset="0.271" stop-color="#f07575"/><stop offset="0.286" stop-color="#f59d9e"/><stop offset="0.300" stop-color="#fbdfdf"/><stop offset="0.314" stop-color="#ffffff"/><stop offset="0.329" stop-color="#fef7f7"/><stop offset="0.343" stop-color="#f9c7c7"/><stop offset="0.357" stop-color="#f59d9d"/><stop offset="0.371" stop-color="#f27f80"/><stop offset="0.386" stop-color="#f06c6c"/><stop offset="0.400" stop-color="#ee5e5f"/><stop offset="0.414" stop-color="#ed5555"/><stop offset="0.429" stop-color="#ec4e4e"/><stop offset="0.443" stop-color="#ec4849"/><stop offset="0.457" stop-color="#ec4545"/><stop offset="0.471" stop-color="#eb4142"/><stop offset="0.486" stop-color="#eb3f40"/><stop offset="0.500" stop-color="#eb3d3e"/><stop offset="0.514" stop-color="#eb3c3c"/><stop offset="0.529" stop-color="#ea3a3b"/><stop offset="0.543" stop-color="#ea393a"/><stop offset="0.557" stop-color="#ea3839"/><stop offset="0.571" stop-color="#ea3738"/><stop offset="0.586" stop-color="#ea3738"/><stop offset="0.600" stop-color="#ea3637"/><stop offset="0.614" stop-color="#ea3637"/><stop offset="0.629" stop-color="#ea3536"/><stop offset="0.643" stop-color="#ea3536"/><stop offset="0.657" stop-color="#ea3435"/><stop offset="0.671" stop-color="#ea3435"/><stop offset="0.686" stop-color="#eb3c3d"/><stop offset="0.700" stop-color="#eb3c3d"/><stop offset="0.714" stop-color="#eb3b3c"/><stop offset="0.729" stop-color="#eb3b3c"/><stop offset="0.743" stop-color="#eb3b3c"/><stop offset="0.757" stop-color="#eb3b3c"/><stop offset="0.771" stop-color="#eb3b3c"/><stop offset="0.786" stop-color="#eb3b3c"/><stop offset="0.800" stop-color="#eb3a3b"/><stop offset="0.814" stop-color="#eb3a3b"/><stop offset="0.829" stop-color="#ea3a3b"/><stop offset="0.843" stop-color="#ea3a3b"/><stop offset="0.857" stop-color="#ea3a3b"/><stop offset="0.871" stop-color="#ea3a3b"/><stop offset="0.886" stop-color="#ea3a3b"/><stop offset="0.900" stop-color="#ea3a3b"/><stop offset="0.914" stop-color="#ea3a3b"/><stop offset="0.929" stop-color="#ea3a3b"/><stop offset="0.943" stop-color="#ea3a3b"/><stop offset="0.957" stop-color="#ea3a3b"/><stop offset="0.971" stop-color="#ea3a3b"/><stop offset="0.986" stop-color="#ea3a3a"/><stop offset="1.000" stop-color="#ea393a"/></linearGradient>
<linearGradient id="eg39" x1="0" y1="0" x2="0" y2="1"><stop offset="0.000" stop-color="#ea3435"/><stop offset="0.014" stop-color="#ea3435"/><stop offset="0.029" stop-color="#ea3536"/><stop offset="0.043" stop-color="#ea3536"/><stop offset="0.057" stop-color="#ea3637"/><stop offset="0.071" stop-color="#ea3738"/><stop offset="0.086" stop-color="#ea3839"/><stop offset="0.100" stop-color="#ea393a"/><stop offset="0.114" stop-color="#eb3b3c"/><stop offset="0.129" stop-color="#eb3d3d"/><stop offset="0.143" stop-color="#eb3f40"/><stop offset="0.157" stop-color="#eb4343"/><stop offset="0.171" stop-color="#ec4748"/><stop offset="0.186" stop-color="#ed4f4f"/><stop offset="0.200" stop-color="#ee5a5a"/><stop offset="0.214" stop-color="#f06c6d"/><stop offset="0.229" stop-color="#f38d8d"/><stop offset="0.243" stop-color="#f9c5c5"/><stop offset="0.257" stop-color="#ffffff"/><stop offset="0.271" stop-color="#ffffff"/><stop offset="0.286" stop-color="#fbdadb"/><stop offset="0.300" stop-color="#f6adad"/><stop offset="0.314" stop-color="#f38b8b"/><stop offset="0.329" stop-color="#f07474"/><stop offset="0.343" stop-color="#ef6464"/><stop offset="0.357" stop-color="#ee5959"/><stop offset="0.371" stop-color="#ed5152"/><stop offset="0.386" stop-color="#ec4b4c"/><stop offset="0.400" stop-color="#ec4647"/><stop offset="0.414" stop-color="#eb4344"/><stop offset="0.429" stop-color="#eb4041"/><stop offset="0.443" stop-color="#eb3e3f"/><stop offset="0.457" stop-color="#eb3c3d"/><stop offset="0.471" stop-color="#eb3b3c"/><stop offset="0.486" stop-color="#ea3a3b"/><stop offset="0.500" stop-color="#ea393a"/><stop offset="0.514" stop-color="#ea3839"/><stop offset="0.529" stop-color="#ea3738"/><stop offset="0.543" stop-color="#ea3737"/><stop offset="0.557" stop-color="#ea3637"/><stop offset="0.571" stop-color="#ea3536"/><stop offset="0.586" stop-color="#ea3536"/><stop offset="0.600" stop-color="#ea3536"/><stop offset="0.614" stop-color="#ea3435"/><stop offset="0.629" stop-color="#ea3435"/><stop offset="0.643" stop-color="#ea3435"/><stop offset="0.657" stop-color="#ea3435"/><stop offset="0.671" stop-color="#ea3334"/><stop offset="0.686" stop-color="#eb3b3c"/><stop offset="0.700" stop-color="#eb3b3c"/><stop offset="0.714" stop-color="#eb3b3c"/><stop offset="0.729" stop-color="#eb3b3c"/><stop offset="0.743" stop-color="#eb3b3c"/><stop offset="0.757" stop-color="#eb3b3c"/><stop offset="0.771" stop-color="#eb3b3b"/><stop offset="0.786" stop-color="#eb3a3b"/><stop offset="0.800" stop-color="#eb3a3b"/><stop offset="0.814" stop-color="#ea3a3b"/><stop offset="0.829" stop-color="#ea3a3b"/><stop offset="0.843" stop-color="#ea3a3b"/><stop offset="0.857" stop-color="#ea3a3b"/><stop offset="0.871" stop-color="#ea3a3b"/><stop offset="0.886" stop-color="#ea3a3b"/><stop offset="0.900" stop-color="#ea3a3b"/><stop offset="0.914" stop-color="#ea3a3b"/><stop offset="0.929" stop-color="#ea3a3b"/><stop offset="0.943" stop-color="#ea3a3b"/><stop offset="0.957" stop-color="#ea3a3b"/><stop offset="0.971" stop-color="#ea3a3b"/><stop offset="0.986" stop-color="#ea3a3b"/><stop offset="1.000" stop-color="#ea3a3b"/></linearGradient>
<filter id="eblur" x="-5%" y="-5%" width="110%" height="110%"><feGaussianBlur stdDeviation="1.2 0.6"/></filter>
<clipPath id="eclip"><rect x="28.8" y="156.8" width="102.1" height="173"/></clipPath>
</defs>
<g clip-path="url(#eclip)"><g filter="url(#eblur)">
<rect x="25.8" y="153.8" width="108.1" height="179" fill="#ea3132" stroke="none" stroke-width="1"/>
<rect x="28.5" y="154.1" width="3.15" height="179.14" fill="url(#eg0)" stroke="none" stroke-width="1"/>
<rect x="31.05" y="154.1" width="3.15" height="179.14" fill="url(#eg1)" stroke="none" stroke-width="1"/>
<rect x="33.61" y="154.1" width="3.15" height="179.14" fill="url(#eg2)" stroke="none" stroke-width="1"/>
<rect x="36.16" y="154.1" width="3.15" height="179.14" fill="url(#eg3)" stroke="none" stroke-width="1"/>
<rect x="38.71" y="154.1" width="3.15" height="179.14" fill="url(#eg4)" stroke="none" stroke-width="1"/>
<rect x="41.26" y="154.1" width="3.15" height="179.14" fill="url(#eg5)" stroke="none" stroke-width="1"/>
<rect x="43.82" y="154.1" width="3.15" height="179.14" fill="url(#eg6)" stroke="none" stroke-width="1"/>
<rect x="46.37" y="154.1" width="3.15" height="179.14" fill="url(#eg7)" stroke="none" stroke-width="1"/>
<rect x="48.92" y="154.1" width="3.15" height="179.14" fill="url(#eg8)" stroke="none" stroke-width="1"/>
<rect x="51.47" y="154.1" width="3.15" height="179.14" fill="url(#eg9)" stroke="none" stroke-width="1"/>
<rect x="54.03" y="154.1" width="3.15" height="179.14" fill="url(#eg10)" stroke="none" stroke-width="1"/>
<rect x="56.58" y="154.1" width="3.15" height="179.14" fill="url(#eg11)" stroke="none" stroke-width="1"/>
<rect x="59.13" y="154.1" width="3.15" height="179.14" fill="url(#eg12)" stroke="none" stroke-width="1"/>
<rect x="61.68" y="154.1" width="3.15" height="179.14" fill="url(#eg13)" stroke="none" stroke-width="1"/>
<rect x="64.23" y="154.1" width="3.15" height="179.14" fill="url(#eg14)" stroke="none" stroke-width="1"/>
<rect x="66.79" y="154.1" width="3.15" height="179.14" fill="url(#eg15)" stroke="none" stroke-width="1"/>
<rect x="69.34" y="154.1" width="3.15" height="179.14" fill="url(#eg16)" stroke="none" stroke-width="1"/>
<rect x="71.89" y="154.1" width="3.15" height="179.14" fill="url(#eg17)" stroke="none" stroke-width="1"/>
<rect x="74.45" y="154.1" width="3.15" height="179.14" fill="url(#eg18)" stroke="none" stroke-width="1"/>
<rect x="77" y="154.1" width="3.15" height="179.14" fill="url(#eg19)" stroke="none" stroke-width="1"/>
<rect x="79.55" y="154.1" width="3.15" height="179.14" fill="url(#eg20)" stroke="none" stroke-width="1"/>
<rect x="82.1" y="154.1" width="3.15" height="179.14" fill="url(#eg21)" stroke="none" stroke-width="1"/>
<rect x="84.66" y="154.1" width="3.15" height="179.14" fill="url(#eg22)" stroke="none" stroke-width="1"/>
<rect x="87.21" y="154.1" width="3.15" height="179.14" fill="url(#eg23)" stroke="none" stroke-width="1"/>
<rect x="89.76" y="154.1" width="3.15" height="179.14" fill="url(#eg24)" stroke="none" stroke-width="1"/>
<rect x="92.31" y="154.1" width="3.15" height="179.14" fill="url(#eg25)" stroke="none" stroke-width="1"/>
<rect x="94.87" y="154.1" width="3.15" height="179.14" fill="url(#eg26)" stroke="none" stroke-width="1"/>
<rect x="97.42" y="154.1" width="3.15" height="179.14" fill="url(#eg27)" stroke="none" stroke-width="1"/>
<rect x="99.97" y="154.1" width="3.15" height="179.14" fill="url(#eg28)" stroke="none" stroke-width="1"/>
<rect x="102.52" y="154.1" width="3.15" height="179.14" fill="url(#eg29)" stroke="none" stroke-width="1"/>
<rect x="105.08" y="154.1" width="3.15" height="179.14" fill="url(#eg30)" stroke="none" stroke-width="1"/>
<rect x="107.63" y="154.1" width="3.15" height="179.14" fill="url(#eg31)" stroke="none" stroke-width="1"/>
<rect x="110.18" y="154.1" width="3.15" height="179.14" fill="url(#eg32)" stroke="none" stroke-width="1"/>
<rect x="112.73" y="154.1" width="3.15" height="179.14" fill="url(#eg33)" stroke="none" stroke-width="1"/>
<rect x="115.29" y="154.1" width="3.15" height="179.14" fill="url(#eg34)" stroke="none" stroke-width="1"/>
<rect x="117.84" y="154.1" width="3.15" height="179.14" fill="url(#eg35)" stroke="none" stroke-width="1"/>
<rect x="120.39" y="154.1" width="3.15" height="179.14" fill="url(#eg36)" stroke="none" stroke-width="1"/>
<rect x="122.94" y="154.1" width="3.15" height="179.14" fill="url(#eg37)" stroke="none" stroke-width="1"/>
<rect x="125.5" y="154.1" width="3.15" height="179.14" fill="url(#eg38)" stroke="none" stroke-width="1"/>
<rect x="128.05" y="154.1" width="3.15" height="179.14" fill="url(#eg39)" stroke="none" stroke-width="1"/>
</g></g>
<line x1="28.8" y1="329.8" x2="130.9" y2="329.8" stroke="#888" stroke-width="0.6"/>
<line x1="28.8" y1="156.8" x2="130.9" y2="156.8" stroke="#555" stroke-width="0.6"/>
<path d="M28.8 291.9 L29.31 291.9 L29.82 291.9 L30.33 291.9 L30.84 291.9 L31.35 291.9 L31.86 291.9 L32.37 291.9 L32.88 291.9 L33.39 291.9 L33.91 291.9 L34.42 291.9 L34.93 291.9 L35.44 291.9 L35.95 291.9 L36.46 291.9 L36.97 291.9 L37.48 291.9 L37.99 291.9 L38.5 291.9 L39.01 291.9 L39.52 291.89 L40.03 291.89 L40.54 291.89 L41.05 291.88 L41.56 291.88 L42.07 291.88 L42.58 291.87 L43.09 291.87 L43.6 291.86 L44.12 291.85 L44.63 291.85 L45.14 291.84 L45.65 291.83 L46.16 291.82 L46.67 291.81 L47.18 291.8 L47.69 291.79 L48.2 291.77 L48.71 291.76 L49.22 291.75 L49.73 291.73 L50.24 291.71 L50.75 291.69 L51.26 291.67 L51.77 291.65 L52.28 291.63 L52.79 291.6 L53.3 291.57 L53.81 291.55 L54.33 291.51 L54.84 291.48 L55.35 291.45 L55.86 291.41 L56.37 291.37 L56.88 291.33 L57.39 291.29 L57.9 291.25 L58.41 291.2 L58.92 291.15 L59.43 291.1 L59.94 291.04 L60.45 290.98 L60.96 290.92 L61.47 290.86 L61.98 290.79 L62.49 290.72 L63 290.65 L63.51 290.57 L64.02 290.49 L64.53 290.41 L65.05 290.32 L65.56 290.23 L66.07 290.13 L66.58 290.03 L67.09 289.93 L67.6 289.82 L68.11 289.71 L68.62 289.59 L69.13 289.47 L69.64 289.35 L70.15 289.22 L70.66 289.08 L71.17 288.94 L71.68 288.8 L72.19 288.65 L72.7 288.49 L73.21 288.33 L73.72 288.16 L74.23 287.99 L74.75 287.81 L75.26 287.62 L75.77 287.43 L76.28 287.23 L76.79 287.03 L77.3 286.82 L77.81 286.6 L78.32 286.38 L78.83 286.15 L79.34 285.91 L79.85 285.66 L80.36 285.41 L80.87 285.15 L81.38 284.88 L81.89 284.6 L82.4 284.32 L82.91 284.02 L83.42 283.72 L83.93 283.41 L84.44 283.09 L84.96 282.76 L85.47 282.43 L85.98 282.08 L86.49 281.72 L87 281.36 L87.51 280.98 L88.02 280.6 L88.53 280.2 L89.04 279.8 L89.55 279.38 L90.06 278.96 L90.57 278.52 L91.08 278.07 L91.59 277.61 L92.1 277.14 L92.61 276.66 L93.12 276.17 L93.63 275.66 L94.14 275.14 L94.65 274.61 L95.17 274.07 L95.68 273.52 L96.19 272.95 L96.7 272.37 L97.21 271.77 L97.72 271.17 L98.23 270.54 L98.74 269.91 L99.25 269.26 L99.76 268.6 L100.27 267.92 L100.78 267.23 L101.29 266.52 L101.8 265.79 L102.31 265.06 L102.82 264.3 L103.33 263.53 L103.84 262.75 L104.35 261.95 L104.86 261.13 L105.38 260.29 L105.89 259.44 L106.4 258.57 L106.91 257.69 L107.42 256.79 L107.93 255.86 L108.44 254.93 L108.95 253.97 L109.46 252.99 L109.97 252 L110.48 250.98 L110.99 249.95 L111.5 248.9 L112.01 247.83 L112.52 246.74 L113.03 245.62 L113.54 244.49 L114.05 243.34 L114.56 242.17 L115.07 240.97 L115.58 239.75 L116.1 238.52 L116.61 237.26 L117.12 235.97 L117.63 234.67 L118.14 233.34 L118.65 231.99 L119.16 230.62 L119.67 229.22 L120.18 227.8 L120.69 226.36 L121.2 224.89 L121.71 223.4 L122.22 221.88 L122.73 220.33 L123.24 218.77 L123.75 217.17 L124.26 215.55 L124.77 213.9 L125.28 212.23 L125.8 210.53 L126.31 208.81 L126.82 207.05 L127.33 205.27 L127.84 203.46 L128.35 201.62 L128.86 199.76 L129.37 197.86 L129.88 195.94 L130.39 193.98 L130.9 192" stroke="#1414f0" stroke-width="1.8" fill="none" stroke-dasharray="2.9 4.2"/>
<line x1="44" y1="171.6" x2="54.5" y2="171.6" stroke="#1414f0" stroke-width="1.8" stroke-dasharray="2.9 4.2"/>
<text x="57.5" y="174.6" font-size="8.6" text-anchor="start" fill="#111">Fitting</text>
<line x1="27.3" y1="329.8" x2="28.8" y2="329.8" stroke="#777" stroke-width="0.7"/>
<line x1="27.3" y1="295.35" x2="28.8" y2="295.35" stroke="#777" stroke-width="0.7"/>
<line x1="27.3" y1="260.9" x2="28.8" y2="260.9" stroke="#777" stroke-width="0.7"/>
<line x1="27.3" y1="226.45" x2="28.8" y2="226.45" stroke="#777" stroke-width="0.7"/>
<line x1="27.3" y1="192" x2="28.8" y2="192" stroke="#777" stroke-width="0.7"/>
<line x1="27.3" y1="157.55" x2="28.8" y2="157.55" stroke="#777" stroke-width="0.7"/>
<text x="22.8" y="332.9" font-size="8.8" text-anchor="end" fill="#242424">18</text>
<text x="22.8" y="264" font-size="8.8" text-anchor="end" fill="#242424">20</text>
<text x="22.8" y="195.1" font-size="8.8" text-anchor="end" fill="#242424">22</text>
<line x1="28.8" y1="329.8" x2="28.8" y2="331" stroke="#555" stroke-width="0.7"/>
<line x1="54.33" y1="329.8" x2="54.33" y2="331" stroke="#555" stroke-width="0.7"/>
<line x1="79.85" y1="329.8" x2="79.85" y2="331" stroke="#555" stroke-width="0.7"/>
<line x1="105.38" y1="329.8" x2="105.38" y2="331" stroke="#555" stroke-width="0.7"/>
<line x1="130.9" y1="329.8" x2="130.9" y2="331" stroke="#555" stroke-width="0.7"/>
<text x="28.8" y="342.6" font-size="8.8" text-anchor="middle" fill="#242424">0</text>
<text x="79.85" y="342.6" font-size="8.8" text-anchor="middle" fill="#242424">5</text>
<text x="130.9" y="342.6" font-size="8.8" text-anchor="middle" fill="#242424">10</text>
<text x="80" y="353.6" font-size="8.8" text-anchor="middle" fill="#242424"><tspan font-style="italic">V</tspan><tspan font-size="5.8" dy="2.3">GS</tspan><tspan dy="-2.3"> (V)</tspan></text>
<text x="7.8" y="243" font-size="8.8" text-anchor="middle" fill="#242424" transform="rotate(-90 7.8 243)">Frequency (MHz)</text>
<text x="1" y="157" font-size="14.5" text-anchor="start" font-weight="bold" fill="#000">e</text>
<defs><linearGradient id="ecb" x1="0" y1="1" x2="0" y2="0"><stop offset="0" stop-color="#ea3132"/><stop offset="1" stop-color="#ffffff"/></linearGradient></defs>
<rect x="134.6" y="157.3" width="9.6" height="172.9" fill="url(#ecb)" stroke="#9a9a9a" stroke-width="0.6"/>
<line x1="144.2" y1="324.3" x2="142.7" y2="324.3" stroke="#bbb" stroke-width="0.6"/>
<text x="149.5" y="327.4" font-size="8.8" text-anchor="start" fill="#242424">0.0</text>
<line x1="144.2" y1="288.74" x2="142.7" y2="288.74" stroke="#bbb" stroke-width="0.6"/>
<text x="149.5" y="291.84" font-size="8.8" text-anchor="start" fill="#242424">0.2</text>
<line x1="144.2" y1="253.18" x2="142.7" y2="253.18" stroke="#bbb" stroke-width="0.6"/>
<text x="149.5" y="256.28" font-size="8.8" text-anchor="start" fill="#242424">0.4</text>
<line x1="144.2" y1="217.62" x2="142.7" y2="217.62" stroke="#bbb" stroke-width="0.6"/>
<text x="149.5" y="220.72" font-size="8.8" text-anchor="start" fill="#242424">0.6</text>
<line x1="144.2" y1="182.06" x2="142.7" y2="182.06" stroke="#bbb" stroke-width="0.6"/>
<text x="149.5" y="185.16" font-size="8.8" text-anchor="start" fill="#242424">0.8</text>
<text x="139" y="153.8" font-size="8.6" text-anchor="middle" fill="#242424">Amp. (mV)</text>
<defs><clipPath id="fclip"><rect x="204" y="156.5" width="100.4" height="172.8"/></clipPath></defs>
<g clip-path="url(#fclip)">
<path d="M203.8 261.86 L204.22 259.93 L204.64 262.99 L205.07 259.91 L205.49 261.58 L205.91 261.37 L206.33 257.94 L206.75 260.32 L207.18 260.41 L207.6 259.04 L208.02 258.23 L208.44 259.73 L208.87 258.58 L209.29 260.69 L209.71 259.55 L210.13 259.43 L210.55 260.53 L210.98 260.55 L211.4 260.49 L211.82 258.17 L212.24 257.83 L212.66 257.8 L213.09 256.97 L213.51 258.81 L213.93 256.67 L214.35 255.94 L214.77 254.91 L215.2 257.02 L215.62 256.08 L216.04 258.22 L216.46 255.68 L216.89 257.92 L217.31 256.48 L217.73 252.42 L218.15 257.05 L218.57 252.28 L219 252.67 L219.42 253.32 L219.84 251.85 L220.26 251.43 L220.68 250.33 L221.11 251.9 L221.53 252.11 L221.95 251.78 L222.37 252.01 L222.79 250.25 L223.22 250.99 L223.64 247.86 L224.06 251.87 L224.48 250.33 L224.91 249.73 L225.33 251.04 L225.75 244.68 L226.17 250.7 L226.59 247.11 L227.02 247.04 L227.44 243.34 L227.86 248.33 L228.28 243.31 L228.7 245.53 L229.13 244.19 L229.55 244.47 L229.97 242.01 L230.39 244.15 L230.81 242.04 L231.24 240.85 L231.66 238.07 L232.08 243.83 L232.5 237.37 L232.92 237.63 L233.35 239.13 L233.77 237.31 L234.19 237.79 L234.61 233.94 L235.04 235.37 L235.46 235.26 L235.88 234.51 L236.3 233.66 L236.72 232.79 L237.15 232.97 L237.57 227.68 L237.99 232.65 L238.41 234.18 L238.83 227.93 L239.26 226.86 L239.68 224.91 L240.1 224.53 L240.52 223.12 L240.94 220.99 L241.37 218.53 L241.79 219 L242.21 217.11 L242.63 211.72 L243.06 211.67 L243.48 211.55 L243.9 203.91 L244.32 203.14 L244.74 201.59 L245.17 198.19 L245.59 190.8 L246.01 186.12 L246.43 179.88 L246.85 181.17 L247.28 182.88 L247.7 183.88 L248.12 189.61 L248.54 194.38 L248.96 194.25 L249.39 197.94 L249.81 199.34 L250.23 201.17 L250.65 205.4 L251.08 207.38 L251.5 209.12 L251.92 212.51 L252.34 211.47 L252.76 211.98 L253.19 215.23 L253.61 217.24 L254.03 218.59 L254.45 220.62 L254.87 221.85 L255.3 222.39 L255.72 224.14 L256.14 224.58 L256.56 227.29 L256.98 225.38 L257.41 226.76 L257.83 229.45 L258.25 232.03 L258.67 229.45 L259.1 228.6 L259.52 232.12 L259.94 232.51 L260.36 233.38 L260.78 232.27 L261.21 235.31 L261.63 233.15 L262.05 235.73 L262.47 234.54 L262.89 236.5 L263.32 237.51 L263.74 239.96 L264.16 239.37 L264.58 239.3 L265 238.48 L265.43 239.64 L265.85 241.58 L266.27 240.45 L266.69 240.11 L267.12 242.42 L267.54 244.01 L267.96 246.33 L268.38 247.22 L268.8 247.36 L269.23 246.61 L269.65 241.24 L270.07 240.75 L270.49 242.82 L270.91 242.91 L271.34 245.15 L271.76 248.06 L272.18 247.28 L272.6 247.04 L273.02 249.13 L273.45 248.74 L273.87 247.95 L274.29 251.98 L274.71 249.19 L275.13 248.94 L275.56 249.64 L275.98 252.75 L276.4 250.62 L276.82 252.72 L277.25 250.92 L277.67 251.2 L278.09 252.1 L278.51 253.89 L278.93 253.95 L279.36 252.11 L279.78 255.04 L280.2 253.26 L280.62 253.54 L281.04 255.02 L281.47 251.33 L281.89 255.09 L282.31 252.28 L282.73 258.77 L283.15 259.4 L283.58 254.86 L284 255.65 L284.42 257.34 L284.84 257.23 L285.27 260.25 L285.69 258.61 L286.11 259.48 L286.53 258.53 L286.95 257.13 L287.38 258.63 L287.8 258.4 L288.22 260.24 L288.64 260.1 L289.06 259.52 L289.49 260.35 L289.91 258.28 L290.33 261.71 L290.75 257.82 L291.17 262.33 L291.6 259.52 L292.02 262.48 L292.44 259.09 L292.86 261.57 L293.29 261.4 L293.71 261.11 L294.13 263.38 L294.55 264.2 L294.97 265.89 L295.4 261.25 L295.82 264.32 L296.24 264.38 L296.66 263.74 L297.08 260.94 L297.51 266.68 L297.93 263.93 L298.35 265.1 L298.77 263.91 L299.19 267.59 L299.62 265.69 L300.04 264.03 L300.46 263.15 L300.88 263.29 L301.31 267.14 L301.73 265.97 L302.15 266.4 L302.57 268.47 L302.99 268.75 L303.42 265.65 L303.84 266.6 L304.26 267.35 L304.68 265.51" stroke="#d0e125" stroke-width="0.85" fill="none" stroke-linejoin="round"/>
<path d="M203.8 250.33 L204.22 248.71 L204.64 248.99 L205.07 248.85 L205.49 248.14 L205.91 248.22 L206.33 247.93 L206.75 247.72 L207.18 245.95 L207.6 247.82 L208.02 246.38 L208.44 246.53 L208.87 247.2 L209.29 245.91 L209.71 247.21 L210.13 245.11 L210.55 246.71 L210.98 246.17 L211.4 245.18 L211.82 244.46 L212.24 244.15 L212.66 243.92 L213.09 244.69 L213.51 245.13 L213.93 243.47 L214.35 243.44 L214.77 244.34 L215.2 242.29 L215.62 242.74 L216.04 243.54 L216.46 241.96 L216.89 243.32 L217.31 242.61 L217.73 241.14 L218.15 242.66 L218.57 240.88 L219 241.87 L219.42 239.62 L219.84 240.67 L220.26 239.5 L220.68 240.75 L221.11 239.34 L221.53 237.81 L221.95 237.93 L222.37 239.71 L222.79 236.8 L223.22 236.47 L223.64 237.29 L224.06 235.25 L224.48 237.17 L224.91 235.89 L225.33 234.38 L225.75 233.8 L226.17 233.42 L226.59 235.21 L227.02 235.42 L227.44 232.97 L227.86 234.22 L228.28 232.57 L228.7 233.17 L229.13 230.52 L229.55 230.28 L229.97 230.01 L230.39 230 L230.81 229.46 L231.24 229.24 L231.66 228.06 L232.08 227.62 L232.5 226.84 L232.92 227.07 L233.35 224.29 L233.77 225.16 L234.19 223.47 L234.61 222.85 L235.04 224.2 L235.46 224.23 L235.88 220.75 L236.3 221.49 L236.72 220.25 L237.15 219.72 L237.57 218.48 L237.99 218.79 L238.41 216.82 L238.83 216.14 L239.26 214.67 L239.68 215.71 L240.1 211.6 L240.52 210.8 L240.94 211.39 L241.37 209.05 L241.79 206.83 L242.21 204.64 L242.63 203.46 L243.06 200.26 L243.48 199.43 L243.9 198.06 L244.32 195.2 L244.74 191.03 L245.17 189.1 L245.59 184.21 L246.01 180.29 L246.43 177.55 L246.85 177.77 L247.28 180.68 L247.7 182.83 L248.12 185.86 L248.54 188.38 L248.96 191.71 L249.39 193.1 L249.81 195.78 L250.23 198.19 L250.65 198.68 L251.08 200.23 L251.5 202.7 L251.92 202.75 L252.34 204.69 L252.76 206.06 L253.19 208.98 L253.61 211.13 L254.03 210.48 L254.45 211.92 L254.87 212.68 L255.3 214.07 L255.72 214.34 L256.14 216.8 L256.56 216.89 L256.98 219.28 L257.41 221.5 L257.83 220.65 L258.25 219.69 L258.67 223.46 L259.1 221.75 L259.52 224.1 L259.94 224.59 L260.36 224.9 L260.78 225.45 L261.21 227.24 L261.63 226.88 L262.05 227.24 L262.47 227.51 L262.89 229.61 L263.32 228.07 L263.74 228.33 L264.16 228.43 L264.58 232.48 L265 231.63 L265.43 234.05 L265.85 232.5 L266.27 232.86 L266.69 234.96 L267.12 235.98 L267.54 235.48 L267.96 237.45 L268.38 241.46 L268.8 240.69 L269.23 239.85 L269.65 234.73 L270.07 232.17 L270.49 233.83 L270.91 235.56 L271.34 239.71 L271.76 241.34 L272.18 239.24 L272.6 240.6 L273.02 240.17 L273.45 240.15 L273.87 240.64 L274.29 240.23 L274.71 240.67 L275.13 243.83 L275.56 242.7 L275.98 241.13 L276.4 243.71 L276.82 242.78 L277.25 244.06 L277.67 244.73 L278.09 243.2 L278.51 244.02 L278.93 245.53 L279.36 244.78 L279.78 247.15 L280.2 246.91 L280.62 245.7 L281.04 246.8 L281.47 248.11 L281.89 247 L282.31 247.4 L282.73 246.8 L283.15 247.38 L283.58 248.81 L284 249.28 L284.42 249.23 L284.84 249.58 L285.27 248.28 L285.69 248.42 L286.11 248.9 L286.53 250.06 L286.95 250.9 L287.38 250.08 L287.8 251.5 L288.22 251.2 L288.64 253.21 L289.06 252.3 L289.49 250.81 L289.91 253.34 L290.33 254 L290.75 253 L291.17 251.54 L291.6 251.97 L292.02 253.87 L292.44 254.21 L292.86 254.09 L293.29 255.07 L293.71 254.39 L294.13 254.92 L294.55 256.23 L294.97 255.61 L295.4 255.52 L295.82 256.29 L296.24 256.74 L296.66 255.06 L297.08 254.35 L297.51 256.58 L297.93 256.91 L298.35 256.24 L298.77 257.12 L299.19 257.83 L299.62 256.01 L300.04 258.46 L300.46 258.36 L300.88 258.49 L301.31 258.88 L301.73 258.47 L302.15 257.9 L302.57 257.28 L302.99 258.19 L303.42 258.95 L303.84 260.32 L304.26 259.4 L304.68 260.39" stroke="#a2d937" stroke-width="0.85" fill="none" stroke-linejoin="round"/>
<path d="M203.8 241.04 L204.22 240.41 L204.64 240.52 L205.07 240.48 L205.49 240.5 L205.91 240 L206.33 239.74 L206.75 239.94 L207.18 239.56 L207.6 238.79 L208.02 239.59 L208.44 238.89 L208.87 238.95 L209.29 237.65 L209.71 237.8 L210.13 237.6 L210.55 237.42 L210.98 237.23 L211.4 236.99 L211.82 237.5 L212.24 236.52 L212.66 236.14 L213.09 236.7 L213.51 235.55 L213.93 235.35 L214.35 235.97 L214.77 235.29 L215.2 234.96 L215.62 234.78 L216.04 234.14 L216.46 234.53 L216.89 233.83 L217.31 233.37 L217.73 232.88 L218.15 232.86 L218.57 232.68 L219 232 L219.42 232.77 L219.84 231.29 L220.26 231.47 L220.68 231.53 L221.11 230.88 L221.53 231.11 L221.95 230.86 L222.37 229.83 L222.79 229.67 L223.22 228.71 L223.64 229 L224.06 228.8 L224.48 228.29 L224.91 226.85 L225.33 227.14 L225.75 227 L226.17 226.75 L226.59 226.38 L227.02 225.59 L227.44 224.93 L227.86 224.21 L228.28 223.77 L228.7 223.66 L229.13 223.57 L229.55 223.17 L229.97 223.26 L230.39 222.25 L230.81 221.17 L231.24 220.95 L231.66 220.13 L232.08 220.26 L232.5 218.8 L232.92 218.46 L233.35 217.96 L233.77 217.2 L234.19 217.61 L234.61 216.29 L235.04 215.75 L235.46 213.97 L235.88 214.04 L236.3 213.42 L236.72 212.1 L237.15 212.05 L237.57 210.22 L237.99 210.19 L238.41 209.03 L238.83 208.41 L239.26 206.73 L239.68 206.87 L240.1 204.63 L240.52 204.07 L240.94 202.5 L241.37 201.68 L241.79 199.76 L242.21 198.31 L242.63 196.59 L243.06 195.02 L243.48 193.1 L243.9 191.03 L244.32 189.5 L244.74 187.58 L245.17 185.24 L245.59 182 L246.01 180.02 L246.43 177.62 L246.85 178.35 L247.28 179.78 L247.7 180.39 L248.12 181.56 L248.54 184.1 L248.96 186.14 L249.39 187.83 L249.81 188.85 L250.23 191.09 L250.65 192.62 L251.08 193.73 L251.5 195.48 L251.92 196.85 L252.34 198.48 L252.76 199.82 L253.19 200.75 L253.61 201.96 L254.03 202.94 L254.45 204.48 L254.87 205.21 L255.3 206.19 L255.72 207.34 L256.14 208.1 L256.56 208.85 L256.98 210.06 L257.41 210.97 L257.83 212.23 L258.25 212.52 L258.67 213.48 L259.1 214.33 L259.52 215.28 L259.94 215.44 L260.36 215.35 L260.78 216.88 L261.21 217.69 L261.63 218.2 L262.05 219.24 L262.47 219.58 L262.89 220.5 L263.32 221.12 L263.74 221.43 L264.16 222.13 L264.58 223.02 L265 224.09 L265.43 224.54 L265.85 226.01 L266.27 226.28 L266.69 227.82 L267.12 228.85 L267.54 229.81 L267.96 231.26 L268.38 233.46 L268.8 234.6 L269.23 236.03 L269.65 238.39 L270.07 229.7 L270.49 229.2 L270.91 229.6 L271.34 229.82 L271.76 230.36 L272.18 230.73 L272.6 231.08 L273.02 231.01 L273.45 231.74 L273.87 232.09 L274.29 232.83 L274.71 232.59 L275.13 233.46 L275.56 233.45 L275.98 234.92 L276.4 234.33 L276.82 234.8 L277.25 235.28 L277.67 234.91 L278.09 235.58 L278.51 236.12 L278.93 236.59 L279.36 235.94 L279.78 236.7 L280.2 237.04 L280.62 237.9 L281.04 237.38 L281.47 237.97 L281.89 238.58 L282.31 238.8 L282.73 239.69 L283.15 239.07 L283.58 240.03 L284 239.54 L284.42 240.32 L284.84 240.66 L285.27 240.53 L285.69 240.85 L286.11 241.64 L286.53 241.48 L286.95 241.46 L287.38 242.06 L287.8 242.74 L288.22 242.55 L288.64 243.08 L289.06 243.17 L289.49 243.16 L289.91 243.43 L290.33 243.73 L290.75 244.53 L291.17 243.97 L291.6 244.41 L292.02 244.72 L292.44 244.72 L292.86 244.24 L293.29 245.74 L293.71 246.08 L294.13 245.36 L294.55 246.19 L294.97 245.57 L295.4 246.69 L295.82 246.7 L296.24 246.38 L296.66 246.56 L297.08 246.94 L297.51 247.14 L297.93 247.57 L298.35 247.89 L298.77 248 L299.19 247.61 L299.62 248.03 L300.04 248.49 L300.46 248.56 L300.88 248.55 L301.31 248.6 L301.73 249.31 L302.15 249.47 L302.57 249.49 L302.99 248.77 L303.42 249.89 L303.84 249.66 L304.26 250.95 L304.68 250.18" stroke="#6fcd57" stroke-width="0.85" fill="none" stroke-linejoin="round"/>
<path d="M203.8 239.18 L204.22 238.92 L204.64 238.63 L205.07 238.33 L205.49 238.06 L205.91 237.82 L206.33 237.64 L206.75 237.56 L207.18 236.75 L207.6 236.97 L208.02 236.7 L208.44 236.21 L208.87 236.2 L209.29 236.06 L209.71 235.88 L210.13 235.35 L210.55 235.7 L210.98 235.44 L211.4 234.98 L211.82 235.18 L212.24 234.69 L212.66 234.06 L213.09 234.13 L213.51 233.75 L213.93 233.4 L214.35 233.51 L214.77 232.96 L215.2 232.87 L215.62 232.7 L216.04 232.27 L216.46 231.95 L216.89 231.74 L217.31 231.5 L217.73 230.9 L218.15 230.57 L218.57 230.39 L219 230.22 L219.42 230.11 L219.84 229.75 L220.26 229.5 L220.68 228.92 L221.11 228.46 L221.53 228.13 L221.95 227.98 L222.37 227.71 L222.79 227.26 L223.22 226.92 L223.64 226.47 L224.06 225.93 L224.48 225.99 L224.91 225.06 L225.33 225.51 L225.75 225.05 L226.17 224.6 L226.59 224.1 L227.02 223.53 L227.44 222.65 L227.86 222.77 L228.28 221.97 L228.7 221.81 L229.13 221.24 L229.55 221 L229.97 219.87 L230.39 219.83 L230.81 219.44 L231.24 218.35 L231.66 218.23 L232.08 217.64 L232.5 217.19 L232.92 216.75 L233.35 216.27 L233.77 215.41 L234.19 214.43 L234.61 214.02 L235.04 213.47 L235.46 212.53 L235.88 212.21 L236.3 211.01 L236.72 210.52 L237.15 209.89 L237.57 208.76 L237.99 207.93 L238.41 207.2 L238.83 206.16 L239.26 205.03 L239.68 203.92 L240.1 203.29 L240.52 202.51 L240.94 200.4 L241.37 199.6 L241.79 198.3 L242.21 196.72 L242.63 195.38 L243.06 193.49 L243.48 192.24 L243.9 190.21 L244.32 188.46 L244.74 185.85 L245.17 184.02 L245.59 181.53 L246.01 179.35 L246.43 178.26 L246.85 176.41 L247.28 175.63 L247.7 175.34 L248.12 175.03 L248.54 174.53 L248.96 174.25 L249.39 174.31 L249.81 174 L250.23 173.64 L250.65 173.53 L251.08 173.36 L251.5 173.44 L251.92 194.9 L252.34 196.59 L252.76 197.75 L253.19 199.01 L253.61 200.15 L254.03 201.26 L254.45 202.53 L254.87 203.33 L255.3 204.17 L255.72 205.3 L256.14 206.17 L256.56 207.12 L256.98 208.09 L257.41 208.58 L257.83 209.9 L258.25 210.49 L258.67 211.13 L259.1 212.03 L259.52 213.03 L259.94 213.75 L260.36 213.92 L260.78 215.09 L261.21 215.56 L261.63 216.1 L262.05 216.81 L262.47 217.79 L262.89 218.42 L263.32 218.65 L263.74 219.38 L264.16 219.91 L264.58 220.5 L265 221.2 L265.43 222.26 L265.85 223.16 L266.27 223.53 L266.69 224.81 L267.12 225.97 L267.54 227.26 L267.96 227.98 L268.38 229.65 L268.8 231.02 L269.23 232.2 L269.65 233.89 L270.07 235.57 L270.49 227.17 L270.91 227.9 L271.34 227.94 L271.76 228.2 L272.18 228.67 L272.6 228.75 L273.02 229.23 L273.45 229.88 L273.87 229.94 L274.29 230.44 L274.71 230.87 L275.13 230.9 L275.56 231.81 L275.98 231.62 L276.4 231.94 L276.82 232.9 L277.25 232.86 L277.67 233.18 L278.09 233.7 L278.51 233.9 L278.93 234.27 L279.36 234.4 L279.78 234.83 L280.2 235.45 L280.62 235.09 L281.04 235.44 L281.47 236.07 L281.89 236.02 L282.31 236.08 L282.73 237.07 L283.15 237.12 L283.58 237.42 L284 237.48 L284.42 237.92 L284.84 238.41 L285.27 238.14 L285.69 238.72 L286.11 238.77 L286.53 238.71 L286.95 239.57 L287.38 239.75 L287.8 239.74 L288.22 240.18 L288.64 240.3 L289.06 240.65 L289.49 240.33 L289.91 241 L290.33 241.29 L290.75 241.56 L291.17 241.74 L291.6 242.37 L292.02 242.32 L292.44 242.34 L292.86 242.95 L293.29 242.92 L293.71 243.17 L294.13 243.47 L294.55 243.08 L294.97 243.65 L295.4 243.94 L295.82 244.37 L296.24 244.4 L296.66 244.68 L297.08 244.84 L297.51 244.98 L297.93 244.73 L298.35 245.16 L298.77 245.28 L299.19 245.54 L299.62 245.45 L300.04 246.33 L300.46 246.65 L300.88 246.54 L301.31 246.72 L301.73 246.95 L302.15 247.26 L302.57 247.19 L302.99 247.16 L303.42 247.64 L303.84 247.91 L304.26 247.8 L304.68 248.28" stroke="#4ec269" stroke-width="0.85" fill="none" stroke-linejoin="round"/>
<path d="M203.8 237.47 L204.22 237.14 L204.64 237.46 L205.07 236.43 L205.49 236.62 L205.91 236.29 L206.33 236.12 L206.75 235.9 L207.18 236.03 L207.6 235.2 L208.02 235.22 L208.44 235.06 L208.87 234.27 L209.29 234.93 L209.71 234.3 L210.13 234.24 L210.55 234.29 L210.98 233.37 L211.4 233.83 L211.82 233.25 L212.24 233.06 L212.66 232.76 L213.09 232.73 L213.51 232.02 L213.93 231.99 L214.35 232.04 L214.77 231.77 L215.2 231.21 L215.62 231.23 L216.04 230.64 L216.46 230.38 L216.89 230.29 L217.31 230.27 L217.73 229.86 L218.15 229.24 L218.57 229.12 L219 228.35 L219.42 228.51 L219.84 228.04 L220.26 227.66 L220.68 227.46 L221.11 227.1 L221.53 226.63 L221.95 226.53 L222.37 226.1 L222.79 225.89 L223.22 225.07 L223.64 225.08 L224.06 224.59 L224.48 224.98 L224.91 224.11 L225.33 223.85 L225.75 223.23 L226.17 222.93 L226.59 222.65 L227.02 222.08 L227.44 221.44 L227.86 220.96 L228.28 220.84 L228.7 220.08 L229.13 219.95 L229.55 219.24 L229.97 219.05 L230.39 218.18 L230.81 217.42 L231.24 217.43 L231.66 216.6 L232.08 216.59 L232.5 215.87 L232.92 214.64 L233.35 214.59 L233.77 213.87 L234.19 213.67 L234.61 212.71 L235.04 212.2 L235.46 211.12 L235.88 210.76 L236.3 209.41 L236.72 209.38 L237.15 208.31 L237.57 207.95 L237.99 206.79 L238.41 205.58 L238.83 204.92 L239.26 204.2 L239.68 202.83 L240.1 201.69 L240.52 200.68 L240.94 199.4 L241.37 198.66 L241.79 196.71 L242.21 195.56 L242.63 194.67 L243.06 192.33 L243.48 191.15 L243.9 189.21 L244.32 187.85 L244.74 185.63 L245.17 183.83 L245.59 181.24 L246.01 179.51 L246.43 178.2 L246.85 176.44 L247.28 175.55 L247.7 175.5 L248.12 174.88 L248.54 174.93 L248.96 174.76 L249.39 174.29 L249.81 174.03 L250.23 173.73 L250.65 173.39 L251.08 173.47 L251.5 173.29 L251.92 172.9 L252.34 172.81 L252.76 172.76 L253.19 172.56 L253.61 172.9 L254.03 172.44 L254.45 172.52 L254.87 200.77 L255.3 201.48 L255.72 202.93 L256.14 203.31 L256.56 204.48 L256.98 205.26 L257.41 206.13 L257.83 206.7 L258.25 207.75 L258.67 208.79 L259.1 209.04 L259.52 209.85 L259.94 210.39 L260.36 211.08 L260.78 212.1 L261.21 212.47 L261.63 213.11 L262.05 213.77 L262.47 214.33 L262.89 214.88 L263.32 215.63 L263.74 216.11 L264.16 216.45 L264.58 217.45 L265 217.89 L265.43 218.75 L265.85 219.48 L266.27 220.14 L266.69 220.87 L267.12 221.53 L267.54 222.88 L267.96 223.74 L268.38 224.99 L268.8 226.35 L269.23 228.34 L269.65 229.17 L270.07 230.76 L270.49 232.66 L270.91 234.22 L271.34 224.24 L271.76 225.16 L272.18 225.42 L272.6 225.52 L273.02 226.44 L273.45 226.66 L273.87 226.76 L274.29 226.99 L274.71 227.3 L275.13 227.74 L275.56 227.78 L275.98 228.5 L276.4 229.17 L276.82 229.29 L277.25 229.45 L277.67 229.83 L278.09 230.61 L278.51 230.46 L278.93 231.01 L279.36 231.2 L279.78 231.17 L280.2 231.8 L280.62 232.2 L281.04 232.38 L281.47 232.78 L281.89 232.53 L282.31 233.05 L282.73 233.32 L283.15 233.91 L283.58 234.18 L284 234.27 L284.42 235.02 L284.84 234.65 L285.27 235.37 L285.69 235.36 L286.11 235.57 L286.53 236.05 L286.95 236.07 L287.38 236.25 L287.8 236.26 L288.22 236.81 L288.64 236.77 L289.06 237.27 L289.49 237.64 L289.91 237.67 L290.33 238.18 L290.75 238.27 L291.17 238.41 L291.6 238.53 L292.02 238.93 L292.44 239.5 L292.86 239.17 L293.29 239.61 L293.71 239.92 L294.13 240.24 L294.55 240.18 L294.97 240.44 L295.4 240.58 L295.82 240.94 L296.24 240.82 L296.66 241.38 L297.08 241.45 L297.51 241.69 L297.93 241.72 L298.35 242.27 L298.77 242.39 L299.19 242.56 L299.62 242.85 L300.04 243.04 L300.46 243.33 L300.88 243.13 L301.31 243.17 L301.73 243.85 L302.15 243.69 L302.57 244.25 L302.99 244.37 L303.42 244.45 L303.84 244.54 L304.26 244.65 L304.68 245.3" stroke="#39b875" stroke-width="0.85" fill="none" stroke-linejoin="round"/>
<path d="M203.8 235.96 L204.22 235.49 L204.64 235.35 L205.07 234.68 L205.49 234.96 L205.91 234.83 L206.33 234.25 L206.75 234.81 L207.18 234.44 L207.6 233.32 L208.02 233.77 L208.44 233.41 L208.87 233.24 L209.29 233.16 L209.71 232.78 L210.13 232.79 L210.55 232.11 L210.98 231.91 L211.4 231.7 L211.82 231.77 L212.24 231.74 L212.66 231.2 L213.09 231.08 L213.51 230.53 L213.93 230.68 L214.35 230.28 L214.77 229.82 L215.2 229.49 L215.62 229.29 L216.04 229.29 L216.46 228.91 L216.89 228.09 L217.31 228.03 L217.73 228.09 L218.15 227.26 L218.57 227.37 L219 227.05 L219.42 226.91 L219.84 226.14 L220.26 226.11 L220.68 225.83 L221.11 225.68 L221.53 225.42 L221.95 224.8 L222.37 224.5 L222.79 223.85 L223.22 223.99 L223.64 223.53 L224.06 222.9 L224.48 222.57 L224.91 222.49 L225.33 221.69 L225.75 221.5 L226.17 221.02 L226.59 220.73 L227.02 220.19 L227.44 220.05 L227.86 219.58 L228.28 218.89 L228.7 218.58 L229.13 218.13 L229.55 217.51 L229.97 217.21 L230.39 216.69 L230.81 216.71 L231.24 215.87 L231.66 215.07 L232.08 214.87 L232.5 214.2 L232.92 213.53 L233.35 213.02 L233.77 212.23 L234.19 211.69 L234.61 211.18 L235.04 210.27 L235.46 209.88 L235.88 209.25 L236.3 208.33 L236.72 207.52 L237.15 206.89 L237.57 206.28 L237.99 205.33 L238.41 204.31 L238.83 203.32 L239.26 202.16 L239.68 201.55 L240.1 200.54 L240.52 199.84 L240.94 198.02 L241.37 196.9 L241.79 195.83 L242.21 194.64 L242.63 193.62 L243.06 191.48 L243.48 190.21 L243.9 188.1 L244.32 186.5 L244.74 184.57 L245.17 182.97 L245.59 180.82 L246.01 179.58 L246.43 177.72 L246.85 176.38 L247.28 176.01 L247.7 175.43 L248.12 175.19 L248.54 174.65 L248.96 174.58 L249.39 174.45 L249.81 174.04 L250.23 173.81 L250.65 173.53 L251.08 173.26 L251.5 172.97 L251.92 172.98 L252.34 172.58 L252.76 173.24 L253.19 172.62 L253.61 172.28 L254.03 172.59 L254.45 172.24 L254.87 172.03 L255.3 172.26 L255.72 171.95 L256.14 171.6 L256.56 171.67 L256.98 171.19 L257.41 170.92 L257.83 204.87 L258.25 205.84 L258.67 206.36 L259.1 207.18 L259.52 208.06 L259.94 208.54 L260.36 209.22 L260.78 209.85 L261.21 210.23 L261.63 210.82 L262.05 211.56 L262.47 212.3 L262.89 212.73 L263.32 213.37 L263.74 213.89 L264.16 214.67 L264.58 215.63 L265 215.41 L265.43 216.3 L265.85 216.92 L266.27 217.51 L266.69 218.27 L267.12 219.13 L267.54 219.65 L267.96 220.89 L268.38 221.91 L268.8 223.26 L269.23 224.33 L269.65 225.53 L270.07 227.06 L270.49 228.5 L270.91 230.39 L271.34 231.88 L271.76 222.9 L272.18 223.17 L272.6 223.62 L273.02 223.81 L273.45 224 L273.87 224.52 L274.29 225.11 L274.71 225.27 L275.13 225.44 L275.56 225.85 L275.98 226.23 L276.4 226.89 L276.82 227.11 L277.25 227.46 L277.67 227.74 L278.09 227.92 L278.51 228.27 L278.93 228.66 L279.36 228.79 L279.78 229.34 L280.2 229.57 L280.62 229.78 L281.04 230.36 L281.47 230.55 L281.89 230.94 L282.31 231.16 L282.73 231.26 L283.15 231.53 L283.58 231.71 L284 231.98 L284.42 232.54 L284.84 232.21 L285.27 232.58 L285.69 233.34 L286.11 233.5 L286.53 233.71 L286.95 233.82 L287.38 233.99 L287.8 234.36 L288.22 235.11 L288.64 234.28 L289.06 234.91 L289.49 235.16 L289.91 235.7 L290.33 235.77 L290.75 235.83 L291.17 236.34 L291.6 236.25 L292.02 236.68 L292.44 236.61 L292.86 237.13 L293.29 237.06 L293.71 237.89 L294.13 237.5 L294.55 237.91 L294.97 238.29 L295.4 238.21 L295.82 238.68 L296.24 238.67 L296.66 238.85 L297.08 239.03 L297.51 239 L297.93 239.37 L298.35 239.34 L298.77 239.89 L299.19 240.19 L299.62 240.34 L300.04 240.62 L300.46 241.04 L300.88 240.96 L301.31 241.41 L301.73 241.42 L302.15 241.6 L302.57 241.84 L302.99 242.12 L303.42 242.07 L303.84 242.27 L304.26 242.17 L304.68 242.5" stroke="#28ac80" stroke-width="0.85" fill="none" stroke-linejoin="round"/>
<path d="M203.8 233.81 L204.22 233.9 L204.64 233.67 L205.07 233.65 L205.49 233.38 L205.91 232.86 L206.33 232.83 L206.75 232.61 L207.18 232.49 L207.6 231.86 L208.02 231.96 L208.44 231.5 L208.87 231.52 L209.29 231.1 L209.71 231.26 L210.13 231.1 L210.55 230.39 L210.98 230.44 L211.4 230.09 L211.82 229.73 L212.24 229.52 L212.66 229.37 L213.09 229.41 L213.51 229.06 L213.93 228.66 L214.35 228.29 L214.77 228.06 L215.2 227.82 L215.62 227.78 L216.04 227.36 L216.46 226.9 L216.89 226.98 L217.31 226.65 L217.73 226.07 L218.15 225.65 L218.57 225.59 L219 225.37 L219.42 225.26 L219.84 224.79 L220.26 224.62 L220.68 224.12 L221.11 223.69 L221.53 223.41 L221.95 222.92 L222.37 223.04 L222.79 222.75 L223.22 221.88 L223.64 221.6 L224.06 221.64 L224.48 221.05 L224.91 220.92 L225.33 220.33 L225.75 219.88 L226.17 219.36 L226.59 219.35 L227.02 219 L227.44 218.22 L227.86 217.97 L228.28 217.2 L228.7 217.26 L229.13 216.71 L229.55 216.66 L229.97 215.42 L230.39 214.9 L230.81 214.58 L231.24 214.22 L231.66 214.04 L232.08 213.38 L232.5 212.67 L232.92 211.62 L233.35 211.25 L233.77 210.95 L234.19 210.14 L234.61 209.48 L235.04 208.84 L235.46 208.46 L235.88 207.67 L236.3 206.68 L236.72 206 L237.15 205.44 L237.57 204.1 L237.99 203.71 L238.41 203 L238.83 201.85 L239.26 200.95 L239.68 200.17 L240.1 198.78 L240.52 197.87 L240.94 196.98 L241.37 195.69 L241.79 194.48 L242.21 193.4 L242.63 191.85 L243.06 190.69 L243.48 189.14 L243.9 187.4 L244.32 186.14 L244.74 184.26 L245.17 182.65 L245.59 180.6 L246.01 179.27 L246.43 177.64 L246.85 176.07 L247.28 175.91 L247.7 175.31 L248.12 175.07 L248.54 174.7 L248.96 174.3 L249.39 173.9 L249.81 173.54 L250.23 173.4 L250.65 173.82 L251.08 173.49 L251.5 173.26 L251.92 173.12 L252.34 172.87 L252.76 172.62 L253.19 172.69 L253.61 172.58 L254.03 171.87 L254.45 172.06 L254.87 171.65 L255.3 172.06 L255.72 171.56 L256.14 171.38 L256.56 171.34 L256.98 171.64 L257.41 171.28 L257.83 171.43 L258.25 171.4 L258.67 171.08 L259.1 170.87 L259.52 170.92 L259.94 170.8 L260.36 170.56 L260.78 170.73 L261.21 170.42 L261.63 170.26 L262.05 170.2 L262.47 170.13 L262.89 170.36 L263.32 170.13 L263.74 170.08 L264.16 212.3 L264.58 213.31 L265 213.46 L265.43 214.33 L265.85 214.45 L266.27 215.29 L266.69 215.83 L267.12 216.37 L267.54 216.99 L267.96 218.37 L268.38 219.07 L268.8 220.47 L269.23 221.22 L269.65 222.49 L270.07 223.49 L270.49 225.02 L270.91 226.46 L271.34 228.28 L271.76 229.82 L272.18 221.18 L272.6 221.34 L273.02 222.03 L273.45 222.03 L273.87 222.23 L274.29 222.29 L274.71 222.86 L275.13 223.24 L275.56 223.69 L275.98 223.87 L276.4 224.53 L276.82 224.77 L277.25 225.54 L277.67 225.59 L278.09 225.58 L278.51 226.46 L278.93 226.37 L279.36 226.75 L279.78 227.11 L280.2 227.28 L280.62 227.63 L281.04 228.15 L281.47 228.23 L281.89 228.86 L282.31 228.48 L282.73 229.06 L283.15 229.16 L283.58 229.79 L284 229.51 L284.42 229.94 L284.84 230.34 L285.27 230.62 L285.69 230.85 L286.11 231.32 L286.53 231.46 L286.95 231.73 L287.38 231.86 L287.8 231.87 L288.22 232.19 L288.64 232.61 L289.06 232.77 L289.49 233.19 L289.91 233.46 L290.33 233.92 L290.75 234.08 L291.17 234.29 L291.6 234.3 L292.02 234.54 L292.44 234.64 L292.86 234.72 L293.29 235.03 L293.71 235.41 L294.13 235.69 L294.55 235.86 L294.97 235.9 L295.4 236.41 L295.82 236.73 L296.24 236.68 L296.66 236.63 L297.08 236.8 L297.51 237.12 L297.93 237.82 L298.35 237.67 L298.77 237.69 L299.19 237.81 L299.62 237.85 L300.04 238.6 L300.46 238.53 L300.88 239.1 L301.31 239.02 L301.73 239.24 L302.15 239.18 L302.57 239.49 L302.99 240.05 L303.42 239.91 L303.84 239.99 L304.26 239.95 L304.68 240.56" stroke="#21a186" stroke-width="0.85" fill="none" stroke-linejoin="round"/>
<path d="M203.8 232.77 L204.22 232.52 L204.64 232 L205.07 232.06 L205.49 231.79 L205.91 231.51 L206.33 231.56 L206.75 230.97 L207.18 231.3 L207.6 230.4 L208.02 230.68 L208.44 230.51 L208.87 230.26 L209.29 230.12 L209.71 229.84 L210.13 229.6 L210.55 229.44 L210.98 229.02 L211.4 228.69 L211.82 228.63 L212.24 228.24 L212.66 228.19 L213.09 227.74 L213.51 227.6 L213.93 227.5 L214.35 227.01 L214.77 226.81 L215.2 226.64 L215.62 226.26 L216.04 225.87 L216.46 225.95 L216.89 225.53 L217.31 225.03 L217.73 224.87 L218.15 224.43 L218.57 223.82 L219 224.25 L219.42 223.63 L219.84 223.47 L220.26 222.81 L220.68 222.66 L221.11 222.73 L221.53 221.92 L221.95 221.81 L222.37 221.53 L222.79 221.13 L223.22 220.75 L223.64 220.61 L224.06 220.16 L224.48 219.45 L224.91 219.55 L225.33 219.1 L225.75 218.44 L226.17 218.39 L226.59 217.85 L227.02 217.34 L227.44 217.17 L227.86 216.63 L228.28 216.32 L228.7 215.74 L229.13 215.2 L229.55 214.79 L229.97 214.28 L230.39 213.77 L230.81 213.2 L231.24 213.06 L231.66 212.31 L232.08 211.49 L232.5 211.31 L232.92 210.76 L233.35 210.14 L233.77 209.7 L234.19 208.84 L234.61 208.33 L235.04 207.72 L235.46 206.88 L235.88 206.11 L236.3 205.93 L236.72 205.02 L237.15 204.22 L237.57 203.67 L237.99 202.45 L238.41 201.33 L238.83 200.72 L239.26 199.72 L239.68 199.42 L240.1 198.14 L240.52 197.28 L240.94 195.8 L241.37 194.85 L241.79 193.69 L242.21 192.32 L242.63 190.97 L243.06 189.44 L243.48 188.07 L243.9 186.67 L244.32 185.63 L244.74 183.46 L245.17 182.07 L245.59 180.8 L246.01 179.01 L246.43 178.05 L246.85 176.39 L247.28 175.59 L247.7 175.61 L248.12 174.87 L248.54 174.46 L248.96 174.66 L249.39 173.92 L249.81 174.1 L250.23 173.91 L250.65 173.39 L251.08 173.4 L251.5 173.59 L251.92 173.18 L252.34 172.76 L252.76 172.86 L253.19 172.7 L253.61 172.47 L254.03 172.33 L254.45 172.34 L254.87 172.26 L255.3 171.87 L255.72 171.59 L256.14 172.22 L256.56 171.52 L256.98 171.3 L257.41 171.56 L257.83 171 L258.25 171.48 L258.67 170.89 L259.1 170.66 L259.52 170.57 L259.94 171.31 L260.36 170.68 L260.78 170.8 L261.21 170.43 L261.63 170.14 L262.05 170.25 L262.47 169.92 L262.89 170.49 L263.32 170.24 L263.74 170.1 L264.16 169.78 L264.58 169.59 L265 169.92 L265.43 169.86 L265.85 169.42 L266.27 169.78 L266.69 169.33 L267.12 214.26 L267.54 214.79 L267.96 215.09 L268.38 216.36 L268.8 217.18 L269.23 218.31 L269.65 219.08 L270.07 220.02 L270.49 221.42 L270.91 223.13 L271.34 224.23 L271.76 225.53 L272.18 227.68 L272.6 229.28 L273.02 219.69 L273.45 219.98 L273.87 220.43 L274.29 220.85 L274.71 220.84 L275.13 221.29 L275.56 222.05 L275.98 222.16 L276.4 222.43 L276.82 222.83 L277.25 222.91 L277.67 223.3 L278.09 223.5 L278.51 224.15 L278.93 224.34 L279.36 224.58 L279.78 224.87 L280.2 225.16 L280.62 225.54 L281.04 225.7 L281.47 225.63 L281.89 226.39 L282.31 226.85 L282.73 226.74 L283.15 227.26 L283.58 227.18 L284 227.41 L284.42 227.54 L284.84 228.11 L285.27 228.74 L285.69 228.34 L286.11 228.73 L286.53 228.91 L286.95 229.39 L287.38 229.73 L287.8 229.9 L288.22 230.51 L288.64 230.19 L289.06 230.75 L289.49 230.98 L289.91 231.02 L290.33 231.5 L290.75 231.39 L291.17 231.9 L291.6 231.53 L292.02 231.98 L292.44 232.31 L292.86 232.6 L293.29 232.87 L293.71 233.2 L294.13 233.69 L294.55 233.63 L294.97 233.89 L295.4 234.04 L295.82 234.13 L296.24 234.72 L296.66 234.8 L297.08 234.89 L297.51 235.04 L297.93 234.97 L298.35 234.82 L298.77 235.57 L299.19 235.6 L299.62 235.93 L300.04 236.06 L300.46 235.96 L300.88 236.46 L301.31 236.56 L301.73 236.85 L302.15 237.17 L302.57 237.01 L302.99 237.44 L303.42 237.29 L303.84 237.99 L304.26 237.85 L304.68 237.78" stroke="#219789" stroke-width="0.85" fill="none" stroke-linejoin="round"/>
<path d="M203.8 231.22 L204.22 230.83 L204.64 230.41 L205.07 230.42 L205.49 230.46 L205.91 230.17 L206.33 229.83 L206.75 229.81 L207.18 229.56 L207.6 229.24 L208.02 229.3 L208.44 228.51 L208.87 228.74 L209.29 228.4 L209.71 228.15 L210.13 227.67 L210.55 227.8 L210.98 227.08 L211.4 226.89 L211.82 226.88 L212.24 227.05 L212.66 226.8 L213.09 226.35 L213.51 225.99 L213.93 225.67 L214.35 225.3 L214.77 225.2 L215.2 225.02 L215.62 224.69 L216.04 224.9 L216.46 224 L216.89 224.25 L217.31 224.06 L217.73 223.54 L218.15 223.19 L218.57 223.06 L219 222.57 L219.42 222.21 L219.84 221.8 L220.26 221.54 L220.68 221.41 L221.11 220.97 L221.53 220.42 L221.95 220.4 L222.37 220.04 L222.79 220.1 L223.22 219.28 L223.64 218.58 L224.06 218.48 L224.48 218.32 L224.91 217.66 L225.33 217.28 L225.75 216.88 L226.17 217 L226.59 216.6 L227.02 215.82 L227.44 215.45 L227.86 215.05 L228.28 215 L228.7 214.12 L229.13 213.45 L229.55 213.14 L229.97 212.4 L230.39 212.34 L230.81 211.92 L231.24 211.09 L231.66 210.74 L232.08 210.87 L232.5 210.19 L232.92 209.28 L233.35 208.87 L233.77 207.83 L234.19 207.28 L234.61 206.73 L235.04 206.42 L235.46 205.74 L235.88 204.87 L236.3 204.41 L236.72 203.49 L237.15 202.83 L237.57 201.97 L237.99 201.31 L238.41 200.67 L238.83 200.24 L239.26 199.05 L239.68 198.15 L240.1 196.77 L240.52 196.19 L240.94 194.98 L241.37 193.68 L241.79 192.51 L242.21 191.26 L242.63 190.13 L243.06 188.61 L243.48 187.68 L243.9 185.93 L244.32 184.98 L244.74 183.3 L245.17 181.63 L245.59 180.13 L246.01 178.99 L246.43 178.12 L246.85 176.61 L247.28 176.23 L247.7 175.74 L248.12 174.67 L248.54 175.06 L248.96 174.75 L249.39 174.52 L249.81 174.03 L250.23 173.82 L250.65 173.69 L251.08 173.65 L251.5 173.25 L251.92 173.34 L252.34 172.83 L252.76 172.45 L253.19 172.8 L253.61 172.42 L254.03 172.43 L254.45 172.28 L254.87 172.34 L255.3 171.94 L255.72 171.84 L256.14 171.46 L256.56 171.13 L256.98 171.71 L257.41 171.16 L257.83 171.45 L258.25 171.29 L258.67 171.31 L259.1 170.88 L259.52 170.63 L259.94 170.81 L260.36 170.65 L260.78 170.76 L261.21 170.57 L261.63 170.68 L262.05 170.35 L262.47 170.65 L262.89 169.7 L263.32 169.83 L263.74 170.11 L264.16 170.01 L264.58 169.92 L265 169.73 L265.43 169.63 L265.85 169.22 L266.27 169.62 L266.69 169.83 L267.12 169.32 L267.54 169.22 L267.96 169.4 L268.38 168.99 L268.8 169.12 L269.23 169.18 L269.65 168.96 L270.07 169.14 L270.49 168.89 L270.91 168.4 L271.34 168.43 L271.76 168.49 L272.18 168.52 L272.6 168.42 L273.02 168.65 L273.45 168.32 L273.87 218.27 L274.29 218.6 L274.71 218.5 L275.13 219.31 L275.56 219.49 L275.98 219.82 L276.4 219.96 L276.82 220.54 L277.25 220.71 L277.67 221.05 L278.09 221.47 L278.51 221.86 L278.93 222.26 L279.36 222.14 L279.78 222.82 L280.2 222.71 L280.62 222.9 L281.04 223.64 L281.47 224 L281.89 224.29 L282.31 224.47 L282.73 224.38 L283.15 225.07 L283.58 225.4 L284 225.78 L284.42 225.7 L284.84 225.89 L285.27 225.93 L285.69 226.44 L286.11 226.75 L286.53 227 L286.95 226.66 L287.38 227.17 L287.8 227.55 L288.22 228.04 L288.64 228.25 L289.06 228.47 L289.49 228.7 L289.91 228.82 L290.33 229.28 L290.75 229 L291.17 229.8 L291.6 229.69 L292.02 229.89 L292.44 230.07 L292.86 230.21 L293.29 230.63 L293.71 230.87 L294.13 230.83 L294.55 231.07 L294.97 231.54 L295.4 231.58 L295.82 232.2 L296.24 232.08 L296.66 232.78 L297.08 232.31 L297.51 232.88 L297.93 232.77 L298.35 233.06 L298.77 233.46 L299.19 233.37 L299.62 233.4 L300.04 234.09 L300.46 233.73 L300.88 234.21 L301.31 234.66 L301.73 234.71 L302.15 234.77 L302.57 234.88 L302.99 235.37 L303.42 235.46 L303.84 235.46 L304.26 235.68 L304.68 235.52" stroke="#218e8c" stroke-width="0.85" fill="none" stroke-linejoin="round"/>
<path d="M203.8 229.23 L204.22 229.02 L204.64 229.18 L205.07 228.98 L205.49 228.81 L205.91 228.41 L206.33 228.07 L206.75 227.65 L207.18 227.58 L207.6 227.73 L208.02 227.37 L208.44 226.71 L208.87 226.89 L209.29 226.59 L209.71 226.75 L210.13 226.53 L210.55 226.12 L210.98 225.85 L211.4 225.46 L211.82 225.35 L212.24 225.43 L212.66 224.37 L213.09 224.53 L213.51 224.69 L213.93 223.78 L214.35 223.69 L214.77 223.64 L215.2 223.34 L215.62 222.98 L216.04 223.27 L216.46 222.35 L216.89 222.22 L217.31 221.86 L217.73 221.83 L218.15 221.56 L218.57 220.83 L219 221.52 L219.42 220.32 L219.84 220.03 L220.26 220.28 L220.68 219.69 L221.11 219.47 L221.53 219.12 L221.95 218.94 L222.37 218.63 L222.79 218.01 L223.22 217.74 L223.64 217.23 L224.06 216.84 L224.48 216.74 L224.91 215.85 L225.33 215.57 L225.75 215.83 L226.17 215.17 L226.59 214.82 L227.02 214.26 L227.44 214.14 L227.86 213.21 L228.28 213.18 L228.7 212.25 L229.13 212.38 L229.55 211.39 L229.97 211.24 L230.39 210.67 L230.81 210.3 L231.24 209.81 L231.66 209.57 L232.08 208.9 L232.5 208.48 L232.92 207.83 L233.35 207.31 L233.77 206.51 L234.19 206.02 L234.61 205.53 L235.04 205.2 L235.46 204.03 L235.88 203.71 L236.3 202.96 L236.72 202.1 L237.15 201.47 L237.57 200.7 L237.99 199.93 L238.41 199.52 L238.83 198.18 L239.26 197.5 L239.68 196.42 L240.1 195.63 L240.52 194.77 L240.94 193.4 L241.37 192.61 L241.79 191.35 L242.21 190.3 L242.63 189.08 L243.06 187.81 L243.48 186.62 L243.9 185.61 L244.32 184.12 L244.74 182.43 L245.17 181.35 L245.59 180.08 L246.01 178.82 L246.43 177.8 L246.85 176.53 L247.28 175.78 L247.7 175.43 L248.12 175.13 L248.54 174.55 L248.96 174.54 L249.39 174.18 L249.81 173.89 L250.23 173.67 L250.65 173.48 L251.08 173.24 L251.5 173.36 L251.92 173.53 L252.34 172.72 L252.76 172.42 L253.19 172.68 L253.61 172.46 L254.03 172.16 L254.45 172.36 L254.87 172.08 L255.3 172.03 L255.72 171.72 L256.14 171.7 L256.56 171.27 L256.98 171.67 L257.41 171.52 L257.83 171.55 L258.25 171.13 L258.67 171.09 L259.1 171.02 L259.52 170.76 L259.94 170.97 L260.36 170.96 L260.78 170.18 L261.21 170.5 L261.63 170.6 L262.05 170.12 L262.47 170.21 L262.89 170.34 L263.32 170 L263.74 169.78 L264.16 169.76 L264.58 169.84 L265 169.42 L265.43 169.84 L265.85 169.63 L266.27 169.42 L266.69 169.64 L267.12 169.23 L267.54 169.22 L267.96 169.03 L268.38 169.09 L268.8 168.69 L269.23 169.27 L269.65 169.01 L270.07 168.97 L270.49 168.8 L270.91 168.61 L271.34 168.87 L271.76 168.4 L272.18 168.31 L272.6 168.45 L273.02 168.67 L273.45 168.22 L273.87 168.19 L274.29 168.4 L274.71 168.29 L275.13 168.2 L275.56 168.31 L275.98 167.9 L276.4 167.69 L276.82 167.78 L277.25 167.93 L277.67 167.75 L278.09 167.68 L278.51 167.26 L278.93 167.65 L279.36 167.41 L279.78 167.51 L280.2 167.17 L280.62 167.5 L281.04 167.18 L281.47 167.3 L281.89 221.82 L282.31 222.49 L282.73 222.5 L283.15 222.54 L283.58 222.89 L284 223.49 L284.42 223.05 L284.84 223.72 L285.27 224.12 L285.69 224.39 L286.11 224.76 L286.53 224.52 L286.95 224.82 L287.38 225.03 L287.8 225.76 L288.22 226.17 L288.64 226.46 L289.06 226.56 L289.49 226.61 L289.91 226.97 L290.33 227.29 L290.75 227.09 L291.17 227.56 L291.6 227.58 L292.02 227.63 L292.44 228.24 L292.86 228.4 L293.29 228.27 L293.71 229.03 L294.13 229.04 L294.55 229.38 L294.97 229.4 L295.4 229.69 L295.82 229.73 L296.24 230.07 L296.66 229.95 L297.08 230.53 L297.51 230.6 L297.93 230.64 L298.35 231.14 L298.77 231.29 L299.19 231.38 L299.62 231.63 L300.04 231.58 L300.46 232.07 L300.88 232.41 L301.31 232.17 L301.73 232.64 L302.15 232.79 L302.57 232.89 L302.99 232.8 L303.42 233.04 L303.84 233.34 L304.26 233.5 L304.68 233.81" stroke="#25848d" stroke-width="0.85" fill="none" stroke-linejoin="round"/>
<path d="M246.48 177.37 L246.85 175.77 L247.23 175.23 L247.6 174.83 L247.98 174.51 L248.36 174.23 L248.73 173.98 L249.11 173.75 L249.48 173.54 L249.86 173.35 L250.23 173.17 L250.61 173 L250.98 172.83 L251.36 172.68 L251.73 172.53 L252.11 172.39 L252.48 172.25 L252.86 172.12 L253.23 171.99 L253.61 171.87 L253.98 171.75 L254.36 171.63 L254.73 171.52 L255.11 171.41 L255.48 171.3 L255.86 171.19 L256.23 171.09 L256.61 170.99 L256.98 170.89 L257.36 170.8 L257.74 170.7 L258.11 170.61 L258.49 170.52 L258.86 170.43 L259.24 170.34 L259.61 170.26 L259.99 170.17 L260.36 170.09 L260.74 170.01 L261.11 169.93 L261.49 169.85 L261.86 169.77 L262.24 169.69 L262.61 169.62 L262.99 169.54 L263.36 169.47 L263.74 169.39 L264.11 169.32 L264.49 169.25 L264.86 169.18 L265.24 169.11 L265.61 169.04 L265.99 168.97 L266.36 168.9 L266.74 168.84 L267.12 168.77 L267.49 168.71 L267.87 168.64 L268.24 168.58 L268.62 168.51 L268.99 168.45 L269.37 168.39 L269.74 168.33 L270.12 168.27 L270.49 168.21 L270.87 168.15 L271.24 168.09 L271.62 168.03 L271.99 167.97 L272.37 167.91 L272.74 167.86 L273.12 167.8 L273.49 167.74 L273.87 167.69 L274.24 167.63 L274.62 167.58 L274.99 167.52 L275.37 167.47 L275.74 167.41 L276.12 167.36 L276.5 167.31 L276.87 167.25 L277.25 167.2 L277.62 167.15 L278 167.1 L278.37 167.05 L278.75 167 L279.12 166.95 L279.5 166.9 L279.87 166.85 L280.25 166.8 L280.62 166.75 L281 166.7 L281.37 166.65 L281.75 166.6" stroke="#f04040" stroke-width="0.9" fill="none" stroke-dasharray="0.9 2.2"/>
<path d="M203.8 323.54 L204.18 324.31 L204.55 326.47 L204.93 324.45 L205.3 327.04 L205.68 326.42 L206.05 326.29 L206.43 323.64 L206.8 323.2 L207.18 325.44 L207.55 326.04 L207.93 323.93 L208.3 326.08 L208.68 323.61 L209.05 326.55 L209.43 324.32 L209.8 326.37 L210.18 323.44 L210.55 325.28 L210.93 326.18 L211.3 325.3 L211.68 328.17 L212.05 325.34 L212.43 324.64 L212.8 322.68 L213.18 326.63 L213.56 324 L213.93 323.91 L214.31 324.55 L214.68 325.75 L215.06 325.17 L215.43 326.31 L215.81 325.02 L216.18 326.68 L216.56 325.92 L216.93 325.22 L217.31 326.35 L217.68 326.78 L218.06 325.39 L218.43 324.95 L218.81 324.53 L219.18 324.79 L219.56 323.35 L219.93 325.3 L220.31 323.71 L220.68 326.41 L221.06 324.46 L221.43 324.36 L221.81 323.05 L222.18 325.89 L222.56 323.03 L222.94 325.28 L223.31 325.63 L223.69 327.05 L224.06 324.06 L224.44 325.73 L224.81 324.1 L225.19 324.86 L225.56 324.13 L225.94 324.95 L226.31 325.8 L226.69 325.49 L227.06 324.96 L227.44 324.42 L227.81 325.79 L228.19 323.8 L228.56 327.2 L228.94 326.33 L229.31 323.99 L229.69 324.38 L230.06 322.36 L230.44 323.45 L230.81 325.8 L231.19 325.86 L231.56 324.53 L231.94 324.59 L232.32 323.6 L232.69 325 L233.07 325.16 L233.44 325.13 L233.82 324.23 L234.19 325.11 L234.57 324.2 L234.94 323.1 L235.32 324.07 L235.69 325.03 L236.07 323.04 L236.44 322.63 L236.82 324.42 L237.19 323.72 L237.57 324.97 L237.94 324.16 L238.32 324.08 L238.69 324.16 L239.07 323.1 L239.44 319.87 L239.82 320.49 L240.19 322.05 L240.57 320.72 L240.94 320.79 L241.32 320.37 L241.7 322.4 L242.07 319.84 L242.45 320.5 L242.82 319.18 L243.2 318.23 L243.57 321.79 L243.95 320 L244.32 315.97 L244.7 314.35 L245.07 314.41 L245.45 316.37 L245.82 315.22 L246.2 313.85 L246.57 314.8 L246.95 317.25 L247.32 314 L247.7 316.01 L248.07 315.71 L248.45 318.26 L248.82 318.07 L249.2 315.87 L249.57 318.4 L249.95 317.85 L250.32 317.02 L250.7 319.38 L251.08 319.84 L251.45 320.62 L251.83 319.73 L252.2 320.65 L252.58 320.88 L252.95 319.86 L253.33 321.39 L253.7 320.78 L254.08 323.46 L254.45 322.99 L254.83 322.08 L255.2 324.01 L255.58 324.9 L255.95 323.46 L256.33 324.08 L256.7 323.17 L257.08 321.86 L257.45 324.38 L257.83 325.22 L258.2 324.39 L258.58 324.81 L258.95 324.82 L259.33 322.93 L259.7 323.67 L260.08 323.94 L260.46 324.74 L260.83 323.37 L261.21 324.67 L261.58 322.59 L261.96 324.65 L262.33 324.78 L262.71 323.91 L263.08 322.27 L263.46 326.87 L263.83 324.29 L264.21 326.29 L264.58 326.83 L264.96 325.45 L265.33 323.96 L265.71 326.93 L266.08 325.5 L266.46 322.89 L266.83 323.57 L267.21 325.48 L267.58 324.31 L267.96 325.03 L268.33 325.81 L268.71 326.1 L269.08 323.68 L269.46 325.96 L269.84 325.36 L270.21 325.8 L270.59 326.99 L270.96 325.48 L271.34 323.04 L271.71 326.47 L272.09 325.35 L272.46 323.88 L272.84 324.75 L273.21 325.33 L273.59 324.61 L273.96 324.96 L274.34 325.41 L274.71 326.32 L275.09 325.88 L275.46 327.41 L275.84 325.2 L276.21 325.64 L276.59 326.12 L276.96 327.26 L277.34 326.02 L277.71 327.57 L278.09 324.7 L278.46 326.82 L278.84 324.4 L279.22 326.46 L279.59 324.64 L279.97 324.79 L280.34 324.43 L280.72 325.83 L281.09 327.72 L281.47 324.98 L281.84 326.22 L282.22 327.3 L282.59 326.77 L282.97 325.16 L283.34 324.74 L283.72 325.07 L284.09 324.65 L284.47 324.23 L284.84 325.88 L285.22 325.52 L285.59 325.8 L285.97 325.85 L286.34 325.65 L286.72 325.28 L287.09 326.1 L287.47 325.36 L287.84 324.44 L288.22 325.87 L288.6 324.87 L288.97 326.57 L289.35 326.51 L289.72 323.51 L290.1 325.69 L290.47 324.1 L290.85 327.86 L291.22 328.34 L291.6 325.59 L291.97 325.85 L292.35 328.24 L292.72 324.71 L293.1 324.81 L293.47 326.38 L293.85 324.86 L294.22 324.84 L294.6 325.47 L294.97 326.23 L295.35 324.79 L295.72 326.08 L296.1 326.17 L296.47 327.17 L296.85 325.44 L297.22 324.11 L297.6 326.15 L297.98 326.18 L298.35 327.11 L298.73 325.84 L299.1 324.6 L299.48 325.77 L299.85 324.89 L300.23 324.3 L300.6 326.63 L300.98 326.29 L301.35 324.86 L301.73 325.93 L302.1 326.84 L302.48 325.6 L302.85 325.12 L303.23 324.32 L303.6 326.61 L303.98 325.2 L304.35 325.04 L304.73 328.9" stroke="#4848f4" stroke-width="0.6" fill="none"/>
</g>
<line x1="203.8" y1="176" x2="304.6" y2="176" stroke="#8050c0" stroke-width="1.0" stroke-dasharray="1.2 1.5"/>
<line x1="248.2" y1="180" x2="248.2" y2="226" stroke="#f05050" stroke-width="1.0" stroke-dasharray="1 1.6"/>
<line x1="246.2" y1="183" x2="246.2" y2="306" stroke="#555" stroke-width="1.0"/>
<path d="M246.2 176.5 L243.4 183 L249 183 Z M246.2 311.5 L243.4 305 L249 305 Z" fill="#111"/>
<text x="255.3" y="258.2" font-size="7.5" text-anchor="start" fill="#242424">77 dB</text>
<line x1="203.8" y1="156.2" x2="304.6" y2="156.2" stroke="#3a3a3a" stroke-width="1"/>
<line x1="203.8" y1="156.2" x2="203.8" y2="329.6" stroke="#3a3a3a" stroke-width="1"/>
<line x1="203.8" y1="329.6" x2="304.6" y2="329.6" stroke="#3a3a3a" stroke-width="1"/>
<line x1="304.6" y1="156.2" x2="304.6" y2="329.6" stroke="#2b2bea" stroke-width="1"/>
<line x1="203.8" y1="323.44" x2="206.3" y2="323.44" stroke="#3a3a3a" stroke-width="0.8"/>
<text x="198.6" y="325.24" font-size="8.8" text-anchor="end" fill="#242424">10<tspan font-size="5.8" dy="-3.6">–4</tspan></text>
<line x1="203.8" y1="313.46" x2="205.1" y2="313.46" stroke="#3a3a3a" stroke-width="0.6"/>
<line x1="203.8" y1="307.62" x2="205.1" y2="307.62" stroke="#3a3a3a" stroke-width="0.6"/>
<line x1="203.8" y1="303.48" x2="205.1" y2="303.48" stroke="#3a3a3a" stroke-width="0.6"/>
<line x1="203.8" y1="300.26" x2="205.1" y2="300.26" stroke="#3a3a3a" stroke-width="0.6"/>
<line x1="203.8" y1="297.64" x2="205.1" y2="297.64" stroke="#3a3a3a" stroke-width="0.6"/>
<line x1="203.8" y1="295.42" x2="205.1" y2="295.42" stroke="#3a3a3a" stroke-width="0.6"/>
<line x1="203.8" y1="293.49" x2="205.1" y2="293.49" stroke="#3a3a3a" stroke-width="0.6"/>
<line x1="203.8" y1="291.8" x2="205.1" y2="291.8" stroke="#3a3a3a" stroke-width="0.6"/>
<line x1="203.8" y1="290.28" x2="206.3" y2="290.28" stroke="#3a3a3a" stroke-width="0.8"/>
<text x="198.6" y="292.08" font-size="8.8" text-anchor="end" fill="#242424">10<tspan font-size="5.8" dy="-3.6">–3</tspan></text>
<line x1="203.8" y1="280.3" x2="205.1" y2="280.3" stroke="#3a3a3a" stroke-width="0.6"/>
<line x1="203.8" y1="274.46" x2="205.1" y2="274.46" stroke="#3a3a3a" stroke-width="0.6"/>
<line x1="203.8" y1="270.32" x2="205.1" y2="270.32" stroke="#3a3a3a" stroke-width="0.6"/>
<line x1="203.8" y1="267.1" x2="205.1" y2="267.1" stroke="#3a3a3a" stroke-width="0.6"/>
<line x1="203.8" y1="264.48" x2="205.1" y2="264.48" stroke="#3a3a3a" stroke-width="0.6"/>
<line x1="203.8" y1="262.26" x2="205.1" y2="262.26" stroke="#3a3a3a" stroke-width="0.6"/>
<line x1="203.8" y1="260.33" x2="205.1" y2="260.33" stroke="#3a3a3a" stroke-width="0.6"/>
<line x1="203.8" y1="258.64" x2="205.1" y2="258.64" stroke="#3a3a3a" stroke-width="0.6"/>
<line x1="203.8" y1="257.12" x2="206.3" y2="257.12" stroke="#3a3a3a" stroke-width="0.8"/>
<text x="198.6" y="258.92" font-size="8.8" text-anchor="end" fill="#242424">10<tspan font-size="5.8" dy="-3.6">–2</tspan></text>
<line x1="203.8" y1="247.14" x2="205.1" y2="247.14" stroke="#3a3a3a" stroke-width="0.6"/>
<line x1="203.8" y1="241.3" x2="205.1" y2="241.3" stroke="#3a3a3a" stroke-width="0.6"/>
<line x1="203.8" y1="237.16" x2="205.1" y2="237.16" stroke="#3a3a3a" stroke-width="0.6"/>
<line x1="203.8" y1="233.94" x2="205.1" y2="233.94" stroke="#3a3a3a" stroke-width="0.6"/>
<line x1="203.8" y1="231.32" x2="205.1" y2="231.32" stroke="#3a3a3a" stroke-width="0.6"/>
<line x1="203.8" y1="229.1" x2="205.1" y2="229.1" stroke="#3a3a3a" stroke-width="0.6"/>
<line x1="203.8" y1="227.17" x2="205.1" y2="227.17" stroke="#3a3a3a" stroke-width="0.6"/>
<line x1="203.8" y1="225.48" x2="205.1" y2="225.48" stroke="#3a3a3a" stroke-width="0.6"/>
<line x1="203.8" y1="223.96" x2="206.3" y2="223.96" stroke="#3a3a3a" stroke-width="0.8"/>
<text x="198.6" y="225.76" font-size="8.8" text-anchor="end" fill="#242424">10<tspan font-size="5.8" dy="-3.6">–1</tspan></text>
<line x1="203.8" y1="213.98" x2="205.1" y2="213.98" stroke="#3a3a3a" stroke-width="0.6"/>
<line x1="203.8" y1="208.14" x2="205.1" y2="208.14" stroke="#3a3a3a" stroke-width="0.6"/>
<line x1="203.8" y1="204" x2="205.1" y2="204" stroke="#3a3a3a" stroke-width="0.6"/>
<line x1="203.8" y1="200.78" x2="205.1" y2="200.78" stroke="#3a3a3a" stroke-width="0.6"/>
<line x1="203.8" y1="198.16" x2="205.1" y2="198.16" stroke="#3a3a3a" stroke-width="0.6"/>
<line x1="203.8" y1="195.94" x2="205.1" y2="195.94" stroke="#3a3a3a" stroke-width="0.6"/>
<line x1="203.8" y1="194.01" x2="205.1" y2="194.01" stroke="#3a3a3a" stroke-width="0.6"/>
<line x1="203.8" y1="192.32" x2="205.1" y2="192.32" stroke="#3a3a3a" stroke-width="0.6"/>
<line x1="203.8" y1="190.8" x2="206.3" y2="190.8" stroke="#3a3a3a" stroke-width="0.8"/>
<text x="198.6" y="192.6" font-size="8.8" text-anchor="end" fill="#242424">10<tspan font-size="5.8" dy="-3.6">0</tspan></text>
<line x1="203.8" y1="180.82" x2="205.1" y2="180.82" stroke="#3a3a3a" stroke-width="0.6"/>
<line x1="203.8" y1="174.98" x2="205.1" y2="174.98" stroke="#3a3a3a" stroke-width="0.6"/>
<line x1="203.8" y1="170.84" x2="205.1" y2="170.84" stroke="#3a3a3a" stroke-width="0.6"/>
<line x1="203.8" y1="167.62" x2="205.1" y2="167.62" stroke="#3a3a3a" stroke-width="0.6"/>
<line x1="203.8" y1="165" x2="205.1" y2="165" stroke="#3a3a3a" stroke-width="0.6"/>
<line x1="203.8" y1="162.78" x2="205.1" y2="162.78" stroke="#3a3a3a" stroke-width="0.6"/>
<line x1="203.8" y1="160.85" x2="205.1" y2="160.85" stroke="#3a3a3a" stroke-width="0.6"/>
<line x1="203.8" y1="159.16" x2="205.1" y2="159.16" stroke="#3a3a3a" stroke-width="0.6"/>
<line x1="203.8" y1="157.64" x2="206.3" y2="157.64" stroke="#3a3a3a" stroke-width="0.8"/>
<text x="198.6" y="159.44" font-size="8.8" text-anchor="end" fill="#242424">10<tspan font-size="5.8" dy="-3.6">1</tspan></text>
<line x1="227.25" y1="329.6" x2="227.25" y2="328.1" stroke="#3a3a3a" stroke-width="0.8"/>
<line x1="227.25" y1="156.2" x2="227.25" y2="157.7" stroke="#3a3a3a" stroke-width="0.8"/>
<line x1="250.7" y1="329.6" x2="250.7" y2="327.1" stroke="#3a3a3a" stroke-width="0.8"/>
<line x1="250.7" y1="156.2" x2="250.7" y2="158.7" stroke="#3a3a3a" stroke-width="0.8"/>
<line x1="274.15" y1="329.6" x2="274.15" y2="328.1" stroke="#3a3a3a" stroke-width="0.8"/>
<line x1="274.15" y1="156.2" x2="274.15" y2="157.7" stroke="#3a3a3a" stroke-width="0.8"/>
<line x1="297.6" y1="329.6" x2="297.6" y2="327.1" stroke="#3a3a3a" stroke-width="0.8"/>
<line x1="297.6" y1="156.2" x2="297.6" y2="158.7" stroke="#3a3a3a" stroke-width="0.8"/>
<text x="203.8" y="340.6" font-size="8.8" text-anchor="middle" fill="#242424">18.5</text>
<text x="250.7" y="340.6" font-size="8.8" text-anchor="middle" fill="#242424">19.0</text>
<text x="297.6" y="340.6" font-size="8.8" text-anchor="middle" fill="#242424">19.5</text>
<text x="254.4" y="355" font-size="8.8" text-anchor="middle" fill="#242424">Frequency (MHz)</text>
<text x="177" y="242.5" font-size="8.8" text-anchor="middle" fill="#242424" transform="rotate(-90 177 242.5)">Amplitude (mV)</text>
<text x="173" y="156.5" font-size="14.5" text-anchor="start" font-weight="bold" fill="#000">f</text>
<line x1="304.6" y1="170.2" x2="302.1" y2="170.2" stroke="#2424e0" stroke-width="0.8"/>
<text x="309" y="172.8" font-size="8.8" text-anchor="start" fill="#2424e0">3 × 10<tspan font-size="5.8" dy="-3.6">0</tspan></text>
<line x1="304.6" y1="203.05" x2="302.1" y2="203.05" stroke="#2424e0" stroke-width="0.8"/>
<text x="309" y="205.65" font-size="8.8" text-anchor="start" fill="#2424e0">3 × 10<tspan font-size="5.8" dy="-3.6">–1</tspan></text>
<line x1="304.6" y1="235.9" x2="302.1" y2="235.9" stroke="#2424e0" stroke-width="0.8"/>
<text x="309" y="238.5" font-size="8.8" text-anchor="start" fill="#2424e0">3 × 10<tspan font-size="5.8" dy="-3.6">–2</tspan></text>
<line x1="304.6" y1="268.75" x2="302.1" y2="268.75" stroke="#2424e0" stroke-width="0.8"/>
<text x="309" y="271.35" font-size="8.8" text-anchor="start" fill="#2424e0">3 × 10<tspan font-size="5.8" dy="-3.6">–3</tspan></text>
<line x1="304.6" y1="301.6" x2="302.1" y2="301.6" stroke="#2424e0" stroke-width="0.8"/>
<text x="309" y="304.2" font-size="8.8" text-anchor="start" fill="#2424e0">3 × 10<tspan font-size="5.8" dy="-3.6">–4</tspan></text>
<line x1="304.6" y1="327.16" x2="303.3" y2="327.16" stroke="#2424e0" stroke-width="0.6"/>
<line x1="304.6" y1="324.56" x2="303.3" y2="324.56" stroke="#2424e0" stroke-width="0.6"/>
<line x1="304.6" y1="322.36" x2="303.3" y2="322.36" stroke="#2424e0" stroke-width="0.6"/>
<line x1="304.6" y1="320.46" x2="303.3" y2="320.46" stroke="#2424e0" stroke-width="0.6"/>
<line x1="304.6" y1="318.78" x2="303.3" y2="318.78" stroke="#2424e0" stroke-width="0.6"/>
<line x1="304.6" y1="317.27" x2="303.3" y2="317.27" stroke="#2424e0" stroke-width="0.6"/>
<line x1="304.6" y1="307.38" x2="303.3" y2="307.38" stroke="#2424e0" stroke-width="0.6"/>
<line x1="304.6" y1="301.6" x2="303.3" y2="301.6" stroke="#2424e0" stroke-width="0.6"/>
<line x1="304.6" y1="297.5" x2="303.3" y2="297.5" stroke="#2424e0" stroke-width="0.6"/>
<line x1="304.6" y1="294.31" x2="303.3" y2="294.31" stroke="#2424e0" stroke-width="0.6"/>
<line x1="304.6" y1="291.71" x2="303.3" y2="291.71" stroke="#2424e0" stroke-width="0.6"/>
<line x1="304.6" y1="289.51" x2="303.3" y2="289.51" stroke="#2424e0" stroke-width="0.6"/>
<line x1="304.6" y1="287.61" x2="303.3" y2="287.61" stroke="#2424e0" stroke-width="0.6"/>
<line x1="304.6" y1="285.93" x2="303.3" y2="285.93" stroke="#2424e0" stroke-width="0.6"/>
<line x1="304.6" y1="284.42" x2="303.3" y2="284.42" stroke="#2424e0" stroke-width="0.6"/>
<line x1="304.6" y1="274.53" x2="303.3" y2="274.53" stroke="#2424e0" stroke-width="0.6"/>
<line x1="304.6" y1="268.75" x2="303.3" y2="268.75" stroke="#2424e0" stroke-width="0.6"/>
<line x1="304.6" y1="264.65" x2="303.3" y2="264.65" stroke="#2424e0" stroke-width="0.6"/>
<line x1="304.6" y1="261.46" x2="303.3" y2="261.46" stroke="#2424e0" stroke-width="0.6"/>
<line x1="304.6" y1="258.86" x2="303.3" y2="258.86" stroke="#2424e0" stroke-width="0.6"/>
<line x1="304.6" y1="256.66" x2="303.3" y2="256.66" stroke="#2424e0" stroke-width="0.6"/>
<line x1="304.6" y1="254.76" x2="303.3" y2="254.76" stroke="#2424e0" stroke-width="0.6"/>
<line x1="304.6" y1="253.08" x2="303.3" y2="253.08" stroke="#2424e0" stroke-width="0.6"/>
<line x1="304.6" y1="251.57" x2="303.3" y2="251.57" stroke="#2424e0" stroke-width="0.6"/>
<line x1="304.6" y1="241.68" x2="303.3" y2="241.68" stroke="#2424e0" stroke-width="0.6"/>
<line x1="304.6" y1="235.9" x2="303.3" y2="235.9" stroke="#2424e0" stroke-width="0.6"/>
<line x1="304.6" y1="231.8" x2="303.3" y2="231.8" stroke="#2424e0" stroke-width="0.6"/>
<line x1="304.6" y1="228.61" x2="303.3" y2="228.61" stroke="#2424e0" stroke-width="0.6"/>
<line x1="304.6" y1="226.01" x2="303.3" y2="226.01" stroke="#2424e0" stroke-width="0.6"/>
<line x1="304.6" y1="223.81" x2="303.3" y2="223.81" stroke="#2424e0" stroke-width="0.6"/>
<line x1="304.6" y1="221.91" x2="303.3" y2="221.91" stroke="#2424e0" stroke-width="0.6"/>
<line x1="304.6" y1="220.23" x2="303.3" y2="220.23" stroke="#2424e0" stroke-width="0.6"/>
<line x1="304.6" y1="218.72" x2="303.3" y2="218.72" stroke="#2424e0" stroke-width="0.6"/>
<line x1="304.6" y1="208.83" x2="303.3" y2="208.83" stroke="#2424e0" stroke-width="0.6"/>
<line x1="304.6" y1="203.05" x2="303.3" y2="203.05" stroke="#2424e0" stroke-width="0.6"/>
<line x1="304.6" y1="198.95" x2="303.3" y2="198.95" stroke="#2424e0" stroke-width="0.6"/>
<line x1="304.6" y1="195.76" x2="303.3" y2="195.76" stroke="#2424e0" stroke-width="0.6"/>
<line x1="304.6" y1="193.16" x2="303.3" y2="193.16" stroke="#2424e0" stroke-width="0.6"/>
<line x1="304.6" y1="190.96" x2="303.3" y2="190.96" stroke="#2424e0" stroke-width="0.6"/>
<line x1="304.6" y1="189.06" x2="303.3" y2="189.06" stroke="#2424e0" stroke-width="0.6"/>
<line x1="304.6" y1="187.38" x2="303.3" y2="187.38" stroke="#2424e0" stroke-width="0.6"/>
<line x1="304.6" y1="185.87" x2="303.3" y2="185.87" stroke="#2424e0" stroke-width="0.6"/>
<line x1="304.6" y1="175.98" x2="303.3" y2="175.98" stroke="#2424e0" stroke-width="0.6"/>
<line x1="304.6" y1="170.2" x2="303.3" y2="170.2" stroke="#2424e0" stroke-width="0.6"/>
<line x1="304.6" y1="166.1" x2="303.3" y2="166.1" stroke="#2424e0" stroke-width="0.6"/>
<line x1="304.6" y1="162.91" x2="303.3" y2="162.91" stroke="#2424e0" stroke-width="0.6"/>
<line x1="304.6" y1="160.31" x2="303.3" y2="160.31" stroke="#2424e0" stroke-width="0.6"/>
<line x1="304.6" y1="158.11" x2="303.3" y2="158.11" stroke="#2424e0" stroke-width="0.6"/>
<line x1="304.6" y1="156.21" x2="303.3" y2="156.21" stroke="#2424e0" stroke-width="0.6"/>
<text x="356" y="243" font-size="8.8" text-anchor="middle" fill="#2424e0" transform="rotate(-90 356 243)">Displacement (nm)</text>
<defs><linearGradient id="vcb" x1="0" y1="0" x2="1" y2="0"><stop offset="0.00" stop-color="#fde725"/><stop offset="0.10" stop-color="#bddf26"/><stop offset="0.20" stop-color="#7ad151"/><stop offset="0.30" stop-color="#44bf70"/><stop offset="0.40" stop-color="#22a884"/><stop offset="0.50" stop-color="#21918c"/><stop offset="0.60" stop-color="#2a788e"/><stop offset="0.70" stop-color="#345f8d"/><stop offset="0.80" stop-color="#414387"/><stop offset="0.90" stop-color="#482375"/><stop offset="1.00" stop-color="#440154"/></linearGradient></defs>
<rect x="261.9" y="289.5" width="22.7" height="6.4" fill="url(#vcb)" stroke="none" stroke-width="1"/>
<text x="261" y="285.5" font-size="8.2" text-anchor="start" fill="#242424"><tspan font-style="italic">v</tspan><tspan font-size="5" dy="1.5">RF</tspan><tspan dy="-1.5"> (mV)</tspan></text>
<text x="262.9" y="304.3" font-size="8.2" text-anchor="middle" fill="#242424">1</text>
<text x="284.8" y="304.3" font-size="8.2" text-anchor="middle" fill="#242424">100</text>
<defs><clipPath id="gclip"><rect x="398.9" y="158" width="89.2" height="82.8"/></clipPath><clipPath id="hclip"><rect x="398.9" y="243.3" width="89.2" height="82.8"/></clipPath></defs>
<g clip-path="url(#gclip)">
<circle cx="392.4" cy="235.83" r="1.9" fill="#2b2be6"/><circle cx="393.53" cy="235.85" r="1.9" fill="#2b2be6"/><circle cx="394.66" cy="235.9" r="1.9" fill="#2b2be6"/><circle cx="395.79" cy="235.74" r="1.9" fill="#2b2be6"/><circle cx="396.92" cy="235.79" r="1.9" fill="#2b2be6"/><circle cx="398.05" cy="235.78" r="1.9" fill="#2b2be6"/><circle cx="399.18" cy="235.67" r="1.9" fill="#2b2be6"/><circle cx="400.31" cy="235.7" r="1.9" fill="#2b2be6"/><circle cx="401.44" cy="235.78" r="1.9" fill="#2b2be6"/><circle cx="402.57" cy="235.71" r="1.9" fill="#2b2be6"/><circle cx="403.7" cy="235.6" r="1.9" fill="#2b2be6"/><circle cx="404.83" cy="235.6" r="1.9" fill="#2b2be6"/><circle cx="405.96" cy="235.55" r="1.9" fill="#2b2be6"/><circle cx="407.09" cy="235.6" r="1.9" fill="#2b2be6"/><circle cx="408.22" cy="235.5" r="1.9" fill="#2b2be6"/><circle cx="409.35" cy="235.56" r="1.9" fill="#2b2be6"/><circle cx="410.48" cy="235.49" r="1.9" fill="#2b2be6"/><circle cx="411.61" cy="235.4" r="1.9" fill="#2b2be6"/><circle cx="412.74" cy="235.39" r="1.9" fill="#2b2be6"/><circle cx="413.87" cy="235.28" r="1.9" fill="#2b2be6"/><circle cx="415" cy="235.26" r="1.9" fill="#2b2be6"/><circle cx="416.13" cy="235.15" r="1.9" fill="#2b2be6"/><circle cx="417.26" cy="234.93" r="1.9" fill="#2b2be6"/><circle cx="418.39" cy="234.93" r="1.9" fill="#2b2be6"/><circle cx="419.51" cy="234.76" r="1.9" fill="#2b2be6"/><circle cx="420.64" cy="234.81" r="1.9" fill="#2b2be6"/><circle cx="421.77" cy="234.57" r="1.9" fill="#2b2be6"/><circle cx="422.9" cy="234.21" r="1.9" fill="#2b2be6"/><circle cx="424.03" cy="234.2" r="1.9" fill="#2b2be6"/><circle cx="425.16" cy="233.74" r="1.9" fill="#2b2be6"/><circle cx="426.29" cy="233.3" r="1.9" fill="#2b2be6"/><circle cx="427.42" cy="232.51" r="1.9" fill="#2b2be6"/><circle cx="428.55" cy="232.25" r="1.9" fill="#2b2be6"/><circle cx="429.68" cy="230.98" r="1.9" fill="#2b2be6"/><circle cx="430.81" cy="229.32" r="1.9" fill="#2b2be6"/><circle cx="431.94" cy="226.94" r="1.9" fill="#2b2be6"/><circle cx="433.07" cy="224.03" r="1.9" fill="#2b2be6"/><circle cx="434.2" cy="216.01" r="1.9" fill="#2b2be6"/><circle cx="435.33" cy="205.13" r="1.9" fill="#2b2be6"/><circle cx="436.46" cy="187.23" r="1.9" fill="#2b2be6"/><circle cx="437.59" cy="177.62" r="1.9" fill="#2b2be6"/><circle cx="438.72" cy="188.34" r="1.9" fill="#2b2be6"/><circle cx="439.85" cy="206.18" r="1.9" fill="#2b2be6"/><circle cx="440.98" cy="217.07" r="1.9" fill="#2b2be6"/><circle cx="442.11" cy="223.82" r="1.9" fill="#2b2be6"/><circle cx="443.24" cy="226.83" r="1.9" fill="#2b2be6"/><circle cx="444.37" cy="229.66" r="1.9" fill="#2b2be6"/><circle cx="445.5" cy="230.62" r="1.9" fill="#2b2be6"/><circle cx="446.63" cy="231.84" r="1.9" fill="#2b2be6"/><circle cx="447.75" cy="232.79" r="1.9" fill="#2b2be6"/><circle cx="448.88" cy="233.24" r="1.9" fill="#2b2be6"/><circle cx="450.01" cy="233.88" r="1.9" fill="#2b2be6"/><circle cx="451.14" cy="234.14" r="1.9" fill="#2b2be6"/><circle cx="452.27" cy="234.36" r="1.9" fill="#2b2be6"/><circle cx="453.4" cy="234.64" r="1.9" fill="#2b2be6"/><circle cx="454.53" cy="234.74" r="1.9" fill="#2b2be6"/><circle cx="455.66" cy="234.86" r="1.9" fill="#2b2be6"/><circle cx="456.79" cy="235.02" r="1.9" fill="#2b2be6"/><circle cx="457.92" cy="235.14" r="1.9" fill="#2b2be6"/><circle cx="459.05" cy="235.25" r="1.9" fill="#2b2be6"/><circle cx="460.18" cy="235.37" r="1.9" fill="#2b2be6"/><circle cx="461.31" cy="235.29" r="1.9" fill="#2b2be6"/><circle cx="462.44" cy="235.4" r="1.9" fill="#2b2be6"/><circle cx="463.57" cy="235.37" r="1.9" fill="#2b2be6"/><circle cx="464.7" cy="235.55" r="1.9" fill="#2b2be6"/><circle cx="465.83" cy="235.55" r="1.9" fill="#2b2be6"/><circle cx="466.96" cy="235.53" r="1.9" fill="#2b2be6"/><circle cx="468.09" cy="235.53" r="1.9" fill="#2b2be6"/><circle cx="469.22" cy="235.58" r="1.9" fill="#2b2be6"/><circle cx="470.35" cy="235.62" r="1.9" fill="#2b2be6"/><circle cx="471.48" cy="235.75" r="1.9" fill="#2b2be6"/><circle cx="472.61" cy="235.69" r="1.9" fill="#2b2be6"/><circle cx="473.74" cy="235.65" r="1.9" fill="#2b2be6"/><circle cx="474.87" cy="235.85" r="1.9" fill="#2b2be6"/><circle cx="475.99" cy="235.76" r="1.9" fill="#2b2be6"/><circle cx="477.12" cy="235.69" r="1.9" fill="#2b2be6"/><circle cx="478.25" cy="235.85" r="1.9" fill="#2b2be6"/><circle cx="479.38" cy="235.81" r="1.9" fill="#2b2be6"/><circle cx="480.51" cy="235.75" r="1.9" fill="#2b2be6"/><circle cx="481.64" cy="235.82" r="1.9" fill="#2b2be6"/><circle cx="482.77" cy="235.85" r="1.9" fill="#2b2be6"/><circle cx="483.9" cy="235.83" r="1.9" fill="#2b2be6"/><circle cx="485.03" cy="235.89" r="1.9" fill="#2b2be6"/><circle cx="486.16" cy="235.86" r="1.9" fill="#2b2be6"/><circle cx="487.29" cy="235.91" r="1.9" fill="#2b2be6"/><circle cx="488.42" cy="235.87" r="1.9" fill="#2b2be6"/><circle cx="489.55" cy="235.95" r="1.9" fill="#2b2be6"/><circle cx="490.68" cy="235.93" r="1.9" fill="#2b2be6"/><circle cx="491.81" cy="235.93" r="1.9" fill="#2b2be6"/>
<path d="M396.57 235.28 L396.82 235.28 L397.06 235.28 L397.31 235.27 L397.56 235.27 L397.81 235.27 L398.05 235.26 L398.3 235.26 L398.55 235.26 L398.79 235.25 L399.04 235.25 L399.29 235.24 L399.54 235.24 L399.78 235.24 L400.03 235.23 L400.28 235.23 L400.52 235.22 L400.77 235.22 L401.02 235.21 L401.26 235.21 L401.51 235.2 L401.76 235.2 L402.01 235.2 L402.25 235.19 L402.5 235.19 L402.75 235.18 L402.99 235.18 L403.24 235.17 L403.49 235.16 L403.74 235.16 L403.98 235.15 L404.23 235.15 L404.48 235.14 L404.72 235.14 L404.97 235.13 L405.22 235.12 L405.47 235.12 L405.71 235.11 L405.96 235.1 L406.21 235.1 L406.45 235.09 L406.7 235.08 L406.95 235.08 L407.2 235.07 L407.44 235.06 L407.69 235.06 L407.94 235.05 L408.18 235.04 L408.43 235.03 L408.68 235.02 L408.92 235.01 L409.17 235.01 L409.42 235 L409.67 234.99 L409.91 234.98 L410.16 234.97 L410.41 234.96 L410.65 234.95 L410.9 234.94 L411.15 234.93 L411.4 234.92 L411.64 234.91 L411.89 234.9 L412.14 234.88 L412.38 234.87 L412.63 234.86 L412.88 234.85 L413.13 234.83 L413.37 234.82 L413.62 234.81 L413.87 234.79 L414.11 234.78 L414.36 234.76 L414.61 234.75 L414.86 234.73 L415.1 234.72 L415.35 234.7 L415.6 234.68 L415.84 234.66 L416.09 234.65 L416.34 234.63 L416.59 234.61 L416.83 234.59 L417.08 234.57 L417.33 234.54 L417.57 234.52 L417.82 234.5 L418.07 234.47 L418.31 234.45 L418.56 234.42 L418.81 234.4 L419.06 234.37 L419.3 234.34 L419.55 234.31 L419.8 234.28 L420.04 234.25 L420.29 234.22 L420.54 234.18 L420.79 234.15 L421.03 234.11 L421.28 234.07 L421.53 234.03 L421.77 233.99 L422.02 233.94 L422.27 233.9 L422.52 233.85 L422.76 233.8 L423.01 233.75 L423.26 233.69 L423.5 233.63 L423.75 233.57 L424 233.51 L424.25 233.44 L424.49 233.37 L424.74 233.3 L424.99 233.22 L425.23 233.14 L425.48 233.05 L425.73 232.96 L425.97 232.86 L426.22 232.76 L426.47 232.65 L426.72 232.53 L426.96 232.41 L427.21 232.28 L427.46 232.14 L427.7 231.99 L427.95 231.83 L428.2 231.66 L428.45 231.48 L428.69 231.28 L428.94 231.07 L429.19 230.84 L429.43 230.6 L429.68 230.33 L429.93 230.04 L430.18 229.73 L430.42 229.39 L430.67 229.02 L430.92 228.61 L431.16 228.16 L431.41 227.67 L431.66 227.13 L431.91 226.53 L432.15 225.87 L432.4 225.14 L432.65 224.32 L432.89 223.4 L433.14 222.38 L433.39 221.23 L433.63 219.94 L433.88 218.48 L434.13 216.83 L434.38 214.97 L434.62 212.86 L434.87 210.49 L435.12 207.83 L435.36 204.86 L435.61 201.58 L435.86 198.03 L436.11 194.27 L436.35 190.43 L436.6 186.69 L436.85 183.31 L437.09 180.59 L437.34 178.81 L437.59 178.19 L437.84 178.81 L438.08 180.59 L438.33 183.31 L438.58 186.69 L438.82 190.43 L439.07 194.27 L439.32 198.03 L439.57 201.58 L439.81 204.86 L440.06 207.83 L440.31 210.49 L440.55 212.86 L440.8 214.97 L441.05 216.83 L441.3 218.48 L441.54 219.94 L441.79 221.23 L442.04 222.38 L442.28 223.4 L442.53 224.32 L442.78 225.14 L443.02 225.87 L443.27 226.53 L443.52 227.13 L443.77 227.67 L444.01 228.16 L444.26 228.61 L444.51 229.02 L444.75 229.39 L445 229.73 L445.25 230.04 L445.5 230.33 L445.74 230.6 L445.99 230.84 L446.24 231.07 L446.48 231.28 L446.73 231.48 L446.98 231.66 L447.23 231.83 L447.47 231.99 L447.72 232.14 L447.97 232.28 L448.21 232.41 L448.46 232.53 L448.71 232.65 L448.96 232.76 L449.2 232.86 L449.45 232.96 L449.7 233.05 L449.94 233.14 L450.19 233.22 L450.44 233.3 L450.68 233.37 L450.93 233.44 L451.18 233.51 L451.43 233.57 L451.67 233.63 L451.92 233.69 L452.17 233.75 L452.41 233.8 L452.66 233.85 L452.91 233.9 L453.16 233.94 L453.4 233.99 L453.65 234.03 L453.9 234.07 L454.14 234.11 L454.39 234.15 L454.64 234.18 L454.89 234.22 L455.13 234.25 L455.38 234.28 L455.63 234.31 L455.87 234.34 L456.12 234.37 L456.37 234.4 L456.62 234.42 L456.86 234.45 L457.11 234.47 L457.36 234.5 L457.6 234.52 L457.85 234.54 L458.1 234.57 L458.34 234.59 L458.59 234.61 L458.84 234.63 L459.09 234.65 L459.33 234.66 L459.58 234.68 L459.83 234.7 L460.07 234.72 L460.32 234.73 L460.57 234.75 L460.82 234.76 L461.06 234.78 L461.31 234.79 L461.56 234.81 L461.8 234.82 L462.05 234.83 L462.3 234.85 L462.55 234.86 L462.79 234.87 L463.04 234.88 L463.29 234.9 L463.53 234.91 L463.78 234.92 L464.03 234.93 L464.28 234.94 L464.52 234.95 L464.77 234.96 L465.02 234.97 L465.26 234.98 L465.51 234.99 L465.76 235 L466.01 235.01 L466.25 235.01 L466.5 235.02 L466.75 235.03 L466.99 235.04 L467.24 235.05 L467.49 235.06 L467.73 235.06 L467.98 235.07 L468.23 235.08 L468.48 235.08 L468.72 235.09 L468.97 235.1 L469.22 235.1 L469.46 235.11 L469.71 235.12 L469.96 235.12 L470.21 235.13 L470.45 235.14 L470.7 235.14 L470.95 235.15 L471.19 235.15 L471.44 235.16 L471.69 235.16 L471.94 235.17 L472.18 235.18 L472.43 235.18 L472.68 235.19 L472.92 235.19 L473.17 235.2 L473.42 235.2 L473.67 235.2 L473.91 235.21 L474.16 235.21 L474.41 235.22 L474.65 235.22 L474.9 235.23 L475.15 235.23 L475.39 235.24 L475.64 235.24 L475.89 235.24 L476.14 235.25 L476.38 235.25 L476.63 235.26 L476.88 235.26 L477.12 235.26 L477.37 235.27 L477.62 235.27 L477.87 235.27 L478.11 235.28 L478.36 235.28 L478.61 235.28 L478.85 235.29 L479.1 235.29 L479.35 235.29 L479.6 235.3 L479.84 235.3 L480.09 235.3 L480.34 235.31 L480.58 235.31 L480.83 235.31 L481.08 235.31 L481.33 235.32 L481.57 235.32 L481.82 235.32 L482.07 235.33 L482.31 235.33 L482.56 235.33 L482.81 235.33 L483.05 235.34 L483.3 235.34 L483.55 235.34 L483.8 235.34 L484.04 235.35 L484.29 235.35 L484.54 235.35 L484.78 235.35 L485.03 235.36 L485.28 235.36 L485.53 235.36 L485.77 235.36 L486.02 235.36 L486.27 235.37 L486.51 235.37 L486.76 235.37 L487.01 235.37 L487.26 235.37 L487.5 235.38 L487.75 235.38 L488 235.38 L488.24 235.38 L488.49 235.38 L488.74 235.39 L488.99 235.39 L489.23 235.39 L489.48 235.39 L489.73 235.39 L489.97 235.4 L490.22 235.4 L490.47 235.4 L490.72 235.4 L490.96 235.4 L491.21 235.4 L491.46 235.41 L491.7 235.41" stroke="#ff4040" stroke-width="0.7" fill="none" stroke-dasharray="0.9 1.1"/>
</g>
<g clip-path="url(#hclip)">
<circle cx="396.71" cy="317.29" r="1.85" fill="#2b2be6"/><circle cx="398.9" cy="316.23" r="1.85" fill="#2b2be6"/><circle cx="401.09" cy="316.38" r="1.85" fill="#2b2be6"/><circle cx="403.28" cy="316.22" r="1.85" fill="#2b2be6"/><circle cx="405.47" cy="316.22" r="1.85" fill="#2b2be6"/><circle cx="407.65" cy="315.51" r="1.85" fill="#2b2be6"/><circle cx="409.84" cy="315.45" r="1.85" fill="#2b2be6"/><circle cx="412.03" cy="314.5" r="1.85" fill="#2b2be6"/><circle cx="414.22" cy="313.64" r="1.85" fill="#2b2be6"/><circle cx="416.41" cy="313.92" r="1.85" fill="#2b2be6"/><circle cx="418.6" cy="313.4" r="1.85" fill="#2b2be6"/><circle cx="420.79" cy="312.35" r="1.85" fill="#2b2be6"/><circle cx="422.97" cy="311.44" r="1.85" fill="#2b2be6"/><circle cx="425.16" cy="309.74" r="1.85" fill="#2b2be6"/><circle cx="427.35" cy="309.78" r="1.85" fill="#2b2be6"/><circle cx="429.54" cy="305.7" r="1.85" fill="#2b2be6"/><circle cx="431.73" cy="302.87" r="1.85" fill="#2b2be6"/><circle cx="433.92" cy="298.42" r="1.85" fill="#2b2be6"/><circle cx="436.11" cy="291.59" r="1.85" fill="#2b2be6"/><circle cx="438.29" cy="271.21" r="1.85" fill="#2b2be6"/><circle cx="440.48" cy="255.65" r="1.85" fill="#2b2be6"/><circle cx="442.67" cy="272.68" r="1.85" fill="#2b2be6"/><circle cx="444.86" cy="287.82" r="1.85" fill="#2b2be6"/><circle cx="447.05" cy="296.68" r="1.85" fill="#2b2be6"/><circle cx="449.24" cy="302.65" r="1.85" fill="#2b2be6"/><circle cx="451.43" cy="305.46" r="1.85" fill="#2b2be6"/><circle cx="453.61" cy="309.09" r="1.85" fill="#2b2be6"/><circle cx="455.8" cy="309.55" r="1.85" fill="#2b2be6"/><circle cx="457.99" cy="312.63" r="1.85" fill="#2b2be6"/><circle cx="460.18" cy="311.71" r="1.85" fill="#2b2be6"/><circle cx="462.37" cy="312.35" r="1.85" fill="#2b2be6"/><circle cx="464.56" cy="313.23" r="1.85" fill="#2b2be6"/><circle cx="466.75" cy="314.59" r="1.85" fill="#2b2be6"/><circle cx="468.93" cy="314.83" r="1.85" fill="#2b2be6"/><circle cx="471.12" cy="314.93" r="1.85" fill="#2b2be6"/><circle cx="473.31" cy="315.75" r="1.85" fill="#2b2be6"/><circle cx="475.5" cy="315.65" r="1.85" fill="#2b2be6"/><circle cx="477.69" cy="316.05" r="1.85" fill="#2b2be6"/><circle cx="479.88" cy="315.83" r="1.85" fill="#2b2be6"/><circle cx="482.07" cy="316.62" r="1.85" fill="#2b2be6"/><circle cx="484.26" cy="316.82" r="1.85" fill="#2b2be6"/><circle cx="486.44" cy="316.7" r="1.85" fill="#2b2be6"/><circle cx="488.63" cy="316.74" r="1.85" fill="#2b2be6"/><circle cx="490.82" cy="317.23" r="1.85" fill="#2b2be6"/>
<path d="M396.57 316.68 L396.82 316.66 L397.06 316.64 L397.31 316.62 L397.56 316.6 L397.81 316.57 L398.05 316.55 L398.3 316.53 L398.55 316.51 L398.79 316.49 L399.04 316.46 L399.29 316.44 L399.54 316.42 L399.78 316.39 L400.03 316.37 L400.28 316.34 L400.52 316.32 L400.77 316.3 L401.02 316.27 L401.26 316.24 L401.51 316.22 L401.76 316.19 L402.01 316.17 L402.25 316.14 L402.5 316.11 L402.75 316.09 L402.99 316.06 L403.24 316.03 L403.49 316 L403.74 315.97 L403.98 315.94 L404.23 315.91 L404.48 315.88 L404.72 315.85 L404.97 315.82 L405.22 315.79 L405.47 315.76 L405.71 315.73 L405.96 315.69 L406.21 315.66 L406.45 315.63 L406.7 315.59 L406.95 315.56 L407.2 315.52 L407.44 315.49 L407.69 315.45 L407.94 315.41 L408.18 315.38 L408.43 315.34 L408.68 315.3 L408.92 315.26 L409.17 315.22 L409.42 315.18 L409.67 315.14 L409.91 315.1 L410.16 315.06 L410.41 315.01 L410.65 314.97 L410.9 314.93 L411.15 314.88 L411.4 314.84 L411.64 314.79 L411.89 314.74 L412.14 314.69 L412.38 314.64 L412.63 314.59 L412.88 314.54 L413.13 314.49 L413.37 314.44 L413.62 314.39 L413.87 314.33 L414.11 314.28 L414.36 314.22 L414.61 314.16 L414.86 314.1 L415.1 314.04 L415.35 313.98 L415.6 313.92 L415.84 313.86 L416.09 313.79 L416.34 313.72 L416.59 313.66 L416.83 313.59 L417.08 313.52 L417.33 313.45 L417.57 313.37 L417.82 313.3 L418.07 313.22 L418.31 313.14 L418.56 313.06 L418.81 312.98 L419.06 312.9 L419.3 312.81 L419.55 312.73 L419.8 312.64 L420.04 312.55 L420.29 312.45 L420.54 312.36 L420.79 312.26 L421.03 312.16 L421.28 312.05 L421.53 311.95 L421.77 311.84 L422.02 311.73 L422.27 311.62 L422.52 311.5 L422.76 311.38 L423.01 311.25 L423.26 311.13 L423.5 311 L423.75 310.86 L424 310.72 L424.25 310.58 L424.49 310.43 L424.74 310.28 L424.99 310.13 L425.23 309.97 L425.48 309.8 L425.73 309.63 L425.97 309.45 L426.22 309.27 L426.47 309.08 L426.72 308.89 L426.96 308.69 L427.21 308.48 L427.46 308.26 L427.7 308.04 L427.95 307.81 L428.2 307.57 L428.45 307.32 L428.69 307.06 L428.94 306.79 L429.19 306.5 L429.43 306.21 L429.68 305.91 L429.93 305.59 L430.18 305.26 L430.42 304.91 L430.67 304.55 L430.92 304.17 L431.16 303.77 L431.41 303.35 L431.66 302.92 L431.91 302.46 L432.15 301.97 L432.4 301.46 L432.65 300.93 L432.89 300.36 L433.14 299.77 L433.39 299.13 L433.63 298.47 L433.88 297.76 L434.13 297 L434.38 296.2 L434.62 295.35 L434.87 294.45 L435.12 293.48 L435.36 292.45 L435.61 291.34 L435.86 290.16 L436.11 288.9 L436.35 287.54 L436.6 286.09 L436.85 284.54 L437.09 282.88 L437.34 281.12 L437.59 279.24 L437.84 277.25 L438.08 275.17 L438.33 273 L438.58 270.79 L438.82 268.56 L439.07 266.38 L439.32 264.32 L439.57 262.47 L439.81 260.93 L440.06 259.79 L440.31 259.14 L440.55 259.02 L440.8 259.45 L441.05 260.38 L441.3 261.76 L441.54 263.49 L441.79 265.47 L442.04 267.61 L442.28 269.83 L442.53 272.06 L442.78 274.25 L443.02 276.37 L443.27 278.4 L443.52 280.32 L443.77 282.14 L444.01 283.84 L444.26 285.44 L444.51 286.93 L444.75 288.33 L445 289.63 L445.25 290.85 L445.5 291.98 L445.74 293.04 L445.99 294.04 L446.24 294.97 L446.48 295.85 L446.73 296.67 L446.98 297.44 L447.23 298.17 L447.47 298.85 L447.72 299.5 L447.97 300.11 L448.21 300.69 L448.46 301.24 L448.71 301.76 L448.96 302.25 L449.2 302.72 L449.45 303.17 L449.7 303.59 L449.94 304 L450.19 304.39 L450.44 304.76 L450.68 305.11 L450.93 305.45 L451.18 305.77 L451.43 306.08 L451.67 306.38 L451.92 306.67 L452.17 306.94 L452.41 307.21 L452.66 307.46 L452.91 307.7 L453.16 307.94 L453.4 308.17 L453.65 308.39 L453.9 308.6 L454.14 308.8 L454.39 309 L454.64 309.19 L454.89 309.38 L455.13 309.56 L455.38 309.73 L455.63 309.9 L455.87 310.06 L456.12 310.22 L456.37 310.37 L456.62 310.52 L456.86 310.66 L457.11 310.8 L457.36 310.94 L457.6 311.07 L457.85 311.2 L458.1 311.32 L458.34 311.45 L458.59 311.57 L458.84 311.68 L459.09 311.79 L459.33 311.9 L459.58 312.01 L459.83 312.11 L460.07 312.22 L460.32 312.31 L460.57 312.41 L460.82 312.51 L461.06 312.6 L461.31 312.69 L461.56 312.78 L461.8 312.86 L462.05 312.95 L462.3 313.03 L462.55 313.11 L462.79 313.19 L463.04 313.27 L463.29 313.34 L463.53 313.42 L463.78 313.49 L464.03 313.56 L464.28 313.63 L464.52 313.7 L464.77 313.76 L465.02 313.83 L465.26 313.89 L465.51 313.95 L465.76 314.02 L466.01 314.08 L466.25 314.14 L466.5 314.19 L466.75 314.25 L466.99 314.31 L467.24 314.36 L467.49 314.42 L467.73 314.47 L467.98 314.52 L468.23 314.57 L468.48 314.62 L468.72 314.67 L468.97 314.72 L469.22 314.77 L469.46 314.82 L469.71 314.86 L469.96 314.91 L470.21 314.95 L470.45 315 L470.7 315.04 L470.95 315.08 L471.19 315.12 L471.44 315.16 L471.69 315.2 L471.94 315.24 L472.18 315.28 L472.43 315.32 L472.68 315.36 L472.92 315.4 L473.17 315.44 L473.42 315.47 L473.67 315.51 L473.91 315.54 L474.16 315.58 L474.41 315.61 L474.65 315.65 L474.9 315.68 L475.15 315.71 L475.39 315.74 L475.64 315.78 L475.89 315.81 L476.14 315.84 L476.38 315.87 L476.63 315.9 L476.88 315.93 L477.12 315.96 L477.37 315.99 L477.62 316.02 L477.87 316.05 L478.11 316.07 L478.36 316.1 L478.61 316.13 L478.85 316.16 L479.1 316.18 L479.35 316.21 L479.6 316.23 L479.84 316.26 L480.09 316.28 L480.34 316.31 L480.58 316.33 L480.83 316.36 L481.08 316.38 L481.33 316.41 L481.57 316.43 L481.82 316.45 L482.07 316.48 L482.31 316.5 L482.56 316.52 L482.81 316.54 L483.05 316.56 L483.3 316.59 L483.55 316.61 L483.8 316.63 L484.04 316.65 L484.29 316.67 L484.54 316.69 L484.78 316.71 L485.03 316.73 L485.28 316.75 L485.53 316.77 L485.77 316.79 L486.02 316.81 L486.27 316.83 L486.51 316.85 L486.76 316.86 L487.01 316.88 L487.26 316.9 L487.5 316.92 L487.75 316.94 L488 316.95 L488.24 316.97 L488.49 316.99 L488.74 317.01 L488.99 317.02 L489.23 317.04 L489.48 317.06 L489.73 317.07 L489.97 317.09 L490.22 317.1 L490.47 317.12 L490.72 317.14 L490.96 317.15 L491.21 317.17 L491.46 317.18 L491.7 317.2" stroke="#ff4040" stroke-width="0.7" fill="none" stroke-dasharray="0.9 1.1"/>
</g>
<rect x="398.4" y="157.6" width="90.1" height="83.6" fill="none" stroke="#555" stroke-width="0.9"/>
<rect x="398.4" y="242.8" width="90.1" height="83.8" fill="none" stroke="#555" stroke-width="0.9"/>
<line x1="398.4" y1="236.5" x2="400.6" y2="236.5" stroke="#444" stroke-width="0.7"/>
<line x1="488.5" y1="236.5" x2="486.3" y2="236.5" stroke="#444" stroke-width="0.7"/>
<line x1="398.4" y1="226.05" x2="399.8" y2="226.05" stroke="#444" stroke-width="0.7"/>
<line x1="488.5" y1="226.05" x2="487.1" y2="226.05" stroke="#444" stroke-width="0.7"/>
<line x1="398.4" y1="215.6" x2="400.6" y2="215.6" stroke="#444" stroke-width="0.7"/>
<line x1="488.5" y1="215.6" x2="486.3" y2="215.6" stroke="#444" stroke-width="0.7"/>
<line x1="398.4" y1="205.15" x2="399.8" y2="205.15" stroke="#444" stroke-width="0.7"/>
<line x1="488.5" y1="205.15" x2="487.1" y2="205.15" stroke="#444" stroke-width="0.7"/>
<line x1="398.4" y1="194.7" x2="400.6" y2="194.7" stroke="#444" stroke-width="0.7"/>
<line x1="488.5" y1="194.7" x2="486.3" y2="194.7" stroke="#444" stroke-width="0.7"/>
<line x1="398.4" y1="184.25" x2="399.8" y2="184.25" stroke="#444" stroke-width="0.7"/>
<line x1="488.5" y1="184.25" x2="487.1" y2="184.25" stroke="#444" stroke-width="0.7"/>
<line x1="398.4" y1="173.8" x2="400.6" y2="173.8" stroke="#444" stroke-width="0.7"/>
<line x1="488.5" y1="173.8" x2="486.3" y2="173.8" stroke="#444" stroke-width="0.7"/>
<text x="393.8" y="239.6" font-size="8.8" text-anchor="end" fill="#242424">0.0</text>
<text x="393.8" y="218.7" font-size="8.8" text-anchor="end" fill="#242424">0.4</text>
<text x="393.8" y="197.8" font-size="8.8" text-anchor="end" fill="#242424">0.8</text>
<text x="393.8" y="176.9" font-size="8.8" text-anchor="end" fill="#242424">1.2</text>
<line x1="417.75" y1="241.2" x2="417.75" y2="239.8" stroke="#444" stroke-width="0.7"/>
<line x1="417.75" y1="157.6" x2="417.75" y2="159" stroke="#444" stroke-width="0.7"/>
<line x1="435.4" y1="241.2" x2="435.4" y2="239" stroke="#444" stroke-width="0.7"/>
<line x1="435.4" y1="157.6" x2="435.4" y2="159.8" stroke="#444" stroke-width="0.7"/>
<line x1="453.05" y1="241.2" x2="453.05" y2="239.8" stroke="#444" stroke-width="0.7"/>
<line x1="453.05" y1="157.6" x2="453.05" y2="159" stroke="#444" stroke-width="0.7"/>
<line x1="470.7" y1="241.2" x2="470.7" y2="239" stroke="#444" stroke-width="0.7"/>
<line x1="470.7" y1="157.6" x2="470.7" y2="159.8" stroke="#444" stroke-width="0.7"/>
<line x1="398.4" y1="322" x2="400.6" y2="322" stroke="#444" stroke-width="0.7"/>
<line x1="488.5" y1="322" x2="486.3" y2="322" stroke="#444" stroke-width="0.7"/>
<line x1="398.4" y1="311.5" x2="399.8" y2="311.5" stroke="#444" stroke-width="0.7"/>
<line x1="488.5" y1="311.5" x2="487.1" y2="311.5" stroke="#444" stroke-width="0.7"/>
<line x1="398.4" y1="301" x2="400.6" y2="301" stroke="#444" stroke-width="0.7"/>
<line x1="488.5" y1="301" x2="486.3" y2="301" stroke="#444" stroke-width="0.7"/>
<line x1="398.4" y1="290.5" x2="399.8" y2="290.5" stroke="#444" stroke-width="0.7"/>
<line x1="488.5" y1="290.5" x2="487.1" y2="290.5" stroke="#444" stroke-width="0.7"/>
<line x1="398.4" y1="280" x2="400.6" y2="280" stroke="#444" stroke-width="0.7"/>
<line x1="488.5" y1="280" x2="486.3" y2="280" stroke="#444" stroke-width="0.7"/>
<line x1="398.4" y1="269.5" x2="399.8" y2="269.5" stroke="#444" stroke-width="0.7"/>
<line x1="488.5" y1="269.5" x2="487.1" y2="269.5" stroke="#444" stroke-width="0.7"/>
<line x1="398.4" y1="259" x2="400.6" y2="259" stroke="#444" stroke-width="0.7"/>
<line x1="488.5" y1="259" x2="486.3" y2="259" stroke="#444" stroke-width="0.7"/>
<text x="393.8" y="325.1" font-size="8.8" text-anchor="end" fill="#242424">0.0</text>
<text x="393.8" y="304.1" font-size="8.8" text-anchor="end" fill="#242424">0.5</text>
<text x="393.8" y="283.1" font-size="8.8" text-anchor="end" fill="#242424">1.0</text>
<text x="393.8" y="262.1" font-size="8.8" text-anchor="end" fill="#242424">1.5</text>
<line x1="417.75" y1="326.6" x2="417.75" y2="325.2" stroke="#444" stroke-width="0.7"/>
<line x1="417.75" y1="242.8" x2="417.75" y2="244.2" stroke="#444" stroke-width="0.7"/>
<line x1="435.4" y1="326.6" x2="435.4" y2="324.4" stroke="#444" stroke-width="0.7"/>
<line x1="435.4" y1="242.8" x2="435.4" y2="245" stroke="#444" stroke-width="0.7"/>
<line x1="453.05" y1="326.6" x2="453.05" y2="325.2" stroke="#444" stroke-width="0.7"/>
<line x1="453.05" y1="242.8" x2="453.05" y2="244.2" stroke="#444" stroke-width="0.7"/>
<line x1="470.7" y1="326.6" x2="470.7" y2="324.4" stroke="#444" stroke-width="0.7"/>
<line x1="470.7" y1="242.8" x2="470.7" y2="245" stroke="#444" stroke-width="0.7"/>
<text x="400.1" y="339.3" font-size="8.8" text-anchor="middle" fill="#242424">18.8</text>
<text x="435.4" y="339.3" font-size="8.8" text-anchor="middle" fill="#242424">18.9</text>
<text x="470.7" y="339.3" font-size="8.8" text-anchor="middle" fill="#242424">19.0</text>
<text x="442.5" y="353.4" font-size="8.8" text-anchor="middle" fill="#242424">Frequency (MHz)</text>
<text x="375.6" y="243" font-size="8.8" text-anchor="middle" fill="#242424" transform="rotate(-90 375.6 243)">Amplitude (mV)</text>
<text x="382.3" y="157.5" font-size="14.5" text-anchor="start" font-weight="bold" fill="#000">g</text>
<text x="382.6" y="252.5" font-size="14.5" text-anchor="start" font-weight="bold" fill="#000">h</text>
<circle cx="420.1" cy="162.8" r="1.6" fill="#2b2be6"/>
<text x="425.7" y="165.5" font-size="7.6" text-anchor="start" fill="#242424">Data</text>
<line x1="415.2" y1="172.4" x2="424.4" y2="172.4" stroke="#ff4040" stroke-width="0.8" stroke-dasharray="0.9 1.1"/>
<text x="425.7" y="175.4" font-size="7.6" text-anchor="start" fill="#242424">Fitting</text>
<text x="439.4" y="193.9" font-size="7.0" text-anchor="start" fill="#242424"><tspan font-style="italic">v</tspan><tspan font-size="4.2" dy="1.4">RF</tspan><tspan dy="-1.4"> = 1 mV</tspan></text>
<text x="439.4" y="204.2" font-size="6.9" text-anchor="start" fill="#242424"><tspan font-style="italic">Q</tspan> = 3315 ± 115</text>
<text x="443.6" y="252.6" font-size="6.9" text-anchor="start" fill="#242424"><tspan font-style="italic">V</tspan><tspan font-size="4.2" dy="1.4">GS</tspan><tspan dy="-1.4"> = 1 V</tspan></text>
<text x="444.8" y="263.1" font-size="6.8" text-anchor="start" fill="#242424"><tspan font-style="italic">Q</tspan> = 997 ± 121</text>
<defs><radialGradient id="ball" cx="0.38" cy="0.35" r="0.7"><stop offset="0" stop-color="#b8c4ff"/><stop offset="0.35" stop-color="#3c48f0"/><stop offset="1" stop-color="#0a0ab0"/></radialGradient></defs>
<defs><clipPath id="iclip"><rect x="531" y="154.8" width="149" height="70"/></clipPath></defs>
<g clip-path="url(#iclip)">
<path d="M533.51 159.15 L533.56 159.38 L533.62 159.65 L533.68 159.96 L533.75 160.3 L533.83 160.67 L533.91 161.06 L534 161.48 L534.09 161.91 L534.18 162.37 L534.28 162.84 L534.39 163.32 L534.49 163.81 L534.6 164.3 L534.71 164.8 L534.82 165.3 L534.94 165.8 L535.05 166.3 L535.17 166.78 L535.28 167.25 L535.4 167.71 L535.51 168.17 L535.63 168.65 L535.75 169.13 L535.87 169.63 L536 170.14 L536.13 170.65 L536.26 171.16 L536.39 171.68 L536.52 172.19 L536.66 172.71 L536.8 173.22 L536.93 173.72 L537.07 174.21 L537.22 174.69 L537.36 175.16 L537.5 175.61 L537.65 176.05 L537.8 176.46 L537.94 176.86 L538.09 177.23 L538.24 177.57 L538.38 177.89 L538.53 178.18 L538.67 178.45 L538.81 178.71 L538.95 178.94 L539.1 179.17 L539.24 179.38 L539.39 179.59 L539.54 179.79 L539.69 179.98 L539.85 180.17 L540.01 180.37 L540.18 180.57 L540.35 180.77 L540.53 180.99 L540.72 181.21 L540.91 181.45 L541.11 181.71 L541.32 181.99 L541.54 182.28 L541.77 182.58 L542.01 182.89 L542.25 183.22 L542.49 183.55 L542.75 183.89 L543.01 184.23 L543.27 184.58 L543.54 184.93 L543.82 185.28 L544.1 185.63 L544.38 185.99 L544.66 186.34 L544.95 186.69 L545.24 187.03 L545.53 187.37 L545.83 187.7 L546.12 188.03 L546.42 188.34 L546.71 188.65 L547.01 188.94 L547.31 189.24 L547.62 189.54 L547.92 189.83 L548.23 190.12 L548.54 190.41 L548.86 190.69 L549.17 190.97 L549.49 191.25 L549.81 191.52 L550.14 191.79 L550.47 192.06 L550.8 192.32 L551.13 192.57 L551.46 192.82 L551.8 193.06 L552.14 193.3 L552.49 193.53 L552.83 193.76 L553.18 193.97 L553.53 194.18 L553.88 194.38 L554.23 194.57 L554.58 194.76 L554.94 194.93 L555.29 195.1 L555.65 195.26 L556.01 195.42 L556.37 195.57 L556.74 195.72 L557.11 195.87 L557.48 196.02 L557.86 196.16 L558.25 196.3 L558.65 196.45 L559.05 196.6 L559.45 196.74 L559.87 196.9 L560.29 197.05 L560.73 197.21 L561.17 197.37 L561.62 197.53 L562.08 197.69 L562.55 197.86 L563.03 198.02 L563.51 198.18 L564 198.34 L564.49 198.5 L564.99 198.67 L565.49 198.83 L566 198.99 L566.52 199.15 L567.03 199.31 L567.55 199.47 L568.07 199.64 L568.6 199.8 L569.12 199.96 L569.65 200.12 L570.17 200.28 L570.7 200.44 L571.23 200.61 L571.76 200.77 L572.3 200.93 L572.84 201.09 L573.39 201.26 L573.94 201.42 L574.5 201.58 L575.05 201.75 L575.61 201.91 L576.17 202.07 L576.74 202.24 L577.3 202.4 L577.86 202.56 L578.42 202.72 L578.98 202.88 L579.54 203.04 L580.1 203.2 L580.65 203.36 L581.2 203.52 L581.75 203.68 L582.3 203.84 L582.85 204 L583.41 204.16 L583.97 204.32 L584.54 204.48 L585.1 204.64 L585.67 204.8 L586.24 204.96 L586.8 205.12 L587.36 205.27 L587.91 205.43 L588.46 205.58 L589.01 205.74 L589.54 205.89 L590.07 206.03 L590.58 206.18 L591.09 206.32 L591.58 206.46 L592.06 206.59 L592.53 206.72 L592.97 206.85 L593.39 206.97 L593.78 207.08 L594.15 207.19 L594.5 207.29 L594.84 207.39 L595.17 207.48 L595.5 207.58 L595.81 207.67 L596.13 207.76 L596.46 207.85 L596.78 207.94 L597.12 208.04 L597.48 208.14 L597.85 208.24 L598.24 208.34 L598.65 208.45 L599.09 208.57 L599.57 208.69 L600.08 208.82 L600.61 208.96 L601.18 209.1 L601.77 209.25 L602.39 209.41 L603.03 209.58 L603.68 209.75 L604.35 209.92 L605.04 210.09 L605.74 210.27 L606.44 210.45 L607.16 210.62 L607.88 210.8 L608.6 210.97 L609.32 211.14 L610.04 211.31 L610.76 211.47 L611.47 211.63 L612.18 211.78 L612.87 211.92 L613.55 212.05 L614.22 212.18 L614.9 212.3 L615.57 212.41 L616.25 212.52 L616.92 212.63 L617.59 212.73 L618.27 212.83 L618.94 212.93 L619.61 213.02 L620.29 213.11 L620.96 213.2 L621.64 213.29 L622.31 213.37 L622.98 213.45 L623.66 213.54 L624.33 213.62 L625 213.7 L625.68 213.79 L626.35 213.87 L627.03 213.96 L627.7 214.04 L628.37 214.13 L629.05 214.21 L629.72 214.29 L630.39 214.37 L631.07 214.45 L631.74 214.53 L632.42 214.61 L633.09 214.69 L633.76 214.76 L634.44 214.84 L635.11 214.92 L635.78 214.99 L636.46 215.06 L637.13 215.13 L637.8 215.2 L638.48 215.27 L639.15 215.34 L639.83 215.41 L640.5 215.48 L641.17 215.54 L641.85 215.61 L642.52 215.67 L643.19 215.73 L643.87 215.79 L644.54 215.85 L645.22 215.91 L645.89 215.97 L646.56 216.03 L647.24 216.08 L647.91 216.14 L648.59 216.2 L649.26 216.25 L649.93 216.3 L650.61 216.36 L651.28 216.41 L651.95 216.46 L652.63 216.52 L653.3 216.57 L653.98 216.62 L654.65 216.67 L655.32 216.72 L655.98 216.77 L656.65 216.82 L657.31 216.87 L657.98 216.92 L658.64 216.97 L659.3 217.02 L659.96 217.07 L660.63 217.11 L661.29 217.16 L661.96 217.21 L662.63 217.25 L663.31 217.3 L663.99 217.34 L664.67 217.39 L665.36 217.44 L666.05 217.48 L666.75 217.53 L667.45 217.57 L668.18 217.62 L668.94 217.66 L669.74 217.71 L670.57 217.76 L671.41 217.81 L672.26 217.86 L673.13 217.91 L673.99 217.96 L674.85 218.01 L675.7 218.06 L676.54 218.11 L677.35 218.15 L678.13 218.2 L678.87 218.24 L679.58 218.28 L680.24 218.31 L680.84 218.35 L681.38 218.38 L681.86 218.4 L682.27 218.43" stroke="#ee2020" stroke-width="1.9" fill="none" stroke-dasharray="3 2.6"/>
<line x1="546.18" y1="177.42" x2="546.18" y2="189.98" stroke="#3a3af0" stroke-width="0.7"/>
<line x1="544.58" y1="177.42" x2="547.78" y2="177.42" stroke="#3a3af0" stroke-width="0.7"/>
<line x1="544.58" y1="189.98" x2="547.78" y2="189.98" stroke="#3a3af0" stroke-width="0.7"/>
<line x1="559.65" y1="184.46" x2="559.65" y2="199.68" stroke="#3a3af0" stroke-width="0.7"/>
<line x1="558.05" y1="184.46" x2="561.25" y2="184.46" stroke="#3a3af0" stroke-width="0.7"/>
<line x1="558.05" y1="199.68" x2="561.25" y2="199.68" stroke="#3a3af0" stroke-width="0.7"/>
<line x1="573.12" y1="194.55" x2="573.12" y2="202.16" stroke="#3a3af0" stroke-width="0.7"/>
<line x1="571.52" y1="194.55" x2="574.73" y2="194.55" stroke="#3a3af0" stroke-width="0.7"/>
<line x1="571.52" y1="202.16" x2="574.73" y2="202.16" stroke="#3a3af0" stroke-width="0.7"/>
<line x1="586.6" y1="200.73" x2="586.6" y2="207.96" stroke="#3a3af0" stroke-width="0.7"/>
<line x1="585" y1="200.73" x2="588.2" y2="200.73" stroke="#3a3af0" stroke-width="0.7"/>
<line x1="585" y1="207.96" x2="588.2" y2="207.96" stroke="#3a3af0" stroke-width="0.7"/>
<line x1="600.08" y1="209.01" x2="600.08" y2="210.91" stroke="#3a3af0" stroke-width="0.7"/>
<line x1="598.48" y1="209.01" x2="601.68" y2="209.01" stroke="#3a3af0" stroke-width="0.7"/>
<line x1="598.48" y1="210.91" x2="601.68" y2="210.91" stroke="#3a3af0" stroke-width="0.7"/>
<line x1="613.55" y1="212.34" x2="613.55" y2="214.24" stroke="#3a3af0" stroke-width="0.7"/>
<line x1="611.95" y1="212.34" x2="615.15" y2="212.34" stroke="#3a3af0" stroke-width="0.7"/>
<line x1="611.95" y1="214.24" x2="615.15" y2="214.24" stroke="#3a3af0" stroke-width="0.7"/>
<line x1="627.03" y1="213.77" x2="627.03" y2="215.29" stroke="#3a3af0" stroke-width="0.7"/>
<line x1="625.43" y1="213.77" x2="628.63" y2="213.77" stroke="#3a3af0" stroke-width="0.7"/>
<line x1="625.43" y1="215.29" x2="628.63" y2="215.29" stroke="#3a3af0" stroke-width="0.7"/>
<line x1="640.5" y1="214.53" x2="640.5" y2="216.05" stroke="#3a3af0" stroke-width="0.7"/>
<line x1="638.9" y1="214.53" x2="642.1" y2="214.53" stroke="#3a3af0" stroke-width="0.7"/>
<line x1="638.9" y1="216.05" x2="642.1" y2="216.05" stroke="#3a3af0" stroke-width="0.7"/>
<line x1="653.98" y1="215.38" x2="653.98" y2="216.91" stroke="#3a3af0" stroke-width="0.7"/>
<line x1="652.38" y1="215.38" x2="655.58" y2="215.38" stroke="#3a3af0" stroke-width="0.7"/>
<line x1="652.38" y1="216.91" x2="655.58" y2="216.91" stroke="#3a3af0" stroke-width="0.7"/>
<line x1="667.45" y1="217.76" x2="667.45" y2="219.28" stroke="#3a3af0" stroke-width="0.7"/>
<line x1="665.85" y1="217.76" x2="669.05" y2="217.76" stroke="#3a3af0" stroke-width="0.7"/>
<line x1="665.85" y1="219.28" x2="669.05" y2="219.28" stroke="#3a3af0" stroke-width="0.7"/>
<circle cx="546.18" cy="183.7" r="2.9" fill="url(#ball)"/>
<circle cx="559.65" cy="192.07" r="2.9" fill="url(#ball)"/>
<circle cx="573.12" cy="198.35" r="2.9" fill="url(#ball)"/>
<circle cx="586.6" cy="204.35" r="2.9" fill="url(#ball)"/>
<circle cx="600.08" cy="209.96" r="2.9" fill="url(#ball)"/>
<circle cx="613.55" cy="213.29" r="2.9" fill="url(#ball)"/>
<circle cx="627.03" cy="214.53" r="2.9" fill="url(#ball)"/>
<circle cx="640.5" cy="215.29" r="2.9" fill="url(#ball)"/>
<circle cx="653.98" cy="216.14" r="2.9" fill="url(#ball)"/>
<circle cx="667.45" cy="218.52" r="2.9" fill="url(#ball)"/>
<line x1="535.5" y1="154.6" x2="535.5" y2="166.5" stroke="#3a3af0" stroke-width="0.7"/>
<line x1="533.9" y1="154.6" x2="537.1" y2="154.6" stroke="#3a3af0" stroke-width="0.7"/>
<line x1="533.9" y1="166.5" x2="537.1" y2="166.5" stroke="#3a3af0" stroke-width="0.7"/>
<path d="M535.5 156.6 L536.9 159.4 L540 159.5 L537.6 161.5 L538.5 164.5 L535.5 162.8 L532.5 164.5 L533.4 161.5 L531 159.5 L534.1 159.4 Z" fill="#f08060"/>
</g>
<circle cx="535.2" cy="161.8" r="6.2" fill="none" stroke="#7a35b0" stroke-width="1.4" stroke-dasharray="2.4 1.3"/>
<rect x="530.5" y="154.3" width="150" height="71" fill="none" stroke="#444" stroke-width="0.9"/>
<line x1="546.18" y1="225.3" x2="546.18" y2="223.9" stroke="#444" stroke-width="0.7"/>
<line x1="546.18" y1="154.3" x2="546.18" y2="155.7" stroke="#444" stroke-width="0.7"/>
<line x1="559.65" y1="225.3" x2="559.65" y2="223.1" stroke="#444" stroke-width="0.7"/>
<line x1="559.65" y1="154.3" x2="559.65" y2="156.5" stroke="#444" stroke-width="0.7"/>
<line x1="573.12" y1="225.3" x2="573.12" y2="223.9" stroke="#444" stroke-width="0.7"/>
<line x1="573.12" y1="154.3" x2="573.12" y2="155.7" stroke="#444" stroke-width="0.7"/>
<line x1="586.6" y1="225.3" x2="586.6" y2="223.1" stroke="#444" stroke-width="0.7"/>
<line x1="586.6" y1="154.3" x2="586.6" y2="156.5" stroke="#444" stroke-width="0.7"/>
<line x1="600.08" y1="225.3" x2="600.08" y2="223.9" stroke="#444" stroke-width="0.7"/>
<line x1="600.08" y1="154.3" x2="600.08" y2="155.7" stroke="#444" stroke-width="0.7"/>
<line x1="613.55" y1="225.3" x2="613.55" y2="223.1" stroke="#444" stroke-width="0.7"/>
<line x1="613.55" y1="154.3" x2="613.55" y2="156.5" stroke="#444" stroke-width="0.7"/>
<line x1="627.03" y1="225.3" x2="627.03" y2="223.9" stroke="#444" stroke-width="0.7"/>
<line x1="627.03" y1="154.3" x2="627.03" y2="155.7" stroke="#444" stroke-width="0.7"/>
<line x1="640.5" y1="225.3" x2="640.5" y2="223.1" stroke="#444" stroke-width="0.7"/>
<line x1="640.5" y1="154.3" x2="640.5" y2="156.5" stroke="#444" stroke-width="0.7"/>
<line x1="653.98" y1="225.3" x2="653.98" y2="223.9" stroke="#444" stroke-width="0.7"/>
<line x1="653.98" y1="154.3" x2="653.98" y2="155.7" stroke="#444" stroke-width="0.7"/>
<line x1="667.45" y1="225.3" x2="667.45" y2="223.1" stroke="#444" stroke-width="0.7"/>
<line x1="667.45" y1="154.3" x2="667.45" y2="156.5" stroke="#444" stroke-width="0.7"/>
<line x1="680.93" y1="225.3" x2="680.93" y2="223.9" stroke="#444" stroke-width="0.7"/>
<line x1="680.93" y1="154.3" x2="680.93" y2="155.7" stroke="#444" stroke-width="0.7"/>
<line x1="530.5" y1="213.39" x2="531.9" y2="213.39" stroke="#444" stroke-width="0.7"/>
<line x1="680.5" y1="213.39" x2="679.1" y2="213.39" stroke="#444" stroke-width="0.7"/>
<line x1="530.5" y1="203.87" x2="532.7" y2="203.87" stroke="#444" stroke-width="0.7"/>
<line x1="680.5" y1="203.87" x2="678.3" y2="203.87" stroke="#444" stroke-width="0.7"/>
<line x1="530.5" y1="194.36" x2="531.9" y2="194.36" stroke="#444" stroke-width="0.7"/>
<line x1="680.5" y1="194.36" x2="679.1" y2="194.36" stroke="#444" stroke-width="0.7"/>
<line x1="530.5" y1="184.84" x2="532.7" y2="184.84" stroke="#444" stroke-width="0.7"/>
<line x1="680.5" y1="184.84" x2="678.3" y2="184.84" stroke="#444" stroke-width="0.7"/>
<line x1="530.5" y1="175.33" x2="531.9" y2="175.33" stroke="#444" stroke-width="0.7"/>
<line x1="680.5" y1="175.33" x2="679.1" y2="175.33" stroke="#444" stroke-width="0.7"/>
<line x1="530.5" y1="165.81" x2="532.7" y2="165.81" stroke="#444" stroke-width="0.7"/>
<line x1="680.5" y1="165.81" x2="678.3" y2="165.81" stroke="#444" stroke-width="0.7"/>
<line x1="530.5" y1="156.3" x2="531.9" y2="156.3" stroke="#444" stroke-width="0.7"/>
<line x1="680.5" y1="156.3" x2="679.1" y2="156.3" stroke="#444" stroke-width="0.7"/>
<text x="526" y="226" font-size="8.8" text-anchor="end" fill="#242424">0</text>
<text x="526" y="206.97" font-size="8.8" text-anchor="end" fill="#242424">1000</text>
<text x="526" y="187.94" font-size="8.8" text-anchor="end" fill="#242424">2000</text>
<text x="526" y="168.91" font-size="8.8" text-anchor="end" fill="#242424">3000</text>
<text x="532.7" y="235.8" font-size="8.8" text-anchor="middle" fill="#242424">0</text>
<text x="559.65" y="235.8" font-size="8.8" text-anchor="middle" fill="#242424">10</text>
<text x="586.6" y="235.8" font-size="8.8" text-anchor="middle" fill="#242424">20</text>
<text x="613.55" y="235.8" font-size="8.8" text-anchor="middle" fill="#242424">30</text>
<text x="640.5" y="235.8" font-size="8.8" text-anchor="middle" fill="#242424">40</text>
<text x="667.45" y="235.8" font-size="8.8" text-anchor="middle" fill="#242424">50</text>
<text x="604.8" y="247.2" font-size="8.8" text-anchor="middle" fill="#242424"><tspan font-style="italic">v</tspan><tspan font-size="5.6" font-style="italic" dy="1.8">RF</tspan><tspan dy="-1.8"> (mV)</tspan></text>
<text x="499.5" y="188.5" font-size="10" text-anchor="middle" font-style="italic" fill="#242424" transform="rotate(-90 499.5 188.5)">Q</text>
<text x="505.5" y="156.3" font-size="14.5" text-anchor="start" font-weight="bold" fill="#000">i</text>
<circle cx="635.2" cy="161.2" r="2.9" fill="url(#ball)"/>
<text x="649.9" y="164.2" font-size="7.7" text-anchor="start" fill="#242424">Data</text>
<line x1="624.6" y1="172.1" x2="647.2" y2="172.1" stroke="#ee2020" stroke-width="1.9" stroke-dasharray="3 2.6"/>
<text x="649.3" y="175.1" font-size="7.7" text-anchor="start" fill="#242424">Fitting</text>
<text x="624.6" y="189.4" font-size="7.2" text-anchor="start" fill="#242424"><tspan font-style="italic">V</tspan><tspan font-size="4.6" dy="1.6">GS</tspan><tspan dy="-1.6"> = 1 V</tspan></text>
<defs><clipPath id="jclip"><rect x="530.4" y="256.9" width="149.3" height="71"/></clipPath></defs>
<g clip-path="url(#jclip)">
<path d="M529.9 265.26 L530.31 265.37 L530.79 265.5 L531.34 265.64 L531.94 265.8 L532.6 265.97 L533.3 266.15 L534.05 266.35 L534.83 266.55 L535.64 266.76 L536.48 266.98 L537.33 267.21 L538.2 267.44 L539.07 267.67 L539.95 267.9 L540.82 268.14 L541.68 268.37 L542.53 268.61 L543.36 268.83 L544.16 269.06 L544.93 269.28 L545.68 269.49 L546.43 269.71 L547.18 269.93 L547.94 270.15 L548.69 270.37 L549.44 270.6 L550.19 270.82 L550.94 271.05 L551.69 271.27 L552.44 271.5 L553.2 271.73 L553.95 271.96 L554.7 272.2 L555.45 272.43 L556.2 272.67 L556.95 272.91 L557.71 273.14 L558.46 273.38 L559.21 273.63 L559.96 273.87 L560.71 274.11 L561.46 274.36 L562.21 274.6 L562.97 274.84 L563.72 275.09 L564.47 275.33 L565.22 275.58 L565.97 275.83 L566.72 276.08 L567.47 276.33 L568.23 276.58 L568.98 276.84 L569.73 277.1 L570.48 277.36 L571.23 277.63 L571.98 277.9 L572.74 278.18 L573.49 278.46 L574.24 278.74 L574.99 279.04 L575.74 279.33 L576.49 279.64 L577.24 279.95 L578 280.27 L578.75 280.6 L579.5 280.93 L580.25 281.26 L581 281.6 L581.75 281.94 L582.5 282.28 L583.26 282.63 L584.01 282.97 L584.76 283.31 L585.51 283.65 L586.26 283.99 L587.01 284.33 L587.77 284.66 L588.52 284.99 L589.27 285.32 L590.02 285.64 L590.77 285.95 L591.52 286.27 L592.27 286.58 L593.03 286.89 L593.78 287.2 L594.53 287.51 L595.28 287.81 L596.03 288.12 L596.78 288.42 L597.53 288.72 L598.29 289.02 L599.04 289.32 L599.79 289.62 L600.54 289.92 L601.29 290.21 L602.04 290.5 L602.8 290.8 L603.55 291.09 L604.3 291.38 L605.05 291.66 L605.8 291.95 L606.55 292.23 L607.3 292.51 L608.06 292.79 L608.81 293.07 L609.56 293.34 L610.31 293.61 L611.06 293.89 L611.81 294.16 L612.56 294.43 L613.32 294.7 L614.07 294.96 L614.82 295.23 L615.57 295.5 L616.32 295.77 L617.07 296.04 L617.83 296.3 L618.58 296.57 L619.33 296.85 L620.08 297.12 L620.83 297.39 L621.58 297.67 L622.33 297.94 L623.09 298.22 L623.84 298.5 L624.59 298.78 L625.34 299.06 L626.09 299.34 L626.84 299.62 L627.59 299.9 L628.35 300.17 L629.1 300.45 L629.85 300.73 L630.6 301 L631.35 301.27 L632.1 301.53 L632.86 301.8 L633.61 302.06 L634.36 302.32 L635.11 302.57 L635.86 302.82 L636.61 303.07 L637.36 303.31 L638.12 303.55 L638.87 303.79 L639.62 304.03 L640.37 304.26 L641.12 304.5 L641.87 304.73 L642.62 304.96 L643.38 305.18 L644.13 305.41 L644.88 305.63 L645.63 305.85 L646.38 306.07 L647.13 306.29 L647.89 306.51 L648.64 306.73 L649.39 306.95 L650.14 307.16 L650.89 307.38 L651.64 307.59 L652.39 307.8 L653.15 308.01 L653.9 308.21 L654.65 308.42 L655.4 308.62 L656.15 308.82 L656.9 309.03 L657.65 309.22 L658.41 309.42 L659.16 309.62 L659.91 309.82 L660.66 310.01 L661.41 310.21 L662.16 310.4 L662.92 310.6 L663.67 310.79 L664.42 310.99 L665.17 311.18 L665.94 311.38 L666.74 311.58 L667.57 311.79 L668.42 312 L669.28 312.22 L670.15 312.44 L671.03 312.66 L671.9 312.87 L672.77 313.09 L673.62 313.3 L674.46 313.5 L675.27 313.7 L676.05 313.89 L676.8 314.07 L677.5 314.25 L678.16 314.41 L678.76 314.56 L679.31 314.69 L679.79 314.81 L680.2 314.91" stroke="#ee2020" stroke-width="1.9" fill="none" stroke-dasharray="3 2.6"/>
<line x1="537.41" y1="261.82" x2="537.41" y2="277.89" stroke="#3a3af0" stroke-width="0.7"/>
<line x1="535.81" y1="261.82" x2="539.01" y2="261.82" stroke="#3a3af0" stroke-width="0.7"/>
<line x1="535.81" y1="277.89" x2="539.01" y2="277.89" stroke="#3a3af0" stroke-width="0.7"/>
<line x1="544.93" y1="262.96" x2="544.93" y2="277.89" stroke="#3a3af0" stroke-width="0.7"/>
<line x1="543.33" y1="262.96" x2="546.53" y2="262.96" stroke="#3a3af0" stroke-width="0.7"/>
<line x1="543.33" y1="277.89" x2="546.53" y2="277.89" stroke="#3a3af0" stroke-width="0.7"/>
<line x1="552.44" y1="267.27" x2="552.44" y2="276.45" stroke="#3a3af0" stroke-width="0.7"/>
<line x1="550.84" y1="267.27" x2="554.04" y2="267.27" stroke="#3a3af0" stroke-width="0.7"/>
<line x1="550.84" y1="276.45" x2="554.04" y2="276.45" stroke="#3a3af0" stroke-width="0.7"/>
<line x1="559.96" y1="261.82" x2="559.96" y2="287.07" stroke="#3a3af0" stroke-width="0.7"/>
<line x1="558.36" y1="261.82" x2="561.56" y2="261.82" stroke="#3a3af0" stroke-width="0.7"/>
<line x1="558.36" y1="287.07" x2="561.56" y2="287.07" stroke="#3a3af0" stroke-width="0.7"/>
<line x1="567.48" y1="265.55" x2="567.48" y2="278.17" stroke="#3a3af0" stroke-width="0.7"/>
<line x1="565.88" y1="265.55" x2="569.08" y2="265.55" stroke="#3a3af0" stroke-width="0.7"/>
<line x1="565.88" y1="278.17" x2="569.08" y2="278.17" stroke="#3a3af0" stroke-width="0.7"/>
<line x1="574.99" y1="275.02" x2="574.99" y2="285.35" stroke="#3a3af0" stroke-width="0.7"/>
<line x1="573.39" y1="275.02" x2="576.59" y2="275.02" stroke="#3a3af0" stroke-width="0.7"/>
<line x1="573.39" y1="285.35" x2="576.59" y2="285.35" stroke="#3a3af0" stroke-width="0.7"/>
<line x1="582.5" y1="279.04" x2="582.5" y2="285.92" stroke="#3a3af0" stroke-width="0.7"/>
<line x1="580.9" y1="279.04" x2="584.11" y2="279.04" stroke="#3a3af0" stroke-width="0.7"/>
<line x1="580.9" y1="285.92" x2="584.11" y2="285.92" stroke="#3a3af0" stroke-width="0.7"/>
<line x1="590.02" y1="283.63" x2="590.02" y2="297.4" stroke="#3a3af0" stroke-width="0.7"/>
<line x1="588.42" y1="283.63" x2="591.62" y2="283.63" stroke="#3a3af0" stroke-width="0.7"/>
<line x1="588.42" y1="297.4" x2="591.62" y2="297.4" stroke="#3a3af0" stroke-width="0.7"/>
<line x1="597.53" y1="288.22" x2="597.53" y2="292.81" stroke="#3a3af0" stroke-width="0.7"/>
<line x1="595.93" y1="288.22" x2="599.13" y2="288.22" stroke="#3a3af0" stroke-width="0.7"/>
<line x1="595.93" y1="292.81" x2="599.13" y2="292.81" stroke="#3a3af0" stroke-width="0.7"/>
<line x1="605.05" y1="290.8" x2="605.05" y2="295.39" stroke="#3a3af0" stroke-width="0.7"/>
<line x1="603.45" y1="290.8" x2="606.65" y2="290.8" stroke="#3a3af0" stroke-width="0.7"/>
<line x1="603.45" y1="295.39" x2="606.65" y2="295.39" stroke="#3a3af0" stroke-width="0.7"/>
<line x1="612.56" y1="291.09" x2="612.56" y2="299.13" stroke="#3a3af0" stroke-width="0.7"/>
<line x1="610.96" y1="291.09" x2="614.16" y2="291.09" stroke="#3a3af0" stroke-width="0.7"/>
<line x1="610.96" y1="299.13" x2="614.16" y2="299.13" stroke="#3a3af0" stroke-width="0.7"/>
<line x1="620.08" y1="295.11" x2="620.08" y2="302" stroke="#3a3af0" stroke-width="0.7"/>
<line x1="618.48" y1="295.11" x2="621.68" y2="295.11" stroke="#3a3af0" stroke-width="0.7"/>
<line x1="618.48" y1="302" x2="621.68" y2="302" stroke="#3a3af0" stroke-width="0.7"/>
<line x1="627.6" y1="297.98" x2="627.6" y2="304.87" stroke="#3a3af0" stroke-width="0.7"/>
<line x1="626" y1="297.98" x2="629.2" y2="297.98" stroke="#3a3af0" stroke-width="0.7"/>
<line x1="626" y1="304.87" x2="629.2" y2="304.87" stroke="#3a3af0" stroke-width="0.7"/>
<line x1="635.11" y1="300.56" x2="635.11" y2="307.45" stroke="#3a3af0" stroke-width="0.7"/>
<line x1="633.51" y1="300.56" x2="636.71" y2="300.56" stroke="#3a3af0" stroke-width="0.7"/>
<line x1="633.51" y1="307.45" x2="636.71" y2="307.45" stroke="#3a3af0" stroke-width="0.7"/>
<line x1="642.62" y1="303.43" x2="642.62" y2="309.17" stroke="#3a3af0" stroke-width="0.7"/>
<line x1="641.02" y1="303.43" x2="644.23" y2="303.43" stroke="#3a3af0" stroke-width="0.7"/>
<line x1="641.02" y1="309.17" x2="644.23" y2="309.17" stroke="#3a3af0" stroke-width="0.7"/>
<line x1="650.14" y1="307.45" x2="650.14" y2="310.89" stroke="#3a3af0" stroke-width="0.7"/>
<line x1="648.54" y1="307.45" x2="651.74" y2="307.45" stroke="#3a3af0" stroke-width="0.7"/>
<line x1="648.54" y1="310.89" x2="651.74" y2="310.89" stroke="#3a3af0" stroke-width="0.7"/>
<line x1="657.65" y1="313.76" x2="657.65" y2="317.21" stroke="#3a3af0" stroke-width="0.7"/>
<line x1="656.05" y1="313.76" x2="659.25" y2="313.76" stroke="#3a3af0" stroke-width="0.7"/>
<line x1="656.05" y1="317.21" x2="659.25" y2="317.21" stroke="#3a3af0" stroke-width="0.7"/>
<line x1="665.17" y1="314.34" x2="665.17" y2="318.93" stroke="#3a3af0" stroke-width="0.7"/>
<line x1="663.57" y1="314.34" x2="666.77" y2="314.34" stroke="#3a3af0" stroke-width="0.7"/>
<line x1="663.57" y1="318.93" x2="666.77" y2="318.93" stroke="#3a3af0" stroke-width="0.7"/>
<line x1="672.68" y1="317.21" x2="672.68" y2="320.65" stroke="#3a3af0" stroke-width="0.7"/>
<line x1="671.08" y1="317.21" x2="674.28" y2="317.21" stroke="#3a3af0" stroke-width="0.7"/>
<line x1="671.08" y1="320.65" x2="674.28" y2="320.65" stroke="#3a3af0" stroke-width="0.7"/>
<line x1="680.2" y1="317.21" x2="680.2" y2="320.65" stroke="#3a3af0" stroke-width="0.7"/>
<line x1="678.6" y1="317.21" x2="681.8" y2="317.21" stroke="#3a3af0" stroke-width="0.7"/>
<line x1="678.6" y1="320.65" x2="681.8" y2="320.65" stroke="#3a3af0" stroke-width="0.7"/>
<circle cx="537.41" cy="269.85" r="2.9" fill="url(#ball)"/>
<circle cx="544.93" cy="270.43" r="2.9" fill="url(#ball)"/>
<circle cx="552.44" cy="271.86" r="2.9" fill="url(#ball)"/>
<circle cx="559.96" cy="274.44" r="2.9" fill="url(#ball)"/>
<circle cx="567.48" cy="271.86" r="2.9" fill="url(#ball)"/>
<circle cx="574.99" cy="280.18" r="2.9" fill="url(#ball)"/>
<circle cx="582.5" cy="282.48" r="2.9" fill="url(#ball)"/>
<circle cx="590.02" cy="290.52" r="2.9" fill="url(#ball)"/>
<circle cx="597.53" cy="290.52" r="2.9" fill="url(#ball)"/>
<circle cx="605.05" cy="293.1" r="2.9" fill="url(#ball)"/>
<circle cx="612.56" cy="295.11" r="2.9" fill="url(#ball)"/>
<circle cx="620.08" cy="298.55" r="2.9" fill="url(#ball)"/>
<circle cx="627.6" cy="301.42" r="2.9" fill="url(#ball)"/>
<circle cx="635.11" cy="304" r="2.9" fill="url(#ball)"/>
<circle cx="642.62" cy="306.3" r="2.9" fill="url(#ball)"/>
<circle cx="650.14" cy="309.17" r="2.9" fill="url(#ball)"/>
<circle cx="657.65" cy="315.48" r="2.9" fill="url(#ball)"/>
<circle cx="665.17" cy="316.63" r="2.9" fill="url(#ball)"/>
<circle cx="672.68" cy="318.93" r="2.9" fill="url(#ball)"/>
<circle cx="680.2" cy="318.93" r="2.9" fill="url(#ball)"/>
</g>
<rect x="529.9" y="255.8" width="150.3" height="72.6" fill="none" stroke="#444" stroke-width="0.9"/>
<line x1="544.93" y1="328.4" x2="544.93" y2="327" stroke="#444" stroke-width="0.7"/>
<line x1="544.93" y1="255.8" x2="544.93" y2="257.2" stroke="#444" stroke-width="0.7"/>
<line x1="559.96" y1="328.4" x2="559.96" y2="326.2" stroke="#444" stroke-width="0.7"/>
<line x1="559.96" y1="255.8" x2="559.96" y2="258" stroke="#444" stroke-width="0.7"/>
<line x1="574.99" y1="328.4" x2="574.99" y2="327" stroke="#444" stroke-width="0.7"/>
<line x1="574.99" y1="255.8" x2="574.99" y2="257.2" stroke="#444" stroke-width="0.7"/>
<line x1="590.02" y1="328.4" x2="590.02" y2="326.2" stroke="#444" stroke-width="0.7"/>
<line x1="590.02" y1="255.8" x2="590.02" y2="258" stroke="#444" stroke-width="0.7"/>
<line x1="605.05" y1="328.4" x2="605.05" y2="327" stroke="#444" stroke-width="0.7"/>
<line x1="605.05" y1="255.8" x2="605.05" y2="257.2" stroke="#444" stroke-width="0.7"/>
<line x1="620.08" y1="328.4" x2="620.08" y2="326.2" stroke="#444" stroke-width="0.7"/>
<line x1="620.08" y1="255.8" x2="620.08" y2="258" stroke="#444" stroke-width="0.7"/>
<line x1="635.11" y1="328.4" x2="635.11" y2="327" stroke="#444" stroke-width="0.7"/>
<line x1="635.11" y1="255.8" x2="635.11" y2="257.2" stroke="#444" stroke-width="0.7"/>
<line x1="650.14" y1="328.4" x2="650.14" y2="326.2" stroke="#444" stroke-width="0.7"/>
<line x1="650.14" y1="255.8" x2="650.14" y2="258" stroke="#444" stroke-width="0.7"/>
<line x1="665.17" y1="328.4" x2="665.17" y2="327" stroke="#444" stroke-width="0.7"/>
<line x1="665.17" y1="255.8" x2="665.17" y2="257.2" stroke="#444" stroke-width="0.7"/>
<line x1="680.2" y1="328.4" x2="680.2" y2="326.2" stroke="#444" stroke-width="0.7"/>
<line x1="680.2" y1="255.8" x2="680.2" y2="258" stroke="#444" stroke-width="0.7"/>
<line x1="529.9" y1="314.05" x2="531.3" y2="314.05" stroke="#444" stroke-width="0.7"/>
<line x1="680.2" y1="314.05" x2="678.8" y2="314.05" stroke="#444" stroke-width="0.7"/>
<line x1="529.9" y1="299.7" x2="532.1" y2="299.7" stroke="#444" stroke-width="0.7"/>
<line x1="680.2" y1="299.7" x2="678" y2="299.7" stroke="#444" stroke-width="0.7"/>
<line x1="529.9" y1="285.35" x2="531.3" y2="285.35" stroke="#444" stroke-width="0.7"/>
<line x1="680.2" y1="285.35" x2="678.8" y2="285.35" stroke="#444" stroke-width="0.7"/>
<line x1="529.9" y1="271" x2="532.1" y2="271" stroke="#444" stroke-width="0.7"/>
<line x1="680.2" y1="271" x2="678" y2="271" stroke="#444" stroke-width="0.7"/>
<text x="525.5" y="331.5" font-size="8.8" text-anchor="end" fill="#242424">0</text>
<text x="525.5" y="302.8" font-size="8.8" text-anchor="end" fill="#242424">500</text>
<text x="525.5" y="274.1" font-size="8.8" text-anchor="end" fill="#242424">1000</text>
<text x="529.9" y="339.6" font-size="8.8" text-anchor="middle" fill="#242424">0</text>
<text x="559.96" y="339.6" font-size="8.8" text-anchor="middle" fill="#242424">2</text>
<text x="590.02" y="339.6" font-size="8.8" text-anchor="middle" fill="#242424">4</text>
<text x="620.08" y="339.6" font-size="8.8" text-anchor="middle" fill="#242424">6</text>
<text x="650.14" y="339.6" font-size="8.8" text-anchor="middle" fill="#242424">8</text>
<text x="680.2" y="339.6" font-size="8.8" text-anchor="middle" fill="#242424">10</text>
<text x="603" y="352.4" font-size="8.8" text-anchor="middle" fill="#242424"><tspan font-style="italic">V</tspan><tspan font-size="5.8" dy="2.3">GS</tspan><tspan dy="-2.3"> (V)</tspan></text>
<text x="503.2" y="295.7" font-size="10" text-anchor="middle" font-style="italic" fill="#242424" transform="rotate(-90 503.2 295.7)">Q</text>
<text x="505.4" y="257.8" font-size="14.5" text-anchor="start" font-weight="bold" fill="#000">j</text>
<text x="536.5" y="316.3" font-size="9.6" text-anchor="start" fill="#242424"><tspan font-style="italic">δ</tspan> = 0.007</text>
<text x="621" y="276.6" font-size="6.6" text-anchor="start" fill="#242424"><tspan font-style="italic">v</tspan><tspan font-size="4.2" dy="1.2">RF</tspan><tspan dy="-1.2"> = 20 mV</tspan></text>
<path d="M529.8 166.4 Q515 176 496 180.6" stroke="#7030a8" stroke-width="1.7" fill="none"/>
<path d="M490 181.8 L498.2 176.6 L497.6 184.2 Z" fill="#7030a8"/>
<path d="M544.1 272.8 Q520 284 497 288.8" stroke="#7030a8" stroke-width="1.7" fill="none"/>
<path d="M490.8 290 L499 284.8 L498.4 292.4 Z" fill="#7030a8"/>
</svg></body></html>
